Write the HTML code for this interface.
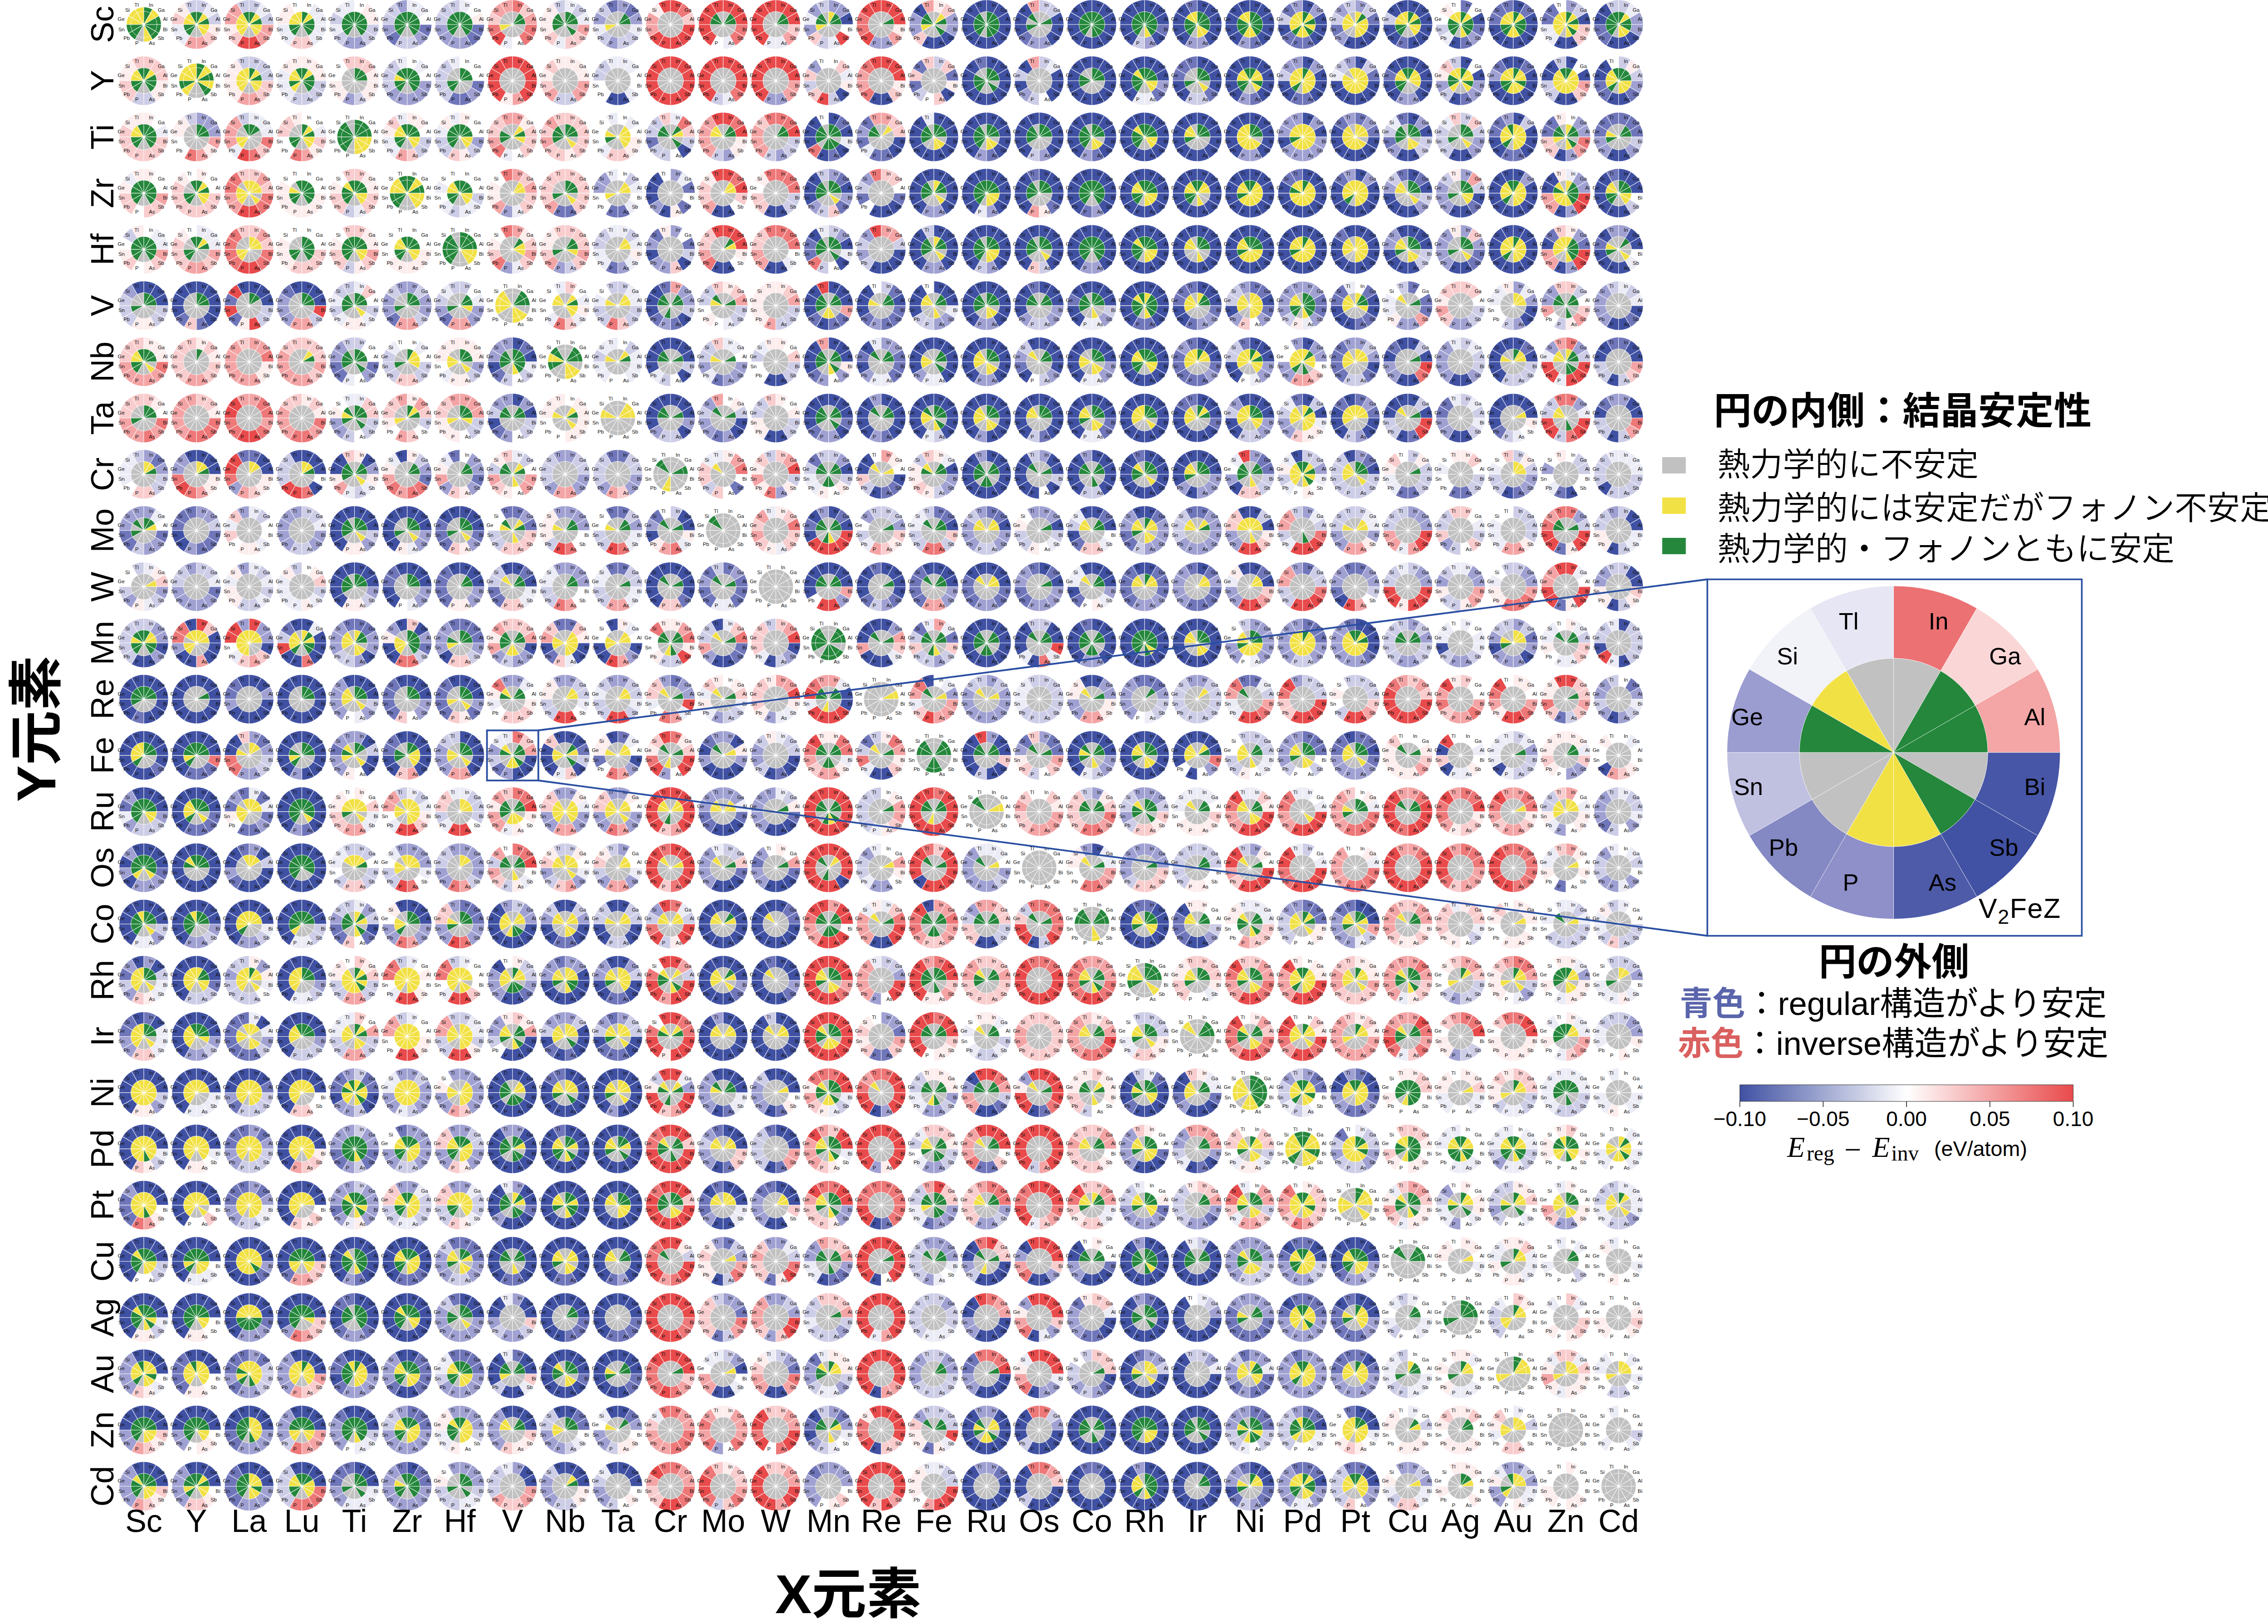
<!DOCTYPE html>
<html lang="ja"><head><meta charset="utf-8"><title>X2YZ Heusler stability map</title>
<style>html,body{margin:0;padding:0;background:#fff}svg{display:block}text{font-family:"Liberation Sans","Noto Sans CJK JP",sans-serif}.m text{font-family:"Liberation Serif",serif}.k1{fill:#ececf6}.a{fill:#fdeded}.k2{fill:#cdcde7}.b{fill:#f9cccd}.k3{fill:#a0a1d2}.c{fill:#f4a4a5}.k4{fill:#7076ba}.d{fill:#ee7778}.k5{fill:#4051a3}.e{fill:#e94a4b}.x{fill:#c1c1c1}.y{fill:#f2e144}.g{fill:#24873b}</style></head>
<body><svg width="5029" height="3581" viewBox="0 0 5029 3581">
<rect width="5029" height="3581" fill="#fff"/>
<defs><path id="daa" d="M0 0L0 -38A38 38 0 0 1 19 -32.9Z"/><path id="dac" d="M0 0L0 -38A38 38 0 0 1 38 0Z"/><path id="dae" d="M0 0L0 -38A38 38 0 0 1 19 32.9Z"/><path id="dal" d="M0 -38 A38 38 0 1 1 0 38 A38 38 0 1 1 0 -38Z"/><path id="dba" d="M0 0L19 -32.9A38 38 0 0 1 32.9 -19Z"/><path id="dbb" d="M0 0L19 -32.9A38 38 0 0 1 38 0Z"/><path id="dca" d="M0 0L32.9 -19A38 38 0 0 1 38 0Z"/><path id="dcc" d="M0 0L32.9 -19A38 38 0 0 1 19 32.9Z"/><path id="dda" d="M0 0L38 0A38 38 0 0 1 32.9 19Z"/><path id="ddb" d="M0 0L38 0A38 38 0 0 1 19 32.9Z"/><path id="ddc" d="M0 0L38 0A38 38 0 0 1 0 38Z"/><path id="dde" d="M0 0L38 0A38 38 0 0 1 -32.9 19Z"/><path id="ddf" d="M0 0L38 0A38 38 0 0 1 -38 0Z"/><path id="ddg" d="M0 0L38 0A38 38 0 1 1 -32.9 -19Z"/><path id="ddk" d="M0 0L38 0A38 38 0 1 1 32.9 -19Z"/><path id="dea" d="M0 0L32.9 19A38 38 0 0 1 19 32.9Z"/><path id="deb" d="M0 0L32.9 19A38 38 0 0 1 0 38Z"/><path id="dec" d="M0 0L32.9 19A38 38 0 0 1 -19 32.9Z"/><path id="dfa" d="M0 0L19 32.9A38 38 0 0 1 0 38Z"/><path id="dfb" d="M0 0L19 32.9A38 38 0 0 1 -19 32.9Z"/><path id="dfc" d="M0 0L19 32.9A38 38 0 0 1 -32.9 19Z"/><path id="dga" d="M0 0L0 38A38 38 0 0 1 -19 32.9Z"/><path id="dgb" d="M0 0L0 38A38 38 0 0 1 -32.9 19Z"/><path id="dgc" d="M0 0L0 38A38 38 0 0 1 -38 0Z"/><path id="dha" d="M0 0L-19 32.9A38 38 0 0 1 -32.9 19Z"/><path id="dhb" d="M0 0L-19 32.9A38 38 0 0 1 -38 0Z"/><path id="dhc" d="M0 0L-19 32.9A38 38 0 0 1 -32.9 -19Z"/><path id="dhd" d="M0 0L-19 32.9A38 38 0 0 1 -19 -32.9Z"/><path id="dia" d="M0 0L-32.9 19A38 38 0 0 1 -38 0Z"/><path id="dib" d="M0 0L-32.9 19A38 38 0 0 1 -32.9 -19Z"/><path id="dic" d="M0 0L-32.9 19A38 38 0 0 1 -19 -32.9Z"/><path id="dja" d="M0 0L-38 0A38 38 0 0 1 -32.9 -19Z"/><path id="djb" d="M0 0L-38 0A38 38 0 0 1 -19 -32.9Z"/><path id="djc" d="M0 0L-38 0A38 38 0 0 1 0 -38Z"/><path id="dka" d="M0 0L-32.9 -19A38 38 0 0 1 -19 -32.9Z"/><path id="dkb" d="M0 0L-32.9 -19A38 38 0 0 1 0 -38Z"/><path id="dkc" d="M0 0L-32.9 -19A38 38 0 0 1 19 -32.9Z"/><path id="dla" d="M0 0L-19 -32.9A38 38 0 0 1 0 -38Z"/><path id="dlb" d="M0 0L-19 -32.9A38 38 0 0 1 19 -32.9Z"/><path id="dlc" d="M0 0L-19 -32.9A38 38 0 0 1 32.9 -19Z"/><path id="dlk" d="M0 0L-19 -32.9A38 38 0 1 1 -32.9 -19Z"/><path id="iaa" d="M0 0L0 -28.5A28.5 28.5 0 0 1 14.2 -24.7Z"/><path id="iab" d="M0 0L0 -28.5A28.5 28.5 0 0 1 24.7 -14.3Z"/><path id="iac" d="M0 0L0 -28.5A28.5 28.5 0 0 1 28.5 0Z"/><path id="iad" d="M0 0L0 -28.5A28.5 28.5 0 0 1 24.7 14.2Z"/><path id="iae" d="M0 0L0 -28.5A28.5 28.5 0 0 1 14.2 24.7Z"/><path id="iaf" d="M0 0L0 -28.5A28.5 28.5 0 0 1 0 28.5Z"/><path id="ial" d="M0 -28.5 A28.5 28.5 0 1 1 0 28.5 A28.5 28.5 0 1 1 0 -28.5Z"/><path id="iba" d="M0 0L14.2 -24.7A28.5 28.5 0 0 1 24.7 -14.3Z"/><path id="ibb" d="M0 0L14.2 -24.7A28.5 28.5 0 0 1 28.5 0Z"/><path id="ibc" d="M0 0L14.2 -24.7A28.5 28.5 0 0 1 24.7 14.2Z"/><path id="ibd" d="M0 0L14.2 -24.7A28.5 28.5 0 0 1 14.2 24.7Z"/><path id="ibe" d="M0 0L14.2 -24.7A28.5 28.5 0 0 1 0 28.5Z"/><path id="ibf" d="M0 0L14.2 -24.7A28.5 28.5 0 0 1 -14.3 24.7Z"/><path id="ibg" d="M0 0L14.2 -24.7A28.5 28.5 0 1 1 -24.7 14.3Z"/><path id="ibh" d="M0 0L14.2 -24.7A28.5 28.5 0 1 1 -28.5 0Z"/><path id="ibj" d="M0 0L14.2 -24.7A28.5 28.5 0 1 1 -14.3 -24.7Z"/><path id="ibk" d="M0 0L14.2 -24.7A28.5 28.5 0 1 1 0 -28.5Z"/><path id="ica" d="M0 0L24.7 -14.3A28.5 28.5 0 0 1 28.5 0Z"/><path id="icb" d="M0 0L24.7 -14.3A28.5 28.5 0 0 1 24.7 14.2Z"/><path id="icc" d="M0 0L24.7 -14.3A28.5 28.5 0 0 1 14.2 24.7Z"/><path id="icd" d="M0 0L24.7 -14.3A28.5 28.5 0 0 1 0 28.5Z"/><path id="ice" d="M0 0L24.7 -14.3A28.5 28.5 0 0 1 -14.3 24.7Z"/><path id="icf" d="M0 0L24.7 -14.3A28.5 28.5 0 0 1 -24.7 14.3Z"/><path id="icg" d="M0 0L24.7 -14.3A28.5 28.5 0 1 1 -28.5 0Z"/><path id="ici" d="M0 0L24.7 -14.3A28.5 28.5 0 1 1 -14.3 -24.7Z"/><path id="icj" d="M0 0L24.7 -14.3A28.5 28.5 0 1 1 0 -28.5Z"/><path id="ick" d="M0 0L24.7 -14.3A28.5 28.5 0 1 1 14.2 -24.7Z"/><path id="ida" d="M0 0L28.5 0A28.5 28.5 0 0 1 24.7 14.2Z"/><path id="idb" d="M0 0L28.5 0A28.5 28.5 0 0 1 14.2 24.7Z"/><path id="idc" d="M0 0L28.5 0A28.5 28.5 0 0 1 0 28.5Z"/><path id="idd" d="M0 0L28.5 0A28.5 28.5 0 0 1 -14.3 24.7Z"/><path id="ide" d="M0 0L28.5 0A28.5 28.5 0 0 1 -24.7 14.3Z"/><path id="idf" d="M0 0L28.5 0A28.5 28.5 0 0 1 -28.5 0Z"/><path id="idg" d="M0 0L28.5 0A28.5 28.5 0 1 1 -24.7 -14.3Z"/><path id="idh" d="M0 0L28.5 0A28.5 28.5 0 1 1 -14.3 -24.7Z"/><path id="idi" d="M0 0L28.5 0A28.5 28.5 0 1 1 0 -28.5Z"/><path id="idj" d="M0 0L28.5 0A28.5 28.5 0 1 1 14.2 -24.7Z"/><path id="idk" d="M0 0L28.5 0A28.5 28.5 0 1 1 24.7 -14.2Z"/><path id="iea" d="M0 0L24.7 14.2A28.5 28.5 0 0 1 14.2 24.7Z"/><path id="ieb" d="M0 0L24.7 14.2A28.5 28.5 0 0 1 0 28.5Z"/><path id="iec" d="M0 0L24.7 14.2A28.5 28.5 0 0 1 -14.3 24.7Z"/><path id="ied" d="M0 0L24.7 14.2A28.5 28.5 0 0 1 -24.7 14.3Z"/><path id="ieg" d="M0 0L24.7 14.2A28.5 28.5 0 1 1 -14.3 -24.7Z"/><path id="ieh" d="M0 0L24.7 14.2A28.5 28.5 0 1 1 0 -28.5Z"/><path id="iei" d="M0 0L24.7 14.2A28.5 28.5 0 1 1 14.2 -24.7Z"/><path id="ifa" d="M0 0L14.2 24.7A28.5 28.5 0 0 1 0 28.5Z"/><path id="ifb" d="M0 0L14.2 24.7A28.5 28.5 0 0 1 -14.3 24.7Z"/><path id="ifc" d="M0 0L14.2 24.7A28.5 28.5 0 0 1 -24.7 14.3Z"/><path id="ifd" d="M0 0L14.2 24.7A28.5 28.5 0 0 1 -28.5 0Z"/><path id="iff" d="M0 0L14.2 24.7A28.5 28.5 0 0 1 -14.3 -24.7Z"/><path id="ifk" d="M0 0L14.2 24.7A28.5 28.5 0 1 1 24.7 14.2Z"/><path id="iga" d="M0 0L0 28.5A28.5 28.5 0 0 1 -14.3 24.7Z"/><path id="igb" d="M0 0L0 28.5A28.5 28.5 0 0 1 -24.7 14.3Z"/><path id="igc" d="M0 0L0 28.5A28.5 28.5 0 0 1 -28.5 0Z"/><path id="igi" d="M0 0L0 28.5A28.5 28.5 0 1 1 28.5 0Z"/><path id="igk" d="M0 0L0 28.5A28.5 28.5 0 1 1 14.2 24.7Z"/><path id="iha" d="M0 0L-14.3 24.7A28.5 28.5 0 0 1 -24.7 14.3Z"/><path id="ihb" d="M0 0L-14.3 24.7A28.5 28.5 0 0 1 -28.5 0Z"/><path id="ihc" d="M0 0L-14.3 24.7A28.5 28.5 0 0 1 -24.7 -14.3Z"/><path id="ihd" d="M0 0L-14.3 24.7A28.5 28.5 0 0 1 -14.3 -24.7Z"/><path id="ihe" d="M0 0L-14.3 24.7A28.5 28.5 0 0 1 0 -28.5Z"/><path id="ihf" d="M0 0L-14.3 24.7A28.5 28.5 0 0 1 14.2 -24.7Z"/><path id="ihh" d="M0 0L-14.3 24.7A28.5 28.5 0 1 1 28.5 0Z"/><path id="ihi" d="M0 0L-14.3 24.7A28.5 28.5 0 1 1 24.7 14.2Z"/><path id="ihj" d="M0 0L-14.3 24.7A28.5 28.5 0 1 1 14.2 24.7Z"/><path id="ihk" d="M0 0L-14.3 24.7A28.5 28.5 0 1 1 0 28.5Z"/><path id="iia" d="M0 0L-24.7 14.3A28.5 28.5 0 0 1 -28.5 0Z"/><path id="iib" d="M0 0L-24.7 14.3A28.5 28.5 0 0 1 -24.7 -14.3Z"/><path id="iic" d="M0 0L-24.7 14.3A28.5 28.5 0 0 1 -14.3 -24.7Z"/><path id="iid" d="M0 0L-24.7 14.3A28.5 28.5 0 0 1 0 -28.5Z"/><path id="iie" d="M0 0L-24.7 14.3A28.5 28.5 0 0 1 14.2 -24.7Z"/><path id="iig" d="M0 0L-24.7 14.3A28.5 28.5 0 1 1 28.5 0Z"/><path id="iih" d="M0 0L-24.7 14.3A28.5 28.5 0 1 1 24.7 14.2Z"/><path id="iij" d="M0 0L-24.7 14.3A28.5 28.5 0 1 1 0 28.5Z"/><path id="ija" d="M0 0L-28.5 0A28.5 28.5 0 0 1 -24.7 -14.3Z"/><path id="ijb" d="M0 0L-28.5 0A28.5 28.5 0 0 1 -14.3 -24.7Z"/><path id="ijc" d="M0 0L-28.5 0A28.5 28.5 0 0 1 0 -28.5Z"/><path id="ijd" d="M0 0L-28.5 0A28.5 28.5 0 0 1 14.2 -24.7Z"/><path id="ijf" d="M0 0L-28.5 0A28.5 28.5 0 0 1 28.5 0Z"/><path id="ijh" d="M0 0L-28.5 0A28.5 28.5 0 1 1 14.2 24.7Z"/><path id="ijk" d="M0 0L-28.5 0A28.5 28.5 0 1 1 -24.7 14.2Z"/><path id="ika" d="M0 0L-24.7 -14.3A28.5 28.5 0 0 1 -14.3 -24.7Z"/><path id="ikb" d="M0 0L-24.7 -14.3A28.5 28.5 0 0 1 0 -28.5Z"/><path id="ikc" d="M0 0L-24.7 -14.3A28.5 28.5 0 0 1 14.2 -24.7Z"/><path id="ikd" d="M0 0L-24.7 -14.3A28.5 28.5 0 0 1 24.7 -14.2Z"/><path id="ike" d="M0 0L-24.7 -14.3A28.5 28.5 0 0 1 28.5 0Z"/><path id="ikg" d="M0 0L-24.7 -14.3A28.5 28.5 0 1 1 14.2 24.7Z"/><path id="ila" d="M0 0L-14.3 -24.7A28.5 28.5 0 0 1 0 -28.5Z"/><path id="ilb" d="M0 0L-14.3 -24.7A28.5 28.5 0 0 1 14.2 -24.7Z"/><path id="ilc" d="M0 0L-14.3 -24.7A28.5 28.5 0 0 1 24.7 -14.2Z"/><path id="ild" d="M0 0L-14.3 -24.7A28.5 28.5 0 0 1 28.5 0Z"/><path id="ilf" d="M0 0L-14.3 -24.7A28.5 28.5 0 0 1 14.2 24.7Z"/><path id="ilg" d="M0 0L-14.3 -24.7A28.5 28.5 0 1 1 0 28.5Z"/><path id="ilk" d="M0 0L-14.3 -24.7A28.5 28.5 0 1 1 -24.7 -14.2Z"/><path id="oaa" d="M0 -53.7A53.7 53.7 0 0 1 26.8 -46.5L14.2 -24.7A28.5 28.5 0 0 0 0 -28.5Z"/><path id="oab" d="M0 -53.7A53.7 53.7 0 0 1 46.5 -26.9L24.7 -14.3A28.5 28.5 0 0 0 0 -28.5Z"/><path id="oac" d="M0 -53.7A53.7 53.7 0 0 1 53.7 0L28.5 0A28.5 28.5 0 0 0 0 -28.5Z"/><path id="oad" d="M0 -53.7A53.7 53.7 0 0 1 46.5 26.8L24.7 14.2A28.5 28.5 0 0 0 0 -28.5Z"/><path id="oae" d="M0 -53.7A53.7 53.7 0 0 1 26.8 46.5L14.2 24.7A28.5 28.5 0 0 0 0 -28.5Z"/><path id="oaj" d="M0 -53.7A53.7 53.7 0 1 1 -46.5 -26.9L-24.7 -14.3A28.5 28.5 0 1 0 0 -28.5Z"/><path id="oak" d="M0 -53.7A53.7 53.7 0 1 1 -26.9 -46.5L-14.3 -24.7A28.5 28.5 0 1 0 0 -28.5Z"/><path id="oal" d="M0 -53.7 A53.7 53.7 0 1 1 0 53.7 A53.7 53.7 0 1 1 0 -53.7ZM0 -28.5 A28.5 28.5 0 1 0 0 28.5 A28.5 28.5 0 1 0 0 -28.5Z"/><path id="oba" d="M26.8 -46.5A53.7 53.7 0 0 1 46.5 -26.9L24.7 -14.3A28.5 28.5 0 0 0 14.2 -24.7Z"/><path id="obb" d="M26.8 -46.5A53.7 53.7 0 0 1 53.7 0L28.5 0A28.5 28.5 0 0 0 14.2 -24.7Z"/><path id="obc" d="M26.8 -46.5A53.7 53.7 0 0 1 46.5 26.8L24.7 14.2A28.5 28.5 0 0 0 14.2 -24.7Z"/><path id="obd" d="M26.8 -46.5A53.7 53.7 0 0 1 26.8 46.5L14.2 24.7A28.5 28.5 0 0 0 14.2 -24.7Z"/><path id="obe" d="M26.8 -46.5A53.7 53.7 0 0 1 0 53.7L0 28.5A28.5 28.5 0 0 0 14.2 -24.7Z"/><path id="obf" d="M26.8 -46.5A53.7 53.7 0 0 1 -26.9 46.5L-14.3 24.7A28.5 28.5 0 0 0 14.2 -24.7Z"/><path id="obg" d="M26.8 -46.5A53.7 53.7 0 1 1 -46.5 26.9L-24.7 14.3A28.5 28.5 0 1 0 14.2 -24.7Z"/><path id="obj" d="M26.8 -46.5A53.7 53.7 0 1 1 -26.9 -46.5L-14.3 -24.7A28.5 28.5 0 1 0 14.2 -24.7Z"/><path id="obk" d="M26.8 -46.5A53.7 53.7 0 1 1 0 -53.7L0 -28.5A28.5 28.5 0 1 0 14.2 -24.7Z"/><path id="oca" d="M46.5 -26.9A53.7 53.7 0 0 1 53.7 0L28.5 0A28.5 28.5 0 0 0 24.7 -14.3Z"/><path id="ocb" d="M46.5 -26.9A53.7 53.7 0 0 1 46.5 26.8L24.7 14.2A28.5 28.5 0 0 0 24.7 -14.3Z"/><path id="occ" d="M46.5 -26.9A53.7 53.7 0 0 1 26.8 46.5L14.2 24.7A28.5 28.5 0 0 0 24.7 -14.3Z"/><path id="ocd" d="M46.5 -26.9A53.7 53.7 0 0 1 0 53.7L0 28.5A28.5 28.5 0 0 0 24.7 -14.3Z"/><path id="oce" d="M46.5 -26.9A53.7 53.7 0 0 1 -26.9 46.5L-14.3 24.7A28.5 28.5 0 0 0 24.7 -14.3Z"/><path id="ocg" d="M46.5 -26.9A53.7 53.7 0 1 1 -53.7 0L-28.5 0A28.5 28.5 0 1 0 24.7 -14.3Z"/><path id="och" d="M46.5 -26.9A53.7 53.7 0 1 1 -46.5 -26.9L-24.7 -14.3A28.5 28.5 0 1 0 24.7 -14.3Z"/><path id="oci" d="M46.5 -26.9A53.7 53.7 0 1 1 -26.9 -46.5L-14.3 -24.7A28.5 28.5 0 1 0 24.7 -14.3Z"/><path id="ock" d="M46.5 -26.9A53.7 53.7 0 1 1 26.9 -46.5L14.2 -24.7A28.5 28.5 0 1 0 24.7 -14.3Z"/><path id="oda" d="M53.7 0A53.7 53.7 0 0 1 46.5 26.8L24.7 14.2A28.5 28.5 0 0 0 28.5 0Z"/><path id="odb" d="M53.7 0A53.7 53.7 0 0 1 26.8 46.5L14.2 24.7A28.5 28.5 0 0 0 28.5 0Z"/><path id="odc" d="M53.7 0A53.7 53.7 0 0 1 0 53.7L0 28.5A28.5 28.5 0 0 0 28.5 0Z"/><path id="odd" d="M53.7 0A53.7 53.7 0 0 1 -26.9 46.5L-14.3 24.7A28.5 28.5 0 0 0 28.5 0Z"/><path id="ode" d="M53.7 0A53.7 53.7 0 0 1 -46.5 26.9L-24.7 14.3A28.5 28.5 0 0 0 28.5 0Z"/><path id="odf" d="M53.7 0A53.7 53.7 0 0 1 -53.7 0L-28.5 0A28.5 28.5 0 0 0 28.5 0Z"/><path id="odg" d="M53.7 0A53.7 53.7 0 1 1 -46.5 -26.9L-24.7 -14.3A28.5 28.5 0 1 0 28.5 0Z"/><path id="odh" d="M53.7 0A53.7 53.7 0 1 1 -26.9 -46.5L-14.3 -24.7A28.5 28.5 0 1 0 28.5 0Z"/><path id="odj" d="M53.7 0A53.7 53.7 0 1 1 26.9 -46.5L14.2 -24.7A28.5 28.5 0 1 0 28.5 0Z"/><path id="oea" d="M46.5 26.8A53.7 53.7 0 0 1 26.8 46.5L14.2 24.7A28.5 28.5 0 0 0 24.7 14.2Z"/><path id="oeb" d="M46.5 26.8A53.7 53.7 0 0 1 0 53.7L0 28.5A28.5 28.5 0 0 0 24.7 14.2Z"/><path id="oec" d="M46.5 26.8A53.7 53.7 0 0 1 -26.9 46.5L-14.3 24.7A28.5 28.5 0 0 0 24.7 14.2Z"/><path id="oed" d="M46.5 26.8A53.7 53.7 0 0 1 -46.5 26.9L-24.7 14.3A28.5 28.5 0 0 0 24.7 14.2Z"/><path id="oee" d="M46.5 26.8A53.7 53.7 0 0 1 -53.7 0L-28.5 0A28.5 28.5 0 0 0 24.7 14.2Z"/><path id="oef" d="M46.5 26.8A53.7 53.7 0 0 1 -46.5 -26.9L-24.7 -14.3A28.5 28.5 0 0 0 24.7 14.2Z"/><path id="oek" d="M46.5 26.8A53.7 53.7 0 1 1 53.7 0L28.5 0A28.5 28.5 0 1 0 24.7 14.2Z"/><path id="ofa" d="M26.8 46.5A53.7 53.7 0 0 1 0 53.7L0 28.5A28.5 28.5 0 0 0 14.2 24.7Z"/><path id="ofb" d="M26.8 46.5A53.7 53.7 0 0 1 -26.9 46.5L-14.3 24.7A28.5 28.5 0 0 0 14.2 24.7Z"/><path id="ofc" d="M26.8 46.5A53.7 53.7 0 0 1 -46.5 26.9L-24.7 14.3A28.5 28.5 0 0 0 14.2 24.7Z"/><path id="ofd" d="M26.8 46.5A53.7 53.7 0 0 1 -53.7 0L-28.5 0A28.5 28.5 0 0 0 14.2 24.7Z"/><path id="ofe" d="M26.8 46.5A53.7 53.7 0 0 1 -46.5 -26.9L-24.7 -14.3A28.5 28.5 0 0 0 14.2 24.7Z"/><path id="off" d="M26.8 46.5A53.7 53.7 0 0 1 -26.9 -46.5L-14.3 -24.7A28.5 28.5 0 0 0 14.2 24.7Z"/><path id="ofg" d="M26.8 46.5A53.7 53.7 0 1 1 0 -53.7L0 -28.5A28.5 28.5 0 1 0 14.2 24.7Z"/><path id="ofj" d="M26.8 46.5A53.7 53.7 0 1 1 53.7 0L28.5 0A28.5 28.5 0 1 0 14.2 24.7Z"/><path id="ofk" d="M26.8 46.5A53.7 53.7 0 1 1 46.5 26.8L24.7 14.2A28.5 28.5 0 1 0 14.2 24.7Z"/><path id="oga" d="M0 53.7A53.7 53.7 0 0 1 -26.9 46.5L-14.3 24.7A28.5 28.5 0 0 0 0 28.5Z"/><path id="ogb" d="M0 53.7A53.7 53.7 0 0 1 -46.5 26.9L-24.7 14.3A28.5 28.5 0 0 0 0 28.5Z"/><path id="ogc" d="M0 53.7A53.7 53.7 0 0 1 -53.7 0L-28.5 0A28.5 28.5 0 0 0 0 28.5Z"/><path id="ogd" d="M0 53.7A53.7 53.7 0 0 1 -46.5 -26.9L-24.7 -14.3A28.5 28.5 0 0 0 0 28.5Z"/><path id="oge" d="M0 53.7A53.7 53.7 0 0 1 -26.9 -46.5L-14.3 -24.7A28.5 28.5 0 0 0 0 28.5Z"/><path id="ogi" d="M0 53.7A53.7 53.7 0 1 1 53.7 0L28.5 0A28.5 28.5 0 1 0 0 28.5Z"/><path id="oha" d="M-26.9 46.5A53.7 53.7 0 0 1 -46.5 26.9L-24.7 14.3A28.5 28.5 0 0 0 -14.3 24.7Z"/><path id="ohb" d="M-26.9 46.5A53.7 53.7 0 0 1 -53.7 0L-28.5 0A28.5 28.5 0 0 0 -14.3 24.7Z"/><path id="ohc" d="M-26.9 46.5A53.7 53.7 0 0 1 -46.5 -26.9L-24.7 -14.3A28.5 28.5 0 0 0 -14.3 24.7Z"/><path id="ohd" d="M-26.9 46.5A53.7 53.7 0 0 1 -26.9 -46.5L-14.3 -24.7A28.5 28.5 0 0 0 -14.3 24.7Z"/><path id="ohe" d="M-26.9 46.5A53.7 53.7 0 0 1 0 -53.7L0 -28.5A28.5 28.5 0 0 0 -14.3 24.7Z"/><path id="ohf" d="M-26.9 46.5A53.7 53.7 0 0 1 26.9 -46.5L14.2 -24.7A28.5 28.5 0 0 0 -14.3 24.7Z"/><path id="ohh" d="M-26.9 46.5A53.7 53.7 0 1 1 53.7 0L28.5 0A28.5 28.5 0 1 0 -14.3 24.7Z"/><path id="ohi" d="M-26.9 46.5A53.7 53.7 0 1 1 46.5 26.8L24.7 14.2A28.5 28.5 0 1 0 -14.3 24.7Z"/><path id="ohj" d="M-26.9 46.5A53.7 53.7 0 1 1 26.8 46.5L14.2 24.7A28.5 28.5 0 1 0 -14.3 24.7Z"/><path id="ohk" d="M-26.9 46.5A53.7 53.7 0 1 1 0 53.7L0 28.5A28.5 28.5 0 1 0 -14.3 24.7Z"/><path id="oia" d="M-46.5 26.9A53.7 53.7 0 0 1 -53.7 0L-28.5 0A28.5 28.5 0 0 0 -24.7 14.3Z"/><path id="oib" d="M-46.5 26.9A53.7 53.7 0 0 1 -46.5 -26.9L-24.7 -14.3A28.5 28.5 0 0 0 -24.7 14.3Z"/><path id="oic" d="M-46.5 26.9A53.7 53.7 0 0 1 -26.9 -46.5L-14.3 -24.7A28.5 28.5 0 0 0 -24.7 14.3Z"/><path id="oid" d="M-46.5 26.9A53.7 53.7 0 0 1 0 -53.7L0 -28.5A28.5 28.5 0 0 0 -24.7 14.3Z"/><path id="oif" d="M-46.5 26.9A53.7 53.7 0 0 1 46.5 -26.8L24.7 -14.2A28.5 28.5 0 0 0 -24.7 14.3Z"/><path id="oig" d="M-46.5 26.9A53.7 53.7 0 1 1 53.7 0L28.5 0A28.5 28.5 0 1 0 -24.7 14.3Z"/><path id="oii" d="M-46.5 26.9A53.7 53.7 0 1 1 26.8 46.5L14.2 24.7A28.5 28.5 0 1 0 -24.7 14.3Z"/><path id="oja" d="M-53.7 0A53.7 53.7 0 0 1 -46.5 -26.9L-24.7 -14.3A28.5 28.5 0 0 0 -28.5 0Z"/><path id="ojb" d="M-53.7 0A53.7 53.7 0 0 1 -26.9 -46.5L-14.3 -24.7A28.5 28.5 0 0 0 -28.5 0Z"/><path id="ojc" d="M-53.7 0A53.7 53.7 0 0 1 0 -53.7L0 -28.5A28.5 28.5 0 0 0 -28.5 0Z"/><path id="ojd" d="M-53.7 0A53.7 53.7 0 0 1 26.9 -46.5L14.2 -24.7A28.5 28.5 0 0 0 -28.5 0Z"/><path id="oje" d="M-53.7 0A53.7 53.7 0 0 1 46.5 -26.8L24.7 -14.2A28.5 28.5 0 0 0 -28.5 0Z"/><path id="ojf" d="M-53.7 0A53.7 53.7 0 0 1 53.7 0L28.5 0A28.5 28.5 0 0 0 -28.5 0Z"/><path id="ojh" d="M-53.7 0A53.7 53.7 0 1 1 26.8 46.5L14.2 24.7A28.5 28.5 0 1 0 -28.5 0Z"/><path id="oka" d="M-46.5 -26.9A53.7 53.7 0 0 1 -26.9 -46.5L-14.3 -24.7A28.5 28.5 0 0 0 -24.7 -14.3Z"/><path id="okb" d="M-46.5 -26.9A53.7 53.7 0 0 1 0 -53.7L0 -28.5A28.5 28.5 0 0 0 -24.7 -14.3Z"/><path id="okc" d="M-46.5 -26.9A53.7 53.7 0 0 1 26.9 -46.5L14.2 -24.7A28.5 28.5 0 0 0 -24.7 -14.3Z"/><path id="okd" d="M-46.5 -26.9A53.7 53.7 0 0 1 46.5 -26.8L24.7 -14.2A28.5 28.5 0 0 0 -24.7 -14.3Z"/><path id="oke" d="M-46.5 -26.9A53.7 53.7 0 0 1 53.7 0L28.5 0A28.5 28.5 0 0 0 -24.7 -14.3Z"/><path id="okg" d="M-46.5 -26.9A53.7 53.7 0 1 1 26.8 46.5L14.2 24.7A28.5 28.5 0 1 0 -24.7 -14.3Z"/><path id="okh" d="M-46.5 -26.9A53.7 53.7 0 1 1 0 53.7L0 28.5A28.5 28.5 0 1 0 -24.7 -14.3Z"/><path id="okj" d="M-46.5 -26.9A53.7 53.7 0 1 1 -46.5 26.8L-24.7 14.2A28.5 28.5 0 1 0 -24.7 -14.3Z"/><path id="ola" d="M-26.9 -46.5A53.7 53.7 0 0 1 0 -53.7L0 -28.5A28.5 28.5 0 0 0 -14.3 -24.7Z"/><path id="olb" d="M-26.9 -46.5A53.7 53.7 0 0 1 26.9 -46.5L14.2 -24.7A28.5 28.5 0 0 0 -14.3 -24.7Z"/><path id="olc" d="M-26.9 -46.5A53.7 53.7 0 0 1 46.5 -26.8L24.7 -14.2A28.5 28.5 0 0 0 -14.3 -24.7Z"/><path id="old" d="M-26.9 -46.5A53.7 53.7 0 0 1 53.7 0L28.5 0A28.5 28.5 0 0 0 -14.3 -24.7Z"/><path id="ole" d="M-26.9 -46.5A53.7 53.7 0 0 1 46.5 26.8L24.7 14.2A28.5 28.5 0 0 0 -14.3 -24.7Z"/><path id="olf" d="M-26.9 -46.5A53.7 53.7 0 0 1 26.8 46.5L14.2 24.7A28.5 28.5 0 0 0 -14.3 -24.7Z"/><path id="olg" d="M-26.9 -46.5A53.7 53.7 0 1 1 0 53.7L0 28.5A28.5 28.5 0 1 0 -14.3 -24.7Z"/><path id="oli" d="M-26.9 -46.5A53.7 53.7 0 1 1 -46.5 26.8L-24.7 14.2A28.5 28.5 0 1 0 -14.3 -24.7Z"/><path id="olk" d="M-26.9 -46.5A53.7 53.7 0 1 1 -46.5 -26.8L-24.7 -14.2A28.5 28.5 0 1 0 -14.3 -24.7Z"/><g id="S" fill="none" stroke="#fff" stroke-opacity="1"><path d="M0 -53.7L0 53.7M26.8 -46.5L-26.8 46.5M46.5 -26.9L-46.5 26.9M53.7 0L-53.7 0M46.5 26.8L-46.5 -26.8M26.8 46.5L-26.8 -46.5" stroke-width="1.1"/><circle r="28.5" stroke-width="0.8"/></g><g id="T" fill="none" stroke="#fff" stroke-opacity="1"><path d="M0 -38L0 38M19 -32.9L-19 32.9M32.9 -19L-32.9 19M38 0L-38 0M32.9 19L-32.9 -19M19 32.9L-19 -32.9" stroke-width="1.1"/><circle r="29" stroke-width="0.8"/></g><g id="L" font-size="11.4" fill="#111"><text x="11.3" y="-39">In</text><text x="30.9" y="-27.7">Ga</text><text x="42.2" y="-8.1">Al</text><text x="42.2" y="14.5">Bi</text><text x="30.9" y="34.1">Sb</text><text x="11.3" y="45.4">As</text><text x="-11.3" y="45.4" text-anchor="end">P</text><text x="-30.9" y="34.1" text-anchor="end">Pb</text><text x="-42.2" y="14.5" text-anchor="end">Sn</text><text x="-42.2" y="-8.1" text-anchor="end">Ge</text><text x="-30.9" y="-27.7" text-anchor="end">Si</text><text x="-11.3" y="-39" text-anchor="end">Tl</text></g></defs><g transform="translate(0,54)">
<g transform="translate(317)"><use href="#daa" class="g"/><use href="#dba" class="y"/><use href="#dcc" class="g"/><use href="#dfa" class="y"/><use href="#dga" class="x"/><use href="#dhb" class="g"/><use href="#djc" class="y"/><use href="#T"/><use href="#L"/></g>
<g transform="translate(433.1)"><use href="#oba" class="k1"/><use href="#oca" class="k2"/><use href="#oda" class="a"/><use href="#oea" class="b"/><use href="#ofb" class="c"/><use href="#ohb" class="k1"/><use href="#oja" class="b"/><use href="#oka" class="a"/><use href="#olb" class="k2"/><use href="#iba" class="y"/><use href="#ica" class="g"/><use href="#idb" class="y"/><use href="#ifb" class="x"/><use href="#ihb" class="g"/><use href="#ijb" class="y"/><use href="#ilb" class="g"/><use href="#S"/><use href="#L"/></g>
<g transform="translate(549.2)"><use href="#oba" class="k1"/><use href="#oca" class="k2"/><use href="#odb" class="c"/><use href="#ofb" class="e"/><use href="#oha" class="b"/><use href="#oia" class="a"/><use href="#ojb" class="c"/><use href="#olb" class="k2"/><use href="#iba" class="y"/><use href="#ica" class="g"/><use href="#idb" class="y"/><use href="#ifb" class="x"/><use href="#ihd" class="y"/><use href="#ilb" class="g"/><use href="#S"/><use href="#L"/></g>
<g transform="translate(665.4)"><use href="#obd" class="k1"/><use href="#ofb" class="b"/><use href="#ohb" class="k1"/><use href="#ojb" class="a"/><use href="#iaa" class="g"/><use href="#iba" class="y"/><use href="#icc" class="g"/><use href="#ifb" class="x"/><use href="#ihb" class="g"/><use href="#ijc" class="y"/><use href="#S"/><use href="#L"/></g>
<g transform="translate(781.5)"><use href="#obb" class="a"/><use href="#odb" class="k2"/><use href="#ofb" class="k3"/><use href="#oha" class="k2"/><use href="#oia" class="k1"/><use href="#oja" class="k2"/><use href="#okb" class="k1"/><use href="#ifb" class="x"/><use href="#ihj" class="g"/><use href="#S"/><use href="#L"/></g>
<g transform="translate(897.6)"><use href="#oab" class="k1"/><use href="#oda" class="k4"/><use href="#oea" class="k3"/><use href="#ofb" class="k2"/><use href="#oha" class="k4"/><use href="#oia" class="k3"/><use href="#ojb" class="k2"/><use href="#ola" class="k3"/><use href="#ifb" class="x"/><use href="#ihj" class="g"/><use href="#S"/><use href="#L"/></g>
<g transform="translate(1013.7)"><use href="#oaa" class="k1"/><use href="#oca" class="a"/><use href="#odb" class="k4"/><use href="#ofd" class="k3"/><use href="#ojc" class="k2"/><use href="#ifb" class="x"/><use href="#ihj" class="g"/><use href="#S"/><use href="#L"/></g>
<g transform="translate(1129.8)"><use href="#oaa" class="d"/><use href="#oba" class="b"/><use href="#oca" class="c"/><use href="#odb" class="d"/><use href="#oga" class="k1"/><use href="#oha" class="e"/><use href="#oia" class="d"/><use href="#oja" class="b"/><use href="#okb" class="c"/><use href="#ibb" class="g"/><use href="#ide" class="x"/><use href="#iia" class="y"/><use href="#ijd" class="x"/><use href="#S"/><use href="#L"/></g>
<g transform="translate(1246)"><use href="#oaa" class="k1"/><use href="#oba" class="k2"/><use href="#oca" class="k1"/><use href="#oda" class="c"/><use href="#oeb" class="b"/><use href="#oga" class="k1"/><use href="#oha" class="b"/><use href="#oic" class="a"/><use href="#ola" class="k2"/><use href="#iac" class="g"/><use href="#ida" class="x"/><use href="#iea" class="g"/><use href="#ifc" class="x"/><use href="#iic" class="g"/><use href="#ila" class="x"/><use href="#S"/><use href="#L"/></g>
<g transform="translate(1362.1)"><use href="#oaa" class="k3"/><use href="#oba" class="k4"/><use href="#oca" class="k3"/><use href="#oda" class="k1"/><use href="#oeb" class="k2"/><use href="#oga" class="k3"/><use href="#oha" class="k2"/><use href="#oia" class="k1"/><use href="#oja" class="k3"/><use href="#oka" class="k2"/><use href="#ola" class="k4"/><use href="#ibb" class="g"/><use href="#ide" class="x"/><use href="#iia" class="y"/><use href="#ijd" class="x"/><use href="#S"/><use href="#L"/></g>
<g transform="translate(1478.2)"><use href="#oba" class="d"/><use href="#oca" class="b"/><use href="#ode" class="e"/><use href="#oib" class="c"/><use href="#oka" class="a"/><use href="#olb" class="e"/><use href="#ial" class="x"/><use href="#S"/><use href="#L"/></g>
<g transform="translate(1594.3)"><use href="#odb" class="d"/><use href="#ofa" class="k1"/><use href="#ohh" class="e"/><use href="#ibb" class="g"/><use href="#idf" class="x"/><use href="#ijb" class="g"/><use href="#ilb" class="x"/><use href="#S"/><use href="#L"/></g>
<g transform="translate(1710.4)"><use href="#oda" class="b"/><use href="#oea" class="c"/><use href="#ofb" class="k1"/><use href="#ohh" class="e"/><use href="#ibb" class="g"/><use href="#idj" class="x"/><use href="#S"/><use href="#L"/></g>
<g transform="translate(1826.6)"><use href="#oab" class="k3"/><use href="#oca" class="k5"/><use href="#oea" class="e"/><use href="#ofa" class="k1"/><use href="#oga" class="k2"/><use href="#oha" class="b"/><use href="#oia" class="k3"/><use href="#oja" class="k1"/><use href="#oka" class="k3"/><use href="#ola" class="k2"/><use href="#iaa" class="y"/><use href="#ibb" class="g"/><use href="#ide" class="x"/><use href="#iia" class="y"/><use href="#ijb" class="g"/><use href="#ila" class="x"/><use href="#S"/><use href="#L"/></g>
<g transform="translate(1942.7)"><use href="#oda" class="a"/><use href="#oea" class="c"/><use href="#ofb" class="k3"/><use href="#oha" class="e"/><use href="#oib" class="d"/><use href="#oke" class="e"/><use href="#ica" class="g"/><use href="#idk" class="x"/><use href="#S"/><use href="#L"/></g>
<g transform="translate(2058.8)"><use href="#oaa" class="a"/><use href="#oba" class="b"/><use href="#ocb" class="k3"/><use href="#oec" class="k5"/><use href="#oha" class="b"/><use href="#oib" class="k3"/><use href="#oka" class="k5"/><use href="#ola" class="c"/><use href="#iba" class="y"/><use href="#ica" class="g"/><use href="#ida" class="x"/><use href="#iea" class="g"/><use href="#ifc" class="x"/><use href="#iia" class="y"/><use href="#ijb" class="g"/><use href="#ilb" class="x"/><use href="#S"/><use href="#L"/></g>
<g transform="translate(2174.9)"><use href="#oal" class="k5"/><use href="#iaf" class="g"/><use href="#iga" class="x"/><use href="#ihd" class="g"/><use href="#ila" class="x"/><use href="#S"/><use href="#L"/></g>
<g transform="translate(2291)"><use href="#oab" class="k2"/><use href="#occ" class="k5"/><use href="#ofb" class="k3"/><use href="#oha" class="k4"/><use href="#oic" class="k5"/><use href="#ola" class="c"/><use href="#ica" class="g"/><use href="#ide" class="x"/><use href="#iia" class="g"/><use href="#ija" class="x"/><use href="#ika" class="g"/><use href="#ilc" class="x"/><use href="#S"/><use href="#L"/></g>
<g transform="translate(2407.2)"><use href="#oal" class="k5"/><use href="#iga" class="x"/><use href="#ihk" class="g"/><use href="#S"/><use href="#L"/></g>
<g transform="translate(2523.3)"><use href="#oda" class="k4"/><use href="#oea" class="k5"/><use href="#ofa" class="k3"/><use href="#oga" class="k2"/><use href="#ohh" class="k5"/><use href="#ifa" class="y"/><use href="#iga" class="x"/><use href="#ihj" class="g"/><use href="#S"/><use href="#L"/></g>
<g transform="translate(2639.4)"><use href="#oae" class="k5"/><use href="#ofb" class="k3"/><use href="#ohd" class="k5"/><use href="#ola" class="k4"/><use href="#iad" class="g"/><use href="#ieb" class="y"/><use href="#iga" class="x"/><use href="#ihc" class="g"/><use href="#ikb" class="y"/><use href="#S"/><use href="#L"/></g>
<g transform="translate(2755.5)"><use href="#ofa" class="k4"/><use href="#oga" class="k3"/><use href="#ohj" class="k5"/><use href="#iae" class="g"/><use href="#ifb" class="y"/><use href="#ihc" class="g"/><use href="#ikb" class="y"/><use href="#S"/><use href="#L"/></g>
<g transform="translate(2871.6)"><use href="#oaa" class="k5"/><use href="#oba" class="k3"/><use href="#occ" class="k5"/><use href="#ofc" class="k4"/><use href="#oia" class="k5"/><use href="#oja" class="k2"/><use href="#oka" class="k4"/><use href="#ola" class="k3"/><use href="#iaa" class="g"/><use href="#iba" class="y"/><use href="#ica" class="g"/><use href="#ida" class="y"/><use href="#iea" class="g"/><use href="#ifb" class="y"/><use href="#iha" class="g"/><use href="#iid" class="y"/><use href="#S"/><use href="#L"/></g>
<g transform="translate(2987.8)"><use href="#oaa" class="k3"/><use href="#oba" class="k2"/><use href="#oca" class="k4"/><use href="#odd" class="k5"/><use href="#oha" class="k3"/><use href="#oia" class="k4"/><use href="#oja" class="k2"/><use href="#oka" class="k3"/><use href="#ola" class="k2"/><use href="#iaa" class="y"/><use href="#iba" class="g"/><use href="#icd" class="y"/><use href="#igb" class="x"/><use href="#iic" class="y"/><use href="#ila" class="x"/><use href="#S"/><use href="#L"/></g>
<g transform="translate(3103.9)"><use href="#oga" class="k4"/><use href="#ohb" class="k5"/><use href="#oja" class="k2"/><use href="#okh" class="k5"/><use href="#iaa" class="g"/><use href="#iba" class="y"/><use href="#ica" class="g"/><use href="#idb" class="y"/><use href="#ifb" class="x"/><use href="#ihb" class="g"/><use href="#ijc" class="y"/><use href="#S"/><use href="#L"/></g>
<g transform="translate(3220)"><use href="#oaa" class="k4"/><use href="#oca" class="k5"/><use href="#oda" class="k4"/><use href="#oea" class="k3"/><use href="#ofa" class="k4"/><use href="#oga" class="k5"/><use href="#oha" class="k1"/><use href="#oia" class="k2"/><use href="#oka" class="a"/><use href="#iaa" class="g"/><use href="#iba" class="y"/><use href="#icc" class="g"/><use href="#ifa" class="y"/><use href="#iga" class="x"/><use href="#ihc" class="g"/><use href="#ikb" class="y"/><use href="#S"/><use href="#L"/></g>
<g transform="translate(3336.1)"><use href="#oaa" class="k5"/><use href="#oba" class="k4"/><use href="#ocg" class="k5"/><use href="#ojc" class="k4"/><use href="#iaa" class="g"/><use href="#iba" class="y"/><use href="#icc" class="g"/><use href="#ifb" class="y"/><use href="#ihb" class="g"/><use href="#ijc" class="y"/><use href="#S"/><use href="#L"/></g>
<g transform="translate(3452.2)"><use href="#oaa" class="k3"/><use href="#oba" class="k2"/><use href="#oca" class="k5"/><use href="#odb" class="b"/><use href="#ofb" class="k5"/><use href="#ohb" class="k1"/><use href="#ojb" class="k4"/><use href="#iaa" class="g"/><use href="#iba" class="y"/><use href="#ica" class="g"/><use href="#ida" class="y"/><use href="#iea" class="g"/><use href="#ifa" class="y"/><use href="#iga" class="x"/><use href="#ihe" class="y"/><use href="#S"/><use href="#L"/></g>
<g transform="translate(3568.4)"><use href="#oba" class="k1"/><use href="#ocb" class="k3"/><use href="#oec" class="k5"/><use href="#ohb" class="k4"/><use href="#ojb" class="k5"/><use href="#olb" class="k2"/><use href="#iba" class="y"/><use href="#icb" class="g"/><use href="#ieb" class="y"/><use href="#iga" class="x"/><use href="#ihf" class="g"/><use href="#S"/><use href="#L"/></g>
</g>
<g transform="translate(0,178)">
<g transform="translate(317)"><use href="#odb" class="a"/><use href="#ofb" class="k2"/><use href="#ohb" class="b"/><use href="#ojb" class="a"/><use href="#old" class="b"/><use href="#iba" class="y"/><use href="#icc" class="g"/><use href="#ifb" class="x"/><use href="#ihb" class="g"/><use href="#ijb" class="y"/><use href="#ilb" class="g"/><use href="#S"/><use href="#L"/></g>
<g transform="translate(433.1)"><use href="#daa" class="g"/><use href="#dba" class="y"/><use href="#dca" class="g"/><use href="#dda" class="y"/><use href="#dea" class="g"/><use href="#dfb" class="x"/><use href="#dha" class="y"/><use href="#dia" class="g"/><use href="#djc" class="y"/><use href="#T"/><use href="#L"/></g>
<g transform="translate(549.2)"><use href="#odb" class="b"/><use href="#ofb" class="c"/><use href="#ohd" class="a"/><use href="#old" class="k2"/><use href="#iaa" class="g"/><use href="#iba" class="y"/><use href="#ica" class="g"/><use href="#idb" class="y"/><use href="#ifb" class="x"/><use href="#ihe" class="y"/><use href="#S"/><use href="#L"/></g>
<g transform="translate(665.4)"><use href="#odd" class="k2"/><use href="#ohc" class="k1"/><use href="#oke" class="a"/><use href="#iba" class="y"/><use href="#icc" class="g"/><use href="#ifb" class="x"/><use href="#iha" class="y"/><use href="#iia" class="g"/><use href="#ijb" class="y"/><use href="#ilb" class="g"/><use href="#S"/><use href="#L"/></g>
<g transform="translate(781.5)"><use href="#occ" class="a"/><use href="#ofa" class="k2"/><use href="#oga" class="k3"/><use href="#ohb" class="a"/><use href="#olc" class="b"/><use href="#iac" class="g"/><use href="#idi" class="x"/><use href="#S"/><use href="#L"/></g>
<g transform="translate(897.6)"><use href="#oba" class="k1"/><use href="#ode" class="k3"/><use href="#oic" class="k2"/><use href="#ola" class="k1"/><use href="#ifb" class="x"/><use href="#ihb" class="g"/><use href="#ija" class="y"/><use href="#ikg" class="g"/><use href="#S"/><use href="#L"/></g>
<g transform="translate(1013.7)"><use href="#oda" class="k4"/><use href="#oea" class="k3"/><use href="#ofb" class="k4"/><use href="#ohd" class="k2"/><use href="#ola" class="k1"/><use href="#iac" class="g"/><use href="#idd" class="x"/><use href="#ihb" class="g"/><use href="#ijc" class="x"/><use href="#S"/><use href="#L"/></g>
<g transform="translate(1129.8)"><use href="#ofa" class="c"/><use href="#oga" class="a"/><use href="#ohj" class="e"/><use href="#ial" class="x"/><use href="#S"/><use href="#L"/></g>
<g transform="translate(1246)"><use href="#odb" class="c"/><use href="#ofb" class="k2"/><use href="#oha" class="c"/><use href="#oia" class="b"/><use href="#oja" class="a"/><use href="#oka" class="b"/><use href="#old" class="a"/><use href="#ial" class="x"/><use href="#S"/><use href="#L"/></g>
<g transform="translate(1362.1)"><use href="#oea" class="k1"/><use href="#ofb" class="k5"/><use href="#ojb" class="k2"/><use href="#olc" class="k1"/><use href="#ial" class="x"/><use href="#S"/><use href="#L"/></g>
<g transform="translate(1478.2)"><use href="#oal" class="e"/><use href="#ial" class="x"/><use href="#S"/><use href="#L"/></g>
<g transform="translate(1594.3)"><use href="#oea" class="d"/><use href="#ofa" class="k1"/><use href="#oga" class="k2"/><use href="#ohi" class="e"/><use href="#ial" class="x"/><use href="#S"/><use href="#L"/></g>
<g transform="translate(1710.4)"><use href="#odb" class="c"/><use href="#ofb" class="k3"/><use href="#ohh" class="e"/><use href="#ial" class="x"/><use href="#S"/><use href="#L"/></g>
<g transform="translate(1826.6)"><use href="#oba" class="b"/><use href="#oca" class="k1"/><use href="#oda" class="a"/><use href="#oea" class="k5"/><use href="#ofa" class="k2"/><use href="#oga" class="e"/><use href="#oha" class="b"/><use href="#oia" class="k2"/><use href="#oja" class="b"/><use href="#oka" class="k3"/><use href="#ial" class="x"/><use href="#S"/><use href="#L"/></g>
<g transform="translate(1942.7)"><use href="#oda" class="a"/><use href="#oea" class="b"/><use href="#ofb" class="k5"/><use href="#oha" class="d"/><use href="#oib" class="c"/><use href="#oka" class="d"/><use href="#old" class="e"/><use href="#ial" class="x"/><use href="#S"/><use href="#L"/></g>
<g transform="translate(2058.8)"><use href="#oaa" class="k2"/><use href="#oba" class="b"/><use href="#oca" class="k4"/><use href="#oda" class="a"/><use href="#oea" class="k5"/><use href="#ofa" class="b"/><use href="#oha" class="k2"/><use href="#oia" class="k4"/><use href="#oja" class="b"/><use href="#oka" class="k4"/><use href="#ola" class="b"/><use href="#ial" class="x"/><use href="#S"/><use href="#L"/></g>
<g transform="translate(2174.9)"><use href="#oak" class="k5"/><use href="#ola" class="k4"/><use href="#iac" class="g"/><use href="#ida" class="x"/><use href="#iea" class="g"/><use href="#ifb" class="x"/><use href="#ihc" class="g"/><use href="#ikb" class="x"/><use href="#S"/><use href="#L"/></g>
<g transform="translate(2291)"><use href="#oaa" class="k2"/><use href="#oba" class="k1"/><use href="#occ" class="k5"/><use href="#oga" class="k2"/><use href="#oha" class="k3"/><use href="#oia" class="k5"/><use href="#oja" class="k2"/><use href="#oka" class="k5"/><use href="#ola" class="c"/><use href="#ial" class="x"/><use href="#S"/><use href="#L"/></g>
<g transform="translate(2407.2)"><use href="#oal" class="k5"/><use href="#iac" class="g"/><use href="#ide" class="x"/><use href="#iib" class="g"/><use href="#ikb" class="x"/><use href="#S"/><use href="#L"/></g>
<g transform="translate(2523.3)"><use href="#oda" class="k3"/><use href="#oea" class="k4"/><use href="#ofb" class="k1"/><use href="#ohh" class="k5"/><use href="#idb" class="y"/><use href="#ifb" class="x"/><use href="#ihc" class="g"/><use href="#ika" class="y"/><use href="#ild" class="g"/><use href="#S"/><use href="#L"/></g>
<g transform="translate(2639.4)"><use href="#oad" class="k5"/><use href="#oea" class="k4"/><use href="#ofb" class="k2"/><use href="#ohb" class="k5"/><use href="#ojc" class="k4"/><use href="#iac" class="g"/><use href="#ida" class="x"/><use href="#iea" class="y"/><use href="#ifc" class="x"/><use href="#iia" class="g"/><use href="#ijc" class="x"/><use href="#S"/><use href="#L"/></g>
<g transform="translate(2755.5)"><use href="#ofa" class="k4"/><use href="#oga" class="k3"/><use href="#ohj" class="k5"/><use href="#ibb" class="y"/><use href="#ida" class="g"/><use href="#iea" class="y"/><use href="#ifb" class="x"/><use href="#ihb" class="g"/><use href="#ijb" class="y"/><use href="#ilb" class="g"/><use href="#S"/><use href="#L"/></g>
<g transform="translate(2871.6)"><use href="#oaa" class="k5"/><use href="#oba" class="k3"/><use href="#occ" class="k5"/><use href="#ofb" class="k4"/><use href="#ohb" class="k5"/><use href="#oja" class="k2"/><use href="#okb" class="k3"/><use href="#iaa" class="g"/><use href="#ibe" class="y"/><use href="#iga" class="x"/><use href="#iha" class="g"/><use href="#iid" class="y"/><use href="#S"/><use href="#L"/></g>
<g transform="translate(2987.8)"><use href="#oaa" class="k5"/><use href="#oba" class="k2"/><use href="#oca" class="k4"/><use href="#odf" class="k5"/><use href="#oja" class="k1"/><use href="#oka" class="k2"/><use href="#ola" class="k3"/><use href="#ika" class="x"/><use href="#ilk" class="y"/><use href="#S"/><use href="#L"/></g>
<g transform="translate(3103.9)"><use href="#ofb" class="k3"/><use href="#ohb" class="k5"/><use href="#oja" class="k4"/><use href="#okg" class="k5"/><use href="#ibc" class="y"/><use href="#iec" class="x"/><use href="#ihb" class="g"/><use href="#ijb" class="y"/><use href="#ilb" class="g"/><use href="#S"/><use href="#L"/></g>
<g transform="translate(3220)"><use href="#oaa" class="k5"/><use href="#oca" class="k5"/><use href="#odb" class="k3"/><use href="#ofa" class="k4"/><use href="#oga" class="k5"/><use href="#oha" class="k2"/><use href="#oia" class="k3"/><use href="#oja" class="a"/><use href="#oka" class="b"/><use href="#ola" class="k2"/><use href="#iaa" class="g"/><use href="#ibb" class="y"/><use href="#ida" class="g"/><use href="#iea" class="y"/><use href="#ifb" class="x"/><use href="#iha" class="y"/><use href="#iib" class="g"/><use href="#ikb" class="y"/><use href="#S"/><use href="#L"/></g>
<g transform="translate(3336.1)"><use href="#oba" class="k4"/><use href="#ocg" class="k5"/><use href="#oja" class="k3"/><use href="#oka" class="k4"/><use href="#olb" class="k5"/><use href="#iaa" class="g"/><use href="#ibb" class="y"/><use href="#ida" class="g"/><use href="#iec" class="y"/><use href="#ihb" class="g"/><use href="#ijc" class="y"/><use href="#S"/><use href="#L"/></g>
<g transform="translate(3452.2)"><use href="#oaa" class="k5"/><use href="#oca" class="k5"/><use href="#oda" class="c"/><use href="#oea" class="b"/><use href="#ofb" class="k5"/><use href="#ohb" class="k2"/><use href="#ojb" class="k5"/><use href="#ola" class="k2"/><use href="#ibj" class="y"/><use href="#ilb" class="g"/><use href="#S"/><use href="#L"/></g>
<g transform="translate(3568.4)"><use href="#oaa" class="k2"/><use href="#oba" class="a"/><use href="#oca" class="k2"/><use href="#oda" class="k3"/><use href="#oea" class="k4"/><use href="#ofb" class="k5"/><use href="#ohb" class="k4"/><use href="#ojb" class="k5"/><use href="#idc" class="y"/><use href="#iga" class="x"/><use href="#iha" class="g"/><use href="#iic" class="y"/><use href="#ild" class="g"/><use href="#S"/><use href="#L"/></g>
</g>
<g transform="translate(0,301.9)">
<g transform="translate(317)"><use href="#oca" class="k1"/><use href="#odg" class="b"/><use href="#okc" class="a"/><use href="#ifb" class="x"/><use href="#ihb" class="g"/><use href="#ijb" class="y"/><use href="#ilf" class="g"/><use href="#S"/><use href="#L"/></g>
<g transform="translate(433.1)"><use href="#oac" class="k3"/><use href="#oda" class="c"/><use href="#oea" class="a"/><use href="#ofa" class="c"/><use href="#oga" class="d"/><use href="#ojb" class="a"/><use href="#ola" class="k2"/><use href="#iac" class="g"/><use href="#idi" class="x"/><use href="#S"/><use href="#L"/></g>
<g transform="translate(549.2)"><use href="#oac" class="k1"/><use href="#oda" class="d"/><use href="#oea" class="b"/><use href="#ofa" class="d"/><use href="#oga" class="e"/><use href="#oha" class="k1"/><use href="#oic" class="c"/><use href="#ola" class="k2"/><use href="#ice" class="x"/><use href="#ihb" class="y"/><use href="#ijb" class="x"/><use href="#ilc" class="g"/><use href="#S"/><use href="#L"/></g>
<g transform="translate(665.4)"><use href="#oca" class="k1"/><use href="#oda" class="b"/><use href="#oea" class="a"/><use href="#ofa" class="c"/><use href="#oga" class="d"/><use href="#ojb" class="b"/><use href="#ola" class="a"/><use href="#iaa" class="g"/><use href="#iba" class="y"/><use href="#ica" class="g"/><use href="#idb" class="y"/><use href="#ifb" class="x"/><use href="#ihb" class="g"/><use href="#ijc" class="x"/><use href="#S"/><use href="#L"/></g>
<g transform="translate(781.5)"><use href="#dac" class="g"/><use href="#ddc" class="y"/><use href="#dga" class="x"/><use href="#dhd" class="g"/><use href="#dla" class="x"/><use href="#T"/><use href="#L"/></g>
<g transform="translate(897.6)"><use href="#oab" class="a"/><use href="#odb" class="k2"/><use href="#ofa" class="b"/><use href="#oga" class="c"/><use href="#ohb" class="k1"/><use href="#oja" class="a"/><use href="#oka" class="b"/><use href="#ola" class="k1"/><use href="#idb" class="y"/><use href="#ifb" class="x"/><use href="#ihb" class="g"/><use href="#ijb" class="y"/><use href="#ild" class="g"/><use href="#S"/><use href="#L"/></g>
<g transform="translate(1013.7)"><use href="#oaa" class="a"/><use href="#oda" class="k3"/><use href="#oea" class="k2"/><use href="#ofa" class="a"/><use href="#oga" class="b"/><use href="#ohb" class="k2"/><use href="#oja" class="k1"/><use href="#oka" class="a"/><use href="#ola" class="k1"/><use href="#idb" class="y"/><use href="#ifb" class="x"/><use href="#ihh" class="g"/><use href="#S"/><use href="#L"/></g>
<g transform="translate(1129.8)"><use href="#oba" class="a"/><use href="#occ" class="b"/><use href="#oga" class="k1"/><use href="#oha" class="d"/><use href="#oia" class="c"/><use href="#ojb" class="b"/><use href="#olb" class="c"/><use href="#iba" class="y"/><use href="#ica" class="g"/><use href="#ida" class="y"/><use href="#ied" class="x"/><use href="#iib" class="g"/><use href="#ikc" class="x"/><use href="#S"/><use href="#L"/></g>
<g transform="translate(1246)"><use href="#ofa" class="a"/><use href="#ogb" class="b"/><use href="#oia" class="c"/><use href="#oja" class="b"/><use href="#oka" class="c"/><use href="#olf" class="b"/><use href="#iac" class="g"/><use href="#ida" class="x"/><use href="#iea" class="y"/><use href="#ifc" class="x"/><use href="#iic" class="g"/><use href="#ila" class="x"/><use href="#S"/><use href="#L"/></g>
<g transform="translate(1362.1)"><use href="#oba" class="k1"/><use href="#odb" class="a"/><use href="#ofb" class="b"/><use href="#oha" class="k1"/><use href="#ola" class="k1"/><use href="#ibd" class="y"/><use href="#ifc" class="x"/><use href="#iia" class="g"/><use href="#ija" class="y"/><use href="#ikc" class="x"/><use href="#S"/><use href="#L"/></g>
<g transform="translate(1478.2)"><use href="#oaa" class="k1"/><use href="#oba" class="d"/><use href="#oca" class="b"/><use href="#oda" class="k2"/><use href="#oea" class="k5"/><use href="#ogb" class="k2"/><use href="#oia" class="k4"/><use href="#ojb" class="k2"/><use href="#ola" class="b"/><use href="#iba" class="g"/><use href="#ica" class="y"/><use href="#ida" class="x"/><use href="#iea" class="g"/><use href="#ifd" class="x"/><use href="#ijb" class="g"/><use href="#ilb" class="x"/><use href="#S"/><use href="#L"/></g>
<g transform="translate(1594.3)"><use href="#oba" class="d"/><use href="#oca" class="e"/><use href="#odb" class="a"/><use href="#ofa" class="k3"/><use href="#oga" class="k2"/><use href="#ohd" class="c"/><use href="#olb" class="e"/><use href="#ibb" class="g"/><use href="#idf" class="x"/><use href="#ijb" class="y"/><use href="#ilb" class="x"/><use href="#S"/><use href="#L"/></g>
<g transform="translate(1710.4)"><use href="#oca" class="e"/><use href="#odb" class="k2"/><use href="#ofa" class="k3"/><use href="#oga" class="k2"/><use href="#ohc" class="c"/><use href="#oka" class="b"/><use href="#olc" class="d"/><use href="#ibb" class="g"/><use href="#idj" class="x"/><use href="#S"/><use href="#L"/></g>
<g transform="translate(1826.6)"><use href="#oaa" class="k5"/><use href="#oba" class="k4"/><use href="#oca" class="k5"/><use href="#oda" class="k1"/><use href="#oea" class="k5"/><use href="#ofa" class="k4"/><use href="#oga" class="k5"/><use href="#oha" class="d"/><use href="#oic" class="k5"/><use href="#iac" class="g"/><use href="#ida" class="x"/><use href="#iec" class="g"/><use href="#iha" class="x"/><use href="#iic" class="g"/><use href="#ila" class="x"/><use href="#S"/><use href="#L"/></g>
<g transform="translate(1942.7)"><use href="#obb" class="b"/><use href="#odb" class="k5"/><use href="#ofb" class="k4"/><use href="#oha" class="k1"/><use href="#oia" class="k4"/><use href="#oja" class="k3"/><use href="#oka" class="k4"/><use href="#olb" class="c"/><use href="#iba" class="y"/><use href="#icg" class="x"/><use href="#ijb" class="g"/><use href="#ilb" class="x"/><use href="#S"/><use href="#L"/></g>
<g transform="translate(2058.8)"><use href="#oak" class="k5"/><use href="#ola" class="k1"/><use href="#iac" class="g"/><use href="#ida" class="x"/><use href="#ieb" class="y"/><use href="#igb" class="x"/><use href="#iic" class="g"/><use href="#ila" class="x"/><use href="#S"/><use href="#L"/></g>
<g transform="translate(2174.9)"><use href="#ofa" class="k4"/><use href="#oga" class="k3"/><use href="#ohj" class="k5"/><use href="#iac" class="g"/><use href="#ida" class="x"/><use href="#ieb" class="y"/><use href="#iga" class="x"/><use href="#ihd" class="g"/><use href="#ila" class="x"/><use href="#S"/><use href="#L"/></g>
<g transform="translate(2291)"><use href="#ofa" class="k3"/><use href="#oga" class="k2"/><use href="#ohj" class="k5"/><use href="#iac" class="g"/><use href="#ide" class="x"/><use href="#iic" class="g"/><use href="#ila" class="x"/><use href="#S"/><use href="#L"/></g>
<g transform="translate(2407.2)"><use href="#ofa" class="k4"/><use href="#oga" class="k3"/><use href="#ohj" class="k5"/><use href="#iac" class="g"/><use href="#ida" class="x"/><use href="#ieb" class="y"/><use href="#iga" class="x"/><use href="#ihd" class="g"/><use href="#ila" class="x"/><use href="#S"/><use href="#L"/></g>
<g transform="translate(2523.3)"><use href="#oal" class="k5"/><use href="#idb" class="y"/><use href="#ifb" class="x"/><use href="#ihc" class="g"/><use href="#ika" class="y"/><use href="#ild" class="g"/><use href="#S"/><use href="#L"/></g>
<g transform="translate(2639.4)"><use href="#oal" class="k5"/><use href="#iac" class="g"/><use href="#ide" class="x"/><use href="#iia" class="g"/><use href="#ijb" class="y"/><use href="#ila" class="x"/><use href="#S"/><use href="#L"/></g>
<g transform="translate(2755.5)"><use href="#ofb" class="k3"/><use href="#ohj" class="k5"/><use href="#iac" class="g"/><use href="#ida" class="x"/><use href="#ieh" class="y"/><use href="#S"/><use href="#L"/></g>
<g transform="translate(2871.6)"><use href="#oaa" class="k5"/><use href="#oba" class="k3"/><use href="#oca" class="k5"/><use href="#ode" class="k3"/><use href="#oia" class="k5"/><use href="#ojc" class="k3"/><use href="#iia" class="g"/><use href="#ijk" class="y"/><use href="#S"/><use href="#L"/></g>
<g transform="translate(2987.8)"><use href="#oaa" class="k4"/><use href="#oba" class="k3"/><use href="#oca" class="k4"/><use href="#odg" class="k5"/><use href="#oka" class="k4"/><use href="#ola" class="k3"/><use href="#iac" class="y"/><use href="#ida" class="x"/><use href="#ieg" class="y"/><use href="#ila" class="x"/><use href="#S"/><use href="#L"/></g>
<g transform="translate(3103.9)"><use href="#oaa" class="k5"/><use href="#oba" class="k3"/><use href="#oca" class="k5"/><use href="#odb" class="k2"/><use href="#ofb" class="k5"/><use href="#oha" class="k3"/><use href="#oia" class="k4"/><use href="#oja" class="k2"/><use href="#oka" class="k1"/><use href="#ola" class="k4"/><use href="#iac" class="g"/><use href="#ida" class="x"/><use href="#ieb" class="y"/><use href="#igb" class="x"/><use href="#iic" class="g"/><use href="#ila" class="x"/><use href="#S"/><use href="#L"/></g>
<g transform="translate(3220)"><use href="#oaa" class="k2"/><use href="#oba" class="b"/><use href="#oca" class="k2"/><use href="#odb" class="k3"/><use href="#ofb" class="k5"/><use href="#ohc" class="k2"/><use href="#oka" class="k1"/><use href="#ola" class="b"/><use href="#iac" class="g"/><use href="#ida" class="x"/><use href="#iea" class="y"/><use href="#ifc" class="x"/><use href="#iia" class="g"/><use href="#ijc" class="x"/><use href="#S"/><use href="#L"/></g>
<g transform="translate(3336.1)"><use href="#oaa" class="k5"/><use href="#oba" class="k2"/><use href="#occ" class="k5"/><use href="#ofb" class="k4"/><use href="#ohb" class="k5"/><use href="#ojb" class="k4"/><use href="#ola" class="k3"/><use href="#iaf" class="y"/><use href="#iga" class="x"/><use href="#iha" class="g"/><use href="#iic" class="y"/><use href="#ila" class="g"/><use href="#S"/><use href="#L"/></g>
<g transform="translate(3452.2)"><use href="#obb" class="k3"/><use href="#oda" class="d"/><use href="#oea" class="c"/><use href="#ofa" class="k3"/><use href="#oga" class="k5"/><use href="#ohb" class="b"/><use href="#ojb" class="k4"/><use href="#ola" class="a"/><use href="#iaa" class="y"/><use href="#ibb" class="g"/><use href="#ida" class="x"/><use href="#iea" class="g"/><use href="#ifa" class="y"/><use href="#igb" class="x"/><use href="#iia" class="y"/><use href="#ijb" class="g"/><use href="#ila" class="x"/><use href="#S"/><use href="#L"/></g>
<g transform="translate(3568.4)"><use href="#oda" class="k2"/><use href="#oea" class="k3"/><use href="#ofb" class="k5"/><use href="#ohb" class="k3"/><use href="#ojf" class="k4"/><use href="#ibb" class="g"/><use href="#ide" class="x"/><use href="#iia" class="g"/><use href="#ija" class="y"/><use href="#ikc" class="x"/><use href="#S"/><use href="#L"/></g>
</g>
<g transform="translate(0,425.9)">
<g transform="translate(317)"><use href="#oda" class="c"/><use href="#oeb" class="b"/><use href="#ohb" class="b"/><use href="#oja" class="a"/><use href="#oka" class="k1"/><use href="#olb" class="a"/><use href="#ifb" class="x"/><use href="#ihj" class="g"/><use href="#S"/><use href="#L"/></g>
<g transform="translate(433.1)"><use href="#oaa" class="a"/><use href="#odg" class="b"/><use href="#oka" class="a"/><use href="#iba" class="y"/><use href="#ica" class="g"/><use href="#idb" class="y"/><use href="#ifb" class="x"/><use href="#ihb" class="g"/><use href="#ijb" class="x"/><use href="#ilb" class="g"/><use href="#S"/><use href="#L"/></g>
<g transform="translate(549.2)"><use href="#oba" class="c"/><use href="#oca" class="b"/><use href="#odb" class="d"/><use href="#ofb" class="e"/><use href="#ohb" class="c"/><use href="#ojb" class="d"/><use href="#olb" class="b"/><use href="#ida" class="x"/><use href="#iea" class="y"/><use href="#ifb" class="x"/><use href="#ihc" class="y"/><use href="#ika" class="x"/><use href="#ild" class="y"/><use href="#S"/><use href="#L"/></g>
<g transform="translate(665.4)"><use href="#odg" class="a"/><use href="#ifb" class="x"/><use href="#ihb" class="g"/><use href="#ija" class="y"/><use href="#ika" class="x"/><use href="#ilf" class="g"/><use href="#S"/><use href="#L"/></g>
<g transform="translate(781.5)"><use href="#obb" class="a"/><use href="#odb" class="b"/><use href="#ofa" class="k1"/><use href="#oga" class="k2"/><use href="#ohb" class="b"/><use href="#oja" class="a"/><use href="#olb" class="b"/><use href="#idb" class="y"/><use href="#ifb" class="x"/><use href="#ihc" class="g"/><use href="#ika" class="y"/><use href="#ild" class="g"/><use href="#S"/><use href="#L"/></g>
<g transform="translate(897.6)"><use href="#dba" class="y"/><use href="#dca" class="g"/><use href="#ddb" class="y"/><use href="#dfb" class="x"/><use href="#dhb" class="g"/><use href="#djb" class="y"/><use href="#dlb" class="g"/><use href="#T"/><use href="#L"/></g>
<g transform="translate(1013.7)"><use href="#oda" class="k2"/><use href="#oeb" class="k1"/><use href="#oga" class="k2"/><use href="#oha" class="k1"/><use href="#oja" class="k1"/><use href="#idb" class="y"/><use href="#ifb" class="x"/><use href="#ihb" class="g"/><use href="#ijb" class="y"/><use href="#ild" class="g"/><use href="#S"/><use href="#L"/></g>
<g transform="translate(1129.8)"><use href="#oaa" class="c"/><use href="#oba" class="b"/><use href="#oca" class="c"/><use href="#odb" class="b"/><use href="#ofa" class="k1"/><use href="#oga" class="k3"/><use href="#oha" class="c"/><use href="#oib" class="a"/><use href="#ola" class="d"/><use href="#ibb" class="y"/><use href="#idj" class="x"/><use href="#S"/><use href="#L"/></g>
<g transform="translate(1246)"><use href="#ofb" class="k4"/><use href="#oha" class="c"/><use href="#oii" class="b"/><use href="#iac" class="g"/><use href="#ida" class="x"/><use href="#iea" class="y"/><use href="#ifc" class="x"/><use href="#iia" class="g"/><use href="#ijc" class="x"/><use href="#S"/><use href="#L"/></g>
<g transform="translate(1362.1)"><use href="#oba" class="k2"/><use href="#oca" class="k1"/><use href="#oea" class="k1"/><use href="#ofb" class="k4"/><use href="#ojb" class="k3"/><use href="#ola" class="k1"/><use href="#ibb" class="y"/><use href="#ide" class="x"/><use href="#iia" class="y"/><use href="#ijd" class="x"/><use href="#S"/><use href="#L"/></g>
<g transform="translate(1478.2)"><use href="#oaa" class="k3"/><use href="#oba" class="k1"/><use href="#oca" class="k4"/><use href="#oea" class="k4"/><use href="#ofa" class="a"/><use href="#oga" class="k5"/><use href="#oha" class="k3"/><use href="#oic" class="k5"/><use href="#ial" class="x"/><use href="#S"/><use href="#L"/></g>
<g transform="translate(1594.3)"><use href="#oba" class="d"/><use href="#oca" class="e"/><use href="#oda" class="b"/><use href="#ofb" class="k5"/><use href="#oha" class="c"/><use href="#oib" class="b"/><use href="#oka" class="a"/><use href="#olb" class="e"/><use href="#ibb" class="y"/><use href="#idj" class="x"/><use href="#S"/><use href="#L"/></g>
<g transform="translate(1710.4)"><use href="#odb" class="k2"/><use href="#ofb" class="k5"/><use href="#ohb" class="b"/><use href="#oka" class="a"/><use href="#old" class="d"/><use href="#ial" class="x"/><use href="#S"/><use href="#L"/></g>
<g transform="translate(1826.6)"><use href="#oaa" class="k3"/><use href="#oba" class="k4"/><use href="#oca" class="k5"/><use href="#oda" class="k3"/><use href="#oea" class="k4"/><use href="#ofa" class="b"/><use href="#oga" class="k2"/><use href="#oha" class="k3"/><use href="#oic" class="k5"/><use href="#ola" class="k2"/><use href="#iac" class="g"/><use href="#ida" class="x"/><use href="#iea" class="y"/><use href="#ifc" class="x"/><use href="#iic" class="g"/><use href="#ila" class="x"/><use href="#S"/><use href="#L"/></g>
<g transform="translate(1942.7)"><use href="#oab" class="b"/><use href="#oda" class="k4"/><use href="#oec" class="k5"/><use href="#oia" class="k4"/><use href="#oja" class="k2"/><use href="#oka" class="k3"/><use href="#ola" class="d"/><use href="#ial" class="x"/><use href="#S"/><use href="#L"/></g>
<g transform="translate(2058.8)"><use href="#ofb" class="k3"/><use href="#ohj" class="k5"/><use href="#iaa" class="y"/><use href="#ibb" class="g"/><use href="#ida" class="x"/><use href="#iea" class="y"/><use href="#ifc" class="x"/><use href="#iic" class="g"/><use href="#ila" class="x"/><use href="#S"/><use href="#L"/></g>
<g transform="translate(2174.9)"><use href="#ofa" class="k3"/><use href="#oga" class="k1"/><use href="#ohj" class="k5"/><use href="#idc" class="y"/><use href="#iga" class="x"/><use href="#ihh" class="g"/><use href="#S"/><use href="#L"/></g>
<g transform="translate(2291)"><use href="#oad" class="k5"/><use href="#oea" class="k4"/><use href="#ofa" class="a"/><use href="#oga" class="c"/><use href="#ohd" class="k5"/><use href="#ola" class="k4"/><use href="#iac" class="g"/><use href="#ide" class="x"/><use href="#iic" class="g"/><use href="#ila" class="x"/><use href="#S"/><use href="#L"/></g>
<g transform="translate(2407.2)"><use href="#ofa" class="k3"/><use href="#oga" class="k4"/><use href="#ohj" class="k5"/><use href="#ifb" class="x"/><use href="#ihj" class="g"/><use href="#S"/><use href="#L"/></g>
<g transform="translate(2523.3)"><use href="#oal" class="k5"/><use href="#idc" class="y"/><use href="#iga" class="x"/><use href="#ihb" class="g"/><use href="#ijb" class="y"/><use href="#ild" class="g"/><use href="#S"/><use href="#L"/></g>
<g transform="translate(2639.4)"><use href="#oal" class="k5"/><use href="#ibb" class="y"/><use href="#idb" class="x"/><use href="#ifa" class="y"/><use href="#iga" class="x"/><use href="#ihb" class="g"/><use href="#ijb" class="y"/><use href="#ilb" class="g"/><use href="#S"/><use href="#L"/></g>
<g transform="translate(2755.5)"><use href="#oal" class="k5"/><use href="#ibg" class="y"/><use href="#iia" class="g"/><use href="#ijb" class="y"/><use href="#ilb" class="g"/><use href="#S"/><use href="#L"/></g>
<g transform="translate(2871.6)"><use href="#oaj" class="k5"/><use href="#okb" class="k4"/><use href="#iaa" class="g"/><use href="#ibh" class="y"/><use href="#ija" class="g"/><use href="#ikb" class="y"/><use href="#S"/><use href="#L"/></g>
<g transform="translate(2987.8)"><use href="#oaa" class="k5"/><use href="#oba" class="k3"/><use href="#och" class="k5"/><use href="#oka" class="k4"/><use href="#ola" class="k3"/><use href="#iga" class="x"/><use href="#iha" class="g"/><use href="#iij" class="y"/><use href="#S"/><use href="#L"/></g>
<g transform="translate(3103.9)"><use href="#oaa" class="k5"/><use href="#oba" class="k4"/><use href="#oca" class="k5"/><use href="#oda" class="k2"/><use href="#oea" class="k3"/><use href="#ofd" class="k5"/><use href="#oja" class="k3"/><use href="#oka" class="k2"/><use href="#ola" class="k4"/><use href="#iac" class="g"/><use href="#ida" class="x"/><use href="#iea" class="y"/><use href="#ifd" class="x"/><use href="#ijb" class="y"/><use href="#ila" class="x"/><use href="#S"/><use href="#L"/></g>
<g transform="translate(3220)"><use href="#oaa" class="k3"/><use href="#oba" class="c"/><use href="#oca" class="k2"/><use href="#oda" class="k5"/><use href="#oea" class="k4"/><use href="#ofb" class="k5"/><use href="#ohc" class="k3"/><use href="#oka" class="k2"/><use href="#ola" class="a"/><use href="#iac" class="g"/><use href="#idb" class="y"/><use href="#ifc" class="x"/><use href="#iia" class="g"/><use href="#ijc" class="x"/><use href="#S"/><use href="#L"/></g>
<g transform="translate(3336.1)"><use href="#oba" class="k3"/><use href="#ock" class="k5"/><use href="#ibe" class="y"/><use href="#iga" class="x"/><use href="#iha" class="g"/><use href="#iic" class="y"/><use href="#ilb" class="g"/><use href="#S"/><use href="#L"/></g>
<g transform="translate(3452.2)"><use href="#oaa" class="k1"/><use href="#obb" class="k3"/><use href="#odb" class="e"/><use href="#ofa" class="k3"/><use href="#oga" class="k5"/><use href="#ohb" class="c"/><use href="#ojb" class="k5"/><use href="#ola" class="a"/><use href="#iaa" class="y"/><use href="#ibd" class="g"/><use href="#ifd" class="y"/><use href="#ija" class="g"/><use href="#ika" class="y"/><use href="#ila" class="x"/><use href="#S"/><use href="#L"/></g>
<g transform="translate(3568.4)"><use href="#oac" class="k5"/><use href="#oea" class="k2"/><use href="#off" class="k5"/><use href="#ola" class="k4"/><use href="#iac" class="g"/><use href="#idb" class="y"/><use href="#ifb" class="x"/><use href="#ihb" class="g"/><use href="#ijb" class="y"/><use href="#ila" class="x"/><use href="#S"/><use href="#L"/></g>
</g>
<g transform="translate(0,549.9)">
<g transform="translate(317)"><use href="#obb" class="k1"/><use href="#oda" class="c"/><use href="#oea" class="b"/><use href="#ofa" class="a"/><use href="#oha" class="b"/><use href="#oia" class="a"/><use href="#oka" class="k2"/><use href="#ola" class="a"/><use href="#ifb" class="x"/><use href="#ihj" class="g"/><use href="#S"/><use href="#L"/></g>
<g transform="translate(433.1)"><use href="#oac" class="k1"/><use href="#oda" class="c"/><use href="#oea" class="b"/><use href="#ofb" class="c"/><use href="#ohc" class="b"/><use href="#oka" class="a"/><use href="#iba" class="y"/><use href="#ica" class="g"/><use href="#idd" class="x"/><use href="#ihb" class="g"/><use href="#ijb" class="x"/><use href="#ilb" class="g"/><use href="#S"/><use href="#L"/></g>
<g transform="translate(549.2)"><use href="#oba" class="c"/><use href="#oca" class="b"/><use href="#odb" class="d"/><use href="#ofb" class="e"/><use href="#ohd" class="d"/><use href="#olb" class="b"/><use href="#iac" class="y"/><use href="#idd" class="x"/><use href="#ihb" class="y"/><use href="#ijc" class="x"/><use href="#S"/><use href="#L"/></g>
<g transform="translate(665.4)"><use href="#odd" class="b"/><use href="#ohc" class="a"/><use href="#iae" class="g"/><use href="#ifb" class="x"/><use href="#ihb" class="g"/><use href="#ijc" class="x"/><use href="#S"/><use href="#L"/></g>
<g transform="translate(781.5)"><use href="#obb" class="a"/><use href="#oda" class="c"/><use href="#oea" class="b"/><use href="#ofa" class="a"/><use href="#oga" class="k2"/><use href="#ohb" class="b"/><use href="#oja" class="a"/><use href="#olb" class="b"/><use href="#idb" class="y"/><use href="#ifb" class="x"/><use href="#ihh" class="g"/><use href="#S"/><use href="#L"/></g>
<g transform="translate(897.6)"><use href="#ode" class="a"/><use href="#idb" class="y"/><use href="#ifb" class="x"/><use href="#ihb" class="g"/><use href="#ijb" class="y"/><use href="#ild" class="g"/><use href="#S"/><use href="#L"/></g>
<g transform="translate(1013.7)"><use href="#dac" class="g"/><use href="#ddb" class="y"/><use href="#dfb" class="x"/><use href="#dhd" class="g"/><use href="#dla" class="x"/><use href="#T"/><use href="#L"/></g>
<g transform="translate(1129.8)"><use href="#oaa" class="c"/><use href="#oba" class="a"/><use href="#oca" class="b"/><use href="#oda" class="c"/><use href="#oea" class="b"/><use href="#ofa" class="k1"/><use href="#oga" class="k3"/><use href="#oha" class="d"/><use href="#oia" class="b"/><use href="#oja" class="a"/><use href="#ola" class="d"/><use href="#iba" class="g"/><use href="#icb" class="y"/><use href="#iei" class="x"/><use href="#S"/><use href="#L"/></g>
<g transform="translate(1246)"><use href="#oda" class="c"/><use href="#oea" class="b"/><use href="#ofa" class="k2"/><use href="#oga" class="k3"/><use href="#oha" class="c"/><use href="#oia" class="b"/><use href="#ojb" class="a"/><use href="#old" class="b"/><use href="#ibb" class="g"/><use href="#ida" class="y"/><use href="#ied" class="x"/><use href="#iia" class="g"/><use href="#ijd" class="x"/><use href="#S"/><use href="#L"/></g>
<g transform="translate(1362.1)"><use href="#oba" class="k2"/><use href="#oca" class="k1"/><use href="#oda" class="a"/><use href="#oea" class="k1"/><use href="#ofa" class="k3"/><use href="#oga" class="k4"/><use href="#ohb" class="k1"/><use href="#ojb" class="k2"/><use href="#olb" class="k1"/><use href="#ibb" class="y"/><use href="#idj" class="x"/><use href="#S"/><use href="#L"/></g>
<g transform="translate(1478.2)"><use href="#oaa" class="k3"/><use href="#oca" class="k4"/><use href="#oda" class="k2"/><use href="#oea" class="k5"/><use href="#ofa" class="b"/><use href="#ogb" class="k3"/><use href="#oia" class="k5"/><use href="#oja" class="k3"/><use href="#oka" class="k4"/><use href="#ola" class="a"/><use href="#ial" class="x"/><use href="#S"/><use href="#L"/></g>
<g transform="translate(1594.3)"><use href="#oda" class="a"/><use href="#ofb" class="k5"/><use href="#oha" class="d"/><use href="#oia" class="c"/><use href="#ojb" class="b"/><use href="#old" class="e"/><use href="#iba" class="g"/><use href="#ica" class="y"/><use href="#idj" class="x"/><use href="#S"/><use href="#L"/></g>
<g transform="translate(1710.4)"><use href="#oea" class="k1"/><use href="#ofb" class="k5"/><use href="#ohb" class="c"/><use href="#ojb" class="b"/><use href="#old" class="d"/><use href="#ial" class="x"/><use href="#S"/><use href="#L"/></g>
<g transform="translate(1826.6)"><use href="#oaa" class="k2"/><use href="#oba" class="k3"/><use href="#oca" class="k5"/><use href="#oda" class="k1"/><use href="#oea" class="k5"/><use href="#oga" class="k2"/><use href="#oha" class="d"/><use href="#oib" class="k4"/><use href="#oka" class="k5"/><use href="#ola" class="k1"/><use href="#iac" class="g"/><use href="#ida" class="x"/><use href="#iea" class="g"/><use href="#ifc" class="x"/><use href="#iic" class="g"/><use href="#ila" class="x"/><use href="#S"/><use href="#L"/></g>
<g transform="translate(1942.7)"><use href="#oab" class="c"/><use href="#oca" class="k2"/><use href="#odd" class="k5"/><use href="#oha" class="k2"/><use href="#oia" class="k3"/><use href="#oja" class="k2"/><use href="#oka" class="k3"/><use href="#ola" class="e"/><use href="#ial" class="x"/><use href="#S"/><use href="#L"/></g>
<g transform="translate(2058.8)"><use href="#oae" class="k5"/><use href="#ofb" class="k3"/><use href="#ohd" class="k5"/><use href="#ola" class="k2"/><use href="#iaa" class="y"/><use href="#ibb" class="g"/><use href="#ida" class="x"/><use href="#iea" class="y"/><use href="#ifc" class="x"/><use href="#iic" class="g"/><use href="#ila" class="x"/><use href="#S"/><use href="#L"/></g>
<g transform="translate(2174.9)"><use href="#ofa" class="k3"/><use href="#oga" class="k2"/><use href="#ohj" class="k5"/><use href="#iac" class="g"/><use href="#idc" class="y"/><use href="#iga" class="x"/><use href="#ihd" class="g"/><use href="#ila" class="x"/><use href="#S"/><use href="#L"/></g>
<g transform="translate(2291)"><use href="#ofa" class="k2"/><use href="#oga" class="b"/><use href="#ohj" class="k5"/><use href="#iac" class="g"/><use href="#ida" class="x"/><use href="#iea" class="y"/><use href="#ifc" class="x"/><use href="#iic" class="g"/><use href="#ila" class="x"/><use href="#S"/><use href="#L"/></g>
<g transform="translate(2407.2)"><use href="#ofb" class="k3"/><use href="#ohj" class="k5"/><use href="#ifb" class="x"/><use href="#ihj" class="g"/><use href="#S"/><use href="#L"/></g>
<g transform="translate(2523.3)"><use href="#oal" class="k5"/><use href="#idc" class="y"/><use href="#iga" class="x"/><use href="#ihc" class="g"/><use href="#ika" class="y"/><use href="#ild" class="g"/><use href="#S"/><use href="#L"/></g>
<g transform="translate(2639.4)"><use href="#oal" class="k5"/><use href="#iac" class="g"/><use href="#idb" class="x"/><use href="#ifa" class="y"/><use href="#igc" class="x"/><use href="#ijb" class="y"/><use href="#ila" class="x"/><use href="#S"/><use href="#L"/></g>
<g transform="translate(2755.5)"><use href="#oal" class="k5"/><use href="#ide" class="y"/><use href="#iia" class="g"/><use href="#ijb" class="y"/><use href="#ild" class="g"/><use href="#S"/><use href="#L"/></g>
<g transform="translate(2871.6)"><use href="#oal" class="k5"/><use href="#iaa" class="g"/><use href="#ibg" class="y"/><use href="#iia" class="g"/><use href="#ijc" class="y"/><use href="#S"/><use href="#L"/></g>
<g transform="translate(2987.8)"><use href="#oka" class="k4"/><use href="#olk" class="k5"/><use href="#iaf" class="y"/><use href="#igb" class="x"/><use href="#iic" class="y"/><use href="#ila" class="x"/><use href="#S"/><use href="#L"/></g>
<g transform="translate(3103.9)"><use href="#odb" class="k2"/><use href="#ofd" class="k5"/><use href="#ojb" class="k3"/><use href="#old" class="k5"/><use href="#iac" class="g"/><use href="#ida" class="x"/><use href="#ieb" class="y"/><use href="#igb" class="x"/><use href="#iia" class="g"/><use href="#ijb" class="y"/><use href="#ila" class="x"/><use href="#S"/><use href="#L"/></g>
<g transform="translate(3220)"><use href="#oaa" class="k3"/><use href="#oba" class="b"/><use href="#oca" class="k3"/><use href="#odb" class="k4"/><use href="#ofb" class="k5"/><use href="#ohd" class="k3"/><use href="#ola" class="a"/><use href="#iac" class="g"/><use href="#ida" class="x"/><use href="#iea" class="y"/><use href="#ifc" class="x"/><use href="#iia" class="g"/><use href="#ijc" class="x"/><use href="#S"/><use href="#L"/></g>
<g transform="translate(3336.1)"><use href="#oal" class="k5"/><use href="#iaa" class="g"/><use href="#ibe" class="y"/><use href="#iga" class="x"/><use href="#iha" class="g"/><use href="#iid" class="y"/><use href="#S"/><use href="#L"/></g>
<g transform="translate(3452.2)"><use href="#oaa" class="a"/><use href="#oba" class="k3"/><use href="#oca" class="k4"/><use href="#odb" class="e"/><use href="#ofa" class="k3"/><use href="#oga" class="k5"/><use href="#ohb" class="c"/><use href="#oja" class="k5"/><use href="#oka" class="k4"/><use href="#ola" class="b"/><use href="#ibd" class="g"/><use href="#ifa" class="y"/><use href="#igb" class="x"/><use href="#iie" class="y"/><use href="#S"/><use href="#L"/></g>
<g transform="translate(3568.4)"><use href="#obb" class="k5"/><use href="#oea" class="k1"/><use href="#ofd" class="k5"/><use href="#oja" class="k4"/><use href="#oka" class="k5"/><use href="#olb" class="k3"/><use href="#iba" class="g"/><use href="#icb" class="x"/><use href="#iea" class="y"/><use href="#ifc" class="x"/><use href="#iia" class="g"/><use href="#ija" class="y"/><use href="#ikc" class="x"/><use href="#S"/><use href="#L"/></g>
</g>
<g transform="translate(0,673.9)">
<g transform="translate(317)"><use href="#odb" class="k2"/><use href="#ofb" class="a"/><use href="#ohc" class="k2"/><use href="#oka" class="k3"/><use href="#old" class="k5"/><use href="#iac" class="g"/><use href="#ide" class="x"/><use href="#iia" class="g"/><use href="#ijc" class="x"/><use href="#S"/><use href="#L"/></g>
<g transform="translate(433.1)"><use href="#ofa" class="k4"/><use href="#oga" class="b"/><use href="#oha" class="k4"/><use href="#oii" class="k5"/><use href="#iac" class="g"/><use href="#idi" class="x"/><use href="#S"/><use href="#L"/></g>
<g transform="translate(549.2)"><use href="#odb" class="k2"/><use href="#ofa" class="e"/><use href="#oga" class="a"/><use href="#oha" class="k4"/><use href="#oia" class="e"/><use href="#oja" class="k4"/><use href="#oka" class="e"/><use href="#old" class="k5"/><use href="#iab" class="g"/><use href="#icj" class="x"/><use href="#S"/><use href="#L"/></g>
<g transform="translate(665.4)"><use href="#oda" class="e"/><use href="#oea" class="k2"/><use href="#ofb" class="c"/><use href="#ohc" class="k3"/><use href="#oka" class="k4"/><use href="#old" class="k5"/><use href="#iac" class="g"/><use href="#idi" class="x"/><use href="#S"/><use href="#L"/></g>
<g transform="translate(781.5)"><use href="#oaa" class="k1"/><use href="#oba" class="b"/><use href="#oda" class="k2"/><use href="#oea" class="k1"/><use href="#ofb" class="a"/><use href="#oha" class="k1"/><use href="#oia" class="k2"/><use href="#oja" class="k1"/><use href="#okb" class="k2"/><use href="#iac" class="g"/><use href="#ida" class="x"/><use href="#iea" class="y"/><use href="#ifc" class="x"/><use href="#iic" class="g"/><use href="#ila" class="x"/><use href="#S"/><use href="#L"/></g>
<g transform="translate(897.6)"><use href="#oba" class="k2"/><use href="#ocb" class="k3"/><use href="#oea" class="k2"/><use href="#ofb" class="c"/><use href="#oha" class="k4"/><use href="#oib" class="k3"/><use href="#oka" class="k2"/><use href="#olb" class="k3"/><use href="#iac" class="g"/><use href="#ide" class="x"/><use href="#iia" class="g"/><use href="#ijc" class="x"/><use href="#S"/><use href="#L"/></g>
<g transform="translate(1013.7)"><use href="#oca" class="k1"/><use href="#odb" class="k3"/><use href="#ofb" class="c"/><use href="#oha" class="k4"/><use href="#oia" class="k3"/><use href="#oja" class="k2"/><use href="#oka" class="k1"/><use href="#olb" class="k2"/><use href="#ibb" class="g"/><use href="#ida" class="y"/><use href="#ied" class="x"/><use href="#iia" class="g"/><use href="#ijd" class="x"/><use href="#S"/><use href="#L"/></g>
<g transform="translate(1129.8)"><use href="#dbb" class="g"/><use href="#dda" class="x"/><use href="#deb" class="y"/><use href="#dgb" class="x"/><use href="#dic" class="y"/><use href="#dlb" class="x"/><use href="#T"/><use href="#L"/></g>
<g transform="translate(1246)"><use href="#oaa" class="b"/><use href="#oca" class="k1"/><use href="#oda" class="a"/><use href="#oea" class="k1"/><use href="#ofa" class="b"/><use href="#oga" class="d"/><use href="#oha" class="k1"/><use href="#ola" class="k1"/><use href="#iba" class="y"/><use href="#ica" class="g"/><use href="#idb" class="y"/><use href="#ifd" class="x"/><use href="#ijb" class="y"/><use href="#ilb" class="x"/><use href="#S"/><use href="#L"/></g>
<g transform="translate(1362.1)"><use href="#obb" class="k1"/><use href="#odb" class="k2"/><use href="#ofa" class="b"/><use href="#oga" class="d"/><use href="#ohb" class="k2"/><use href="#oja" class="k1"/><use href="#olb" class="k2"/><use href="#ibb" class="y"/><use href="#idf" class="x"/><use href="#ija" class="y"/><use href="#ikc" class="x"/><use href="#S"/><use href="#L"/></g>
<g transform="translate(1478.2)"><use href="#oaa" class="c"/><use href="#obb" class="k3"/><use href="#oda" class="k2"/><use href="#oea" class="k5"/><use href="#ofa" class="k4"/><use href="#oga" class="k3"/><use href="#oha" class="k4"/><use href="#oic" class="k5"/><use href="#ola" class="k4"/><use href="#ibb" class="g"/><use href="#idc" class="x"/><use href="#iga" class="g"/><use href="#ihb" class="x"/><use href="#ijb" class="g"/><use href="#ilb" class="x"/><use href="#S"/><use href="#L"/></g>
<g transform="translate(1594.3)"><use href="#oaa" class="a"/><use href="#oba" class="b"/><use href="#oca" class="c"/><use href="#odb" class="k2"/><use href="#ofa" class="k1"/><use href="#oha" class="a"/><use href="#ojb" class="k2"/><use href="#ola" class="b"/><use href="#ica" class="g"/><use href="#idf" class="x"/><use href="#ija" class="y"/><use href="#ika" class="g"/><use href="#ilc" class="x"/><use href="#S"/><use href="#L"/></g>
<g transform="translate(1710.4)"><use href="#oba" class="b"/><use href="#oca" class="c"/><use href="#odc" class="k2"/><use href="#oga" class="c"/><use href="#ohf" class="a"/><use href="#ial" class="x"/><use href="#S"/><use href="#L"/></g>
<g transform="translate(1826.6)"><use href="#oac" class="k5"/><use href="#oda" class="c"/><use href="#oeb" class="k4"/><use href="#oga" class="k5"/><use href="#oha" class="k4"/><use href="#oic" class="k5"/><use href="#ola" class="e"/><use href="#ibb" class="g"/><use href="#idb" class="x"/><use href="#ifb" class="y"/><use href="#iha" class="x"/><use href="#iic" class="g"/><use href="#ilb" class="x"/><use href="#S"/><use href="#L"/></g>
<g transform="translate(1942.7)"><use href="#oaa" class="k2"/><use href="#oba" class="k4"/><use href="#oca" class="k5"/><use href="#odc" class="k4"/><use href="#oga" class="k3"/><use href="#oha" class="k4"/><use href="#oic" class="k5"/><use href="#ibb" class="g"/><use href="#idf" class="x"/><use href="#ija" class="y"/><use href="#ikc" class="x"/><use href="#S"/><use href="#L"/></g>
<g transform="translate(2058.8)"><use href="#oac" class="k5"/><use href="#oda" class="k1"/><use href="#oeb" class="k3"/><use href="#ogb" class="k2"/><use href="#oic" class="k5"/><use href="#ibb" class="g"/><use href="#idb" class="x"/><use href="#ifa" class="y"/><use href="#igc" class="x"/><use href="#ijb" class="y"/><use href="#ilb" class="x"/><use href="#S"/><use href="#L"/></g>
<g transform="translate(2174.9)"><use href="#ofb" class="k3"/><use href="#ohj" class="k5"/><use href="#iac" class="g"/><use href="#ida" class="x"/><use href="#ieb" class="y"/><use href="#igb" class="x"/><use href="#iic" class="g"/><use href="#ila" class="x"/><use href="#S"/><use href="#L"/></g>
<g transform="translate(2291)"><use href="#oac" class="k5"/><use href="#odb" class="k3"/><use href="#ofb" class="k2"/><use href="#oha" class="k3"/><use href="#oic" class="k5"/><use href="#ola" class="k4"/><use href="#ibb" class="g"/><use href="#idf" class="x"/><use href="#ijb" class="g"/><use href="#ilb" class="x"/><use href="#S"/><use href="#L"/></g>
<g transform="translate(2407.2)"><use href="#oda" class="k2"/><use href="#oea" class="k3"/><use href="#ofb" class="k1"/><use href="#ohb" class="k5"/><use href="#oja" class="k4"/><use href="#oke" class="k5"/><use href="#iac" class="g"/><use href="#idb" class="x"/><use href="#ifa" class="y"/><use href="#igb" class="x"/><use href="#iic" class="g"/><use href="#ila" class="x"/><use href="#S"/><use href="#L"/></g>
<g transform="translate(2523.3)"><use href="#ofb" class="k4"/><use href="#ohj" class="k5"/><use href="#iaa" class="y"/><use href="#ibd" class="g"/><use href="#ifa" class="y"/><use href="#iga" class="x"/><use href="#ihc" class="g"/><use href="#ika" class="y"/><use href="#ila" class="g"/><use href="#S"/><use href="#L"/></g>
<g transform="translate(2639.4)"><use href="#oac" class="k5"/><use href="#oda" class="k4"/><use href="#oeb" class="k3"/><use href="#oga" class="k4"/><use href="#ohb" class="k5"/><use href="#ojc" class="k4"/><use href="#iaa" class="y"/><use href="#ibb" class="g"/><use href="#ide" class="x"/><use href="#iic" class="y"/><use href="#ila" class="x"/><use href="#S"/><use href="#L"/></g>
<g transform="translate(2755.5)"><use href="#oab" class="k4"/><use href="#oca" class="k5"/><use href="#oda" class="k4"/><use href="#oea" class="k3"/><use href="#oga" class="b"/><use href="#oha" class="k3"/><use href="#oia" class="k5"/><use href="#ojb" class="k2"/><use href="#ola" class="k3"/><use href="#iaf" class="y"/><use href="#igb" class="x"/><use href="#iic" class="y"/><use href="#ila" class="x"/><use href="#S"/><use href="#L"/></g>
<g transform="translate(2871.6)"><use href="#ocb" class="k4"/><use href="#oea" class="k3"/><use href="#ofa" class="k1"/><use href="#oga" class="a"/><use href="#oha" class="k2"/><use href="#oif" class="k3"/><use href="#iae" class="g"/><use href="#ifa" class="y"/><use href="#iga" class="x"/><use href="#ihb" class="g"/><use href="#ijb" class="y"/><use href="#ila" class="x"/><use href="#S"/><use href="#L"/></g>
<g transform="translate(2987.8)"><use href="#oba" class="k4"/><use href="#ocb" class="k5"/><use href="#oeb" class="k4"/><use href="#ogc" class="k5"/><use href="#ojb" class="k4"/><use href="#ola" class="k1"/><use href="#iaa" class="y"/><use href="#ibb" class="g"/><use href="#ida" class="y"/><use href="#ied" class="x"/><use href="#iic" class="y"/><use href="#ila" class="x"/><use href="#S"/><use href="#L"/></g>
<g transform="translate(3103.9)"><use href="#oaa" class="k4"/><use href="#ocb" class="k4"/><use href="#oea" class="c"/><use href="#ofb" class="k3"/><use href="#oha" class="a"/><use href="#oib" class="k1"/><use href="#ola" class="k2"/><use href="#ica" class="g"/><use href="#idg" class="x"/><use href="#ika" class="y"/><use href="#ilc" class="x"/><use href="#S"/><use href="#L"/></g>
<g transform="translate(3220)"><use href="#odb" class="k2"/><use href="#ofb" class="k3"/><use href="#oha" class="b"/><use href="#oia" class="c"/><use href="#oja" class="a"/><use href="#okd" class="b"/><use href="#ial" class="x"/><use href="#S"/><use href="#L"/></g>
<g transform="translate(3336.1)"><use href="#oaa" class="k3"/><use href="#oba" class="k1"/><use href="#oca" class="k3"/><use href="#odb" class="k5"/><use href="#ofa" class="k3"/><use href="#oga" class="k2"/><use href="#ojb" class="k1"/><use href="#ola" class="a"/><use href="#iac" class="y"/><use href="#idi" class="x"/><use href="#S"/><use href="#L"/></g>
<g transform="translate(3452.2)"><use href="#oba" class="k2"/><use href="#oda" class="b"/><use href="#oea" class="c"/><use href="#ofa" class="a"/><use href="#oga" class="k2"/><use href="#oia" class="c"/><use href="#ojb" class="k3"/><use href="#olb" class="b"/><use href="#ibb" class="g"/><use href="#idb" class="x"/><use href="#ifa" class="g"/><use href="#igc" class="x"/><use href="#ijb" class="g"/><use href="#ilb" class="x"/><use href="#S"/><use href="#L"/></g>
<g transform="translate(3568.4)"><use href="#oaa" class="k1"/><use href="#oba" class="k2"/><use href="#oca" class="k1"/><use href="#oda" class="k5"/><use href="#oea" class="k4"/><use href="#ofb" class="k5"/><use href="#ohd" class="k3"/><use href="#ola" class="k2"/><use href="#ial" class="x"/><use href="#S"/><use href="#L"/></g>
</g>
<g transform="translate(0,797.8)">
<g transform="translate(317)"><use href="#oac" class="a"/><use href="#oda" class="d"/><use href="#oee" class="c"/><use href="#ojc" class="b"/><use href="#ida" class="x"/><use href="#iea" class="y"/><use href="#ifb" class="x"/><use href="#ihb" class="g"/><use href="#ijb" class="y"/><use href="#ild" class="g"/><use href="#S"/><use href="#L"/></g>
<g transform="translate(433.1)"><use href="#oaa" class="a"/><use href="#oba" class="b"/><use href="#oca" class="a"/><use href="#odb" class="b"/><use href="#ofb" class="c"/><use href="#ohe" class="b"/><use href="#iaa" class="g"/><use href="#ibk" class="x"/><use href="#S"/><use href="#L"/></g>
<g transform="translate(549.2)"><use href="#oab" class="c"/><use href="#oca" class="d"/><use href="#odb" class="a"/><use href="#off" class="c"/><use href="#ola" class="b"/><use href="#ial" class="x"/><use href="#S"/><use href="#L"/></g>
<g transform="translate(665.4)"><use href="#oda" class="c"/><use href="#oea" class="b"/><use href="#ofe" class="c"/><use href="#oke" class="b"/><use href="#iba" class="y"/><use href="#ica" class="g"/><use href="#idj" class="x"/><use href="#S"/><use href="#L"/></g>
<g transform="translate(781.5)"><use href="#oda" class="k4"/><use href="#oea" class="k3"/><use href="#oga" class="k1"/><use href="#ohb" class="k4"/><use href="#ojb" class="k3"/><use href="#olb" class="k2"/><use href="#iac" class="g"/><use href="#ida" class="x"/><use href="#iea" class="g"/><use href="#ifc" class="x"/><use href="#iic" class="g"/><use href="#ila" class="x"/><use href="#S"/><use href="#L"/></g>
<g transform="translate(897.6)"><use href="#oba" class="k1"/><use href="#odb" class="k2"/><use href="#ofb" class="b"/><use href="#ohc" class="k2"/><use href="#oka" class="k1"/><use href="#iaa" class="g"/><use href="#ibc" class="y"/><use href="#ied" class="x"/><use href="#iia" class="g"/><use href="#ijc" class="x"/><use href="#S"/><use href="#L"/></g>
<g transform="translate(1013.7)"><use href="#oda" class="k3"/><use href="#oea" class="k2"/><use href="#ofb" class="a"/><use href="#oha" class="k1"/><use href="#ojf" class="a"/><use href="#iac" class="g"/><use href="#ida" class="x"/><use href="#iea" class="y"/><use href="#ifc" class="x"/><use href="#iib" class="y"/><use href="#ikb" class="x"/><use href="#S"/><use href="#L"/></g>
<g transform="translate(1129.8)"><use href="#oaa" class="k5"/><use href="#oba" class="k4"/><use href="#oca" class="k5"/><use href="#oda" class="k1"/><use href="#oea" class="k2"/><use href="#oga" class="k2"/><use href="#oha" class="k4"/><use href="#oia" class="k5"/><use href="#ojc" class="k3"/><use href="#iae" class="g"/><use href="#ifa" class="y"/><use href="#igb" class="x"/><use href="#iic" class="g"/><use href="#ila" class="x"/><use href="#S"/><use href="#L"/></g>
<g transform="translate(1246)"><use href="#dbb" class="g"/><use href="#dda" class="x"/><use href="#deb" class="y"/><use href="#dgb" class="x"/><use href="#dia" class="g"/><use href="#dja" class="y"/><use href="#dka" class="g"/><use href="#dlb" class="x"/><use href="#T"/><use href="#L"/></g>
<g transform="translate(1362.1)"><use href="#oba" class="k2"/><use href="#occ" class="k1"/><use href="#ohb" class="k1"/><use href="#oja" class="k2"/><use href="#okb" class="k1"/><use href="#iba" class="y"/><use href="#ica" class="g"/><use href="#idf" class="x"/><use href="#ija" class="y"/><use href="#ikc" class="x"/><use href="#S"/><use href="#L"/></g>
<g transform="translate(1478.2)"><use href="#oda" class="k2"/><use href="#oea" class="k5"/><use href="#oga" class="k2"/><use href="#oha" class="k1"/><use href="#oig" class="k5"/><use href="#ica" class="g"/><use href="#idf" class="x"/><use href="#ijb" class="g"/><use href="#ilc" class="x"/><use href="#S"/><use href="#L"/></g>
<g transform="translate(1594.3)"><use href="#oab" class="k1"/><use href="#odc" class="k3"/><use href="#oga" class="k4"/><use href="#oha" class="k1"/><use href="#oia" class="k3"/><use href="#ojb" class="k2"/><use href="#ola" class="b"/><use href="#ica" class="g"/><use href="#idf" class="x"/><use href="#ija" class="y"/><use href="#ikd" class="x"/><use href="#S"/><use href="#L"/></g>
<g transform="translate(1710.4)"><use href="#oca" class="b"/><use href="#odb" class="k2"/><use href="#ofb" class="k5"/><use href="#oja" class="k2"/><use href="#oka" class="k1"/><use href="#olb" class="a"/><use href="#ial" class="x"/><use href="#S"/><use href="#L"/></g>
<g transform="translate(1826.6)"><use href="#oac" class="k5"/><use href="#oda" class="a"/><use href="#oea" class="k3"/><use href="#oga" class="k3"/><use href="#oha" class="k4"/><use href="#oic" class="k5"/><use href="#ola" class="c"/><use href="#ibb" class="g"/><use href="#ida" class="x"/><use href="#iea" class="g"/><use href="#ifa" class="y"/><use href="#igb" class="x"/><use href="#iic" class="g"/><use href="#ilb" class="x"/><use href="#S"/><use href="#L"/></g>
<g transform="translate(1942.7)"><use href="#oab" class="k3"/><use href="#occ" class="k4"/><use href="#ofb" class="k1"/><use href="#oha" class="k3"/><use href="#oia" class="k5"/><use href="#oja" class="k4"/><use href="#oka" class="k5"/><use href="#ola" class="k1"/><use href="#ibb" class="g"/><use href="#idg" class="x"/><use href="#ika" class="g"/><use href="#ilb" class="x"/><use href="#S"/><use href="#L"/></g>
<g transform="translate(2058.8)"><use href="#ofb" class="k1"/><use href="#oha" class="k3"/><use href="#oii" class="k5"/><use href="#ibb" class="g"/><use href="#ida" class="x"/><use href="#iea" class="g"/><use href="#ifc" class="x"/><use href="#iib" class="y"/><use href="#ikc" class="x"/><use href="#S"/><use href="#L"/></g>
<g transform="translate(2174.9)"><use href="#ofb" class="k3"/><use href="#ohj" class="k5"/><use href="#iac" class="g"/><use href="#ida" class="x"/><use href="#ieb" class="y"/><use href="#igb" class="x"/><use href="#iic" class="y"/><use href="#ila" class="x"/><use href="#S"/><use href="#L"/></g>
<g transform="translate(2291)"><use href="#oea" class="k3"/><use href="#ofa" class="k2"/><use href="#oha" class="k5"/><use href="#oia" class="k4"/><use href="#oja" class="k3"/><use href="#oka" class="k2"/><use href="#ole" class="k5"/><use href="#ibb" class="g"/><use href="#idg" class="x"/><use href="#ika" class="y"/><use href="#ilb" class="x"/><use href="#S"/><use href="#L"/></g>
<g transform="translate(2407.2)"><use href="#odb" class="k3"/><use href="#ofb" class="k1"/><use href="#ohh" class="k5"/><use href="#iac" class="g"/><use href="#ida" class="x"/><use href="#ieb" class="y"/><use href="#igb" class="x"/><use href="#iib" class="y"/><use href="#ikb" class="x"/><use href="#S"/><use href="#L"/></g>
<g transform="translate(2523.3)"><use href="#oal" class="k5"/><use href="#idb" class="y"/><use href="#ifb" class="x"/><use href="#ihb" class="g"/><use href="#ijb" class="y"/><use href="#ild" class="g"/><use href="#S"/><use href="#L"/></g>
<g transform="translate(2639.4)"><use href="#oac" class="k5"/><use href="#oda" class="k4"/><use href="#oea" class="k3"/><use href="#ofe" class="k4"/><use href="#oka" class="k3"/><use href="#ola" class="k4"/><use href="#iaa" class="g"/><use href="#ibb" class="y"/><use href="#ide" class="x"/><use href="#iid" class="y"/><use href="#S"/><use href="#L"/></g>
<g transform="translate(2755.5)"><use href="#oac" class="k5"/><use href="#odb" class="k3"/><use href="#ofa" class="k1"/><use href="#ohb" class="k5"/><use href="#ojb" class="k2"/><use href="#ola" class="k4"/><use href="#iaa" class="g"/><use href="#iba" class="y"/><use href="#ica" class="g"/><use href="#idb" class="y"/><use href="#ifc" class="x"/><use href="#iid" class="y"/><use href="#S"/><use href="#L"/></g>
<g transform="translate(2871.6)"><use href="#oaa" class="k5"/><use href="#obb" class="k3"/><use href="#oea" class="b"/><use href="#ofb" class="c"/><use href="#ohb" class="k3"/><use href="#ola" class="k3"/><use href="#iba" class="g"/><use href="#icb" class="y"/><use href="#iea" class="x"/><use href="#ifa" class="g"/><use href="#iga" class="x"/><use href="#iha" class="g"/><use href="#iie" class="y"/><use href="#S"/><use href="#L"/></g>
<g transform="translate(2987.8)"><use href="#oba" class="k2"/><use href="#oca" class="k3"/><use href="#oda" class="k5"/><use href="#oea" class="k4"/><use href="#ofb" class="k2"/><use href="#ohd" class="k4"/><use href="#olb" class="k3"/><use href="#iac" class="y"/><use href="#ide" class="x"/><use href="#iic" class="y"/><use href="#ila" class="x"/><use href="#S"/><use href="#L"/></g>
<g transform="translate(3103.9)"><use href="#oba" class="k2"/><use href="#oca" class="k5"/><use href="#oda" class="e"/><use href="#oea" class="d"/><use href="#ofb" class="k5"/><use href="#ohb" class="k3"/><use href="#oja" class="k5"/><use href="#oka" class="k4"/><use href="#olb" class="k5"/><use href="#ica" class="g"/><use href="#idk" class="x"/><use href="#S"/><use href="#L"/></g>
<g transform="translate(3220)"><use href="#oaa" class="k2"/><use href="#oba" class="k1"/><use href="#ocb" class="k2"/><use href="#oea" class="k3"/><use href="#ofb" class="k5"/><use href="#ohd" class="k3"/><use href="#ola" class="k1"/><use href="#ial" class="x"/><use href="#S"/><use href="#L"/></g>
<g transform="translate(3336.1)"><use href="#oba" class="k4"/><use href="#oca" class="k5"/><use href="#odd" class="k2"/><use href="#ohf" class="k5"/><use href="#iaa" class="g"/><use href="#ibb" class="y"/><use href="#idf" class="x"/><use href="#ija" class="y"/><use href="#ikb" class="x"/><use href="#S"/><use href="#L"/></g>
<g transform="translate(3452.2)"><use href="#oaa" class="d"/><use href="#oba" class="k3"/><use href="#oca" class="k2"/><use href="#odc" class="e"/><use href="#oga" class="k1"/><use href="#ohb" class="e"/><use href="#oja" class="k1"/><use href="#oka" class="k3"/><use href="#ola" class="c"/><use href="#iaa" class="y"/><use href="#ibb" class="g"/><use href="#ida" class="x"/><use href="#ieb" class="g"/><use href="#igc" class="x"/><use href="#ijb" class="y"/><use href="#ila" class="x"/><use href="#S"/><use href="#L"/></g>
<g transform="translate(3568.4)"><use href="#obb" class="k5"/><use href="#oda" class="c"/><use href="#oea" class="b"/><use href="#ofa" class="k2"/><use href="#oga" class="k5"/><use href="#ohb" class="k2"/><use href="#ojb" class="k5"/><use href="#olb" class="k4"/><use href="#ial" class="x"/><use href="#S"/><use href="#L"/></g>
</g>
<g transform="translate(0,921.8)">
<g transform="translate(317)"><use href="#oba" class="a"/><use href="#oda" class="d"/><use href="#oea" class="c"/><use href="#ofa" class="d"/><use href="#ogc" class="c"/><use href="#ojd" class="b"/><use href="#iac" class="g"/><use href="#ide" class="x"/><use href="#iia" class="g"/><use href="#ijc" class="x"/><use href="#S"/><use href="#L"/></g>
<g transform="translate(433.1)"><use href="#oab" class="b"/><use href="#oca" class="a"/><use href="#odd" class="d"/><use href="#ohe" class="c"/><use href="#ial" class="x"/><use href="#S"/><use href="#L"/></g>
<g transform="translate(549.2)"><use href="#obb" class="d"/><use href="#oda" class="c"/><use href="#oea" class="d"/><use href="#ofb" class="e"/><use href="#ohb" class="d"/><use href="#ojb" class="e"/><use href="#olb" class="c"/><use href="#ial" class="x"/><use href="#S"/><use href="#L"/></g>
<g transform="translate(665.4)"><use href="#oaa" class="a"/><use href="#oba" class="b"/><use href="#oca" class="a"/><use href="#oda" class="d"/><use href="#oea" class="c"/><use href="#ofb" class="d"/><use href="#ohc" class="c"/><use href="#okb" class="b"/><use href="#ial" class="x"/><use href="#S"/><use href="#L"/></g>
<g transform="translate(781.5)"><use href="#obb" class="b"/><use href="#odb" class="k2"/><use href="#oga" class="k2"/><use href="#ohb" class="k3"/><use href="#oja" class="a"/><use href="#olb" class="k1"/><use href="#iac" class="g"/><use href="#ida" class="x"/><use href="#iea" class="g"/><use href="#ifc" class="x"/><use href="#iia" class="g"/><use href="#ija" class="y"/><use href="#ika" class="g"/><use href="#ila" class="x"/><use href="#S"/><use href="#L"/></g>
<g transform="translate(897.6)"><use href="#oaa" class="a"/><use href="#oba" class="c"/><use href="#oca" class="b"/><use href="#oda" class="k2"/><use href="#ofa" class="b"/><use href="#oga" class="c"/><use href="#oia" class="a"/><use href="#ojb" class="b"/><use href="#ola" class="c"/><use href="#iaa" class="g"/><use href="#iba" class="y"/><use href="#ica" class="g"/><use href="#ide" class="x"/><use href="#iia" class="y"/><use href="#ijc" class="x"/><use href="#S"/><use href="#L"/></g>
<g transform="translate(1013.7)"><use href="#odb" class="k2"/><use href="#ogc" class="a"/><use href="#ojb" class="b"/><use href="#old" class="c"/><use href="#iac" class="g"/><use href="#ida" class="y"/><use href="#ied" class="x"/><use href="#iia" class="y"/><use href="#ijc" class="x"/><use href="#S"/><use href="#L"/></g>
<g transform="translate(1129.8)"><use href="#oaa" class="k5"/><use href="#oba" class="k3"/><use href="#oca" class="k5"/><use href="#odb" class="k2"/><use href="#oga" class="k3"/><use href="#oha" class="k4"/><use href="#oia" class="k5"/><use href="#oja" class="k2"/><use href="#okb" class="k3"/><use href="#ibb" class="g"/><use href="#idf" class="x"/><use href="#ijb" class="g"/><use href="#ilb" class="x"/><use href="#S"/><use href="#L"/></g>
<g transform="translate(1246)"><use href="#obe" class="a"/><use href="#ojc" class="a"/><use href="#iba" class="y"/><use href="#ica" class="g"/><use href="#ida" class="x"/><use href="#iea" class="y"/><use href="#ifd" class="x"/><use href="#ija" class="y"/><use href="#ikc" class="x"/><use href="#S"/><use href="#L"/></g>
<g transform="translate(1362.1)"><use href="#dbb" class="y"/><use href="#ddf" class="x"/><use href="#dja" class="y"/><use href="#dkc" class="x"/><use href="#T"/><use href="#L"/></g>
<g transform="translate(1478.2)"><use href="#oda" class="k3"/><use href="#oea" class="k5"/><use href="#ofb" class="k2"/><use href="#oha" class="k3"/><use href="#oig" class="k5"/><use href="#ica" class="g"/><use href="#idf" class="x"/><use href="#ijb" class="g"/><use href="#ilc" class="x"/><use href="#S"/><use href="#L"/></g>
<g transform="translate(1594.3)"><use href="#oba" class="a"/><use href="#oca" class="k2"/><use href="#odb" class="k5"/><use href="#ofa" class="k3"/><use href="#oga" class="k4"/><use href="#ohb" class="k3"/><use href="#oja" class="k2"/><use href="#oka" class="k3"/><use href="#ola" class="c"/><use href="#ica" class="g"/><use href="#idg" class="x"/><use href="#ika" class="g"/><use href="#ilc" class="x"/><use href="#S"/><use href="#L"/></g>
<g transform="translate(1710.4)"><use href="#oaa" class="a"/><use href="#oca" class="a"/><use href="#odb" class="k2"/><use href="#ofb" class="k5"/><use href="#ohb" class="a"/><use href="#ojb" class="k2"/><use href="#ola" class="b"/><use href="#ial" class="x"/><use href="#S"/><use href="#L"/></g>
<g transform="translate(1826.6)"><use href="#oda" class="k4"/><use href="#oea" class="k5"/><use href="#ofb" class="k3"/><use href="#oha" class="k4"/><use href="#oig" class="k5"/><use href="#ibb" class="g"/><use href="#ida" class="x"/><use href="#iea" class="g"/><use href="#ifc" class="x"/><use href="#iic" class="g"/><use href="#ilb" class="x"/><use href="#S"/><use href="#L"/></g>
<g transform="translate(1942.7)"><use href="#oae" class="k5"/><use href="#ofa" class="k4"/><use href="#oga" class="k3"/><use href="#ohd" class="k5"/><use href="#ola" class="k3"/><use href="#ibb" class="g"/><use href="#idg" class="x"/><use href="#ika" class="g"/><use href="#ilb" class="x"/><use href="#S"/><use href="#L"/></g>
<g transform="translate(2058.8)"><use href="#ofa" class="k2"/><use href="#oga" class="k1"/><use href="#ohj" class="k5"/><use href="#iac" class="g"/><use href="#ida" class="x"/><use href="#iea" class="g"/><use href="#ifa" class="y"/><use href="#igb" class="x"/><use href="#iib" class="y"/><use href="#ika" class="g"/><use href="#ila" class="x"/><use href="#S"/><use href="#L"/></g>
<g transform="translate(2174.9)"><use href="#oga" class="k3"/><use href="#ohk" class="k5"/><use href="#iac" class="g"/><use href="#ida" class="x"/><use href="#ieb" class="y"/><use href="#igb" class="x"/><use href="#iic" class="y"/><use href="#ila" class="x"/><use href="#S"/><use href="#L"/></g>
<g transform="translate(2291)"><use href="#ofa" class="k4"/><use href="#oga" class="k2"/><use href="#ohj" class="k5"/><use href="#iac" class="g"/><use href="#idf" class="x"/><use href="#ijb" class="y"/><use href="#ila" class="x"/><use href="#S"/><use href="#L"/></g>
<g transform="translate(2407.2)"><use href="#odb" class="k4"/><use href="#ofb" class="k1"/><use href="#ohh" class="k5"/><use href="#iac" class="g"/><use href="#ida" class="x"/><use href="#ieb" class="y"/><use href="#igb" class="x"/><use href="#iia" class="g"/><use href="#ijb" class="y"/><use href="#ila" class="x"/><use href="#S"/><use href="#L"/></g>
<g transform="translate(2523.3)"><use href="#oal" class="k5"/><use href="#iac" class="g"/><use href="#ida" class="x"/><use href="#iea" class="y"/><use href="#ifc" class="x"/><use href="#iid" class="y"/><use href="#S"/><use href="#L"/></g>
<g transform="translate(2639.4)"><use href="#oac" class="k5"/><use href="#oda" class="k4"/><use href="#oef" class="k5"/><use href="#okb" class="k4"/><use href="#iaa" class="g"/><use href="#iba" class="y"/><use href="#ica" class="g"/><use href="#ide" class="x"/><use href="#iic" class="y"/><use href="#ila" class="x"/><use href="#S"/><use href="#L"/></g>
<g transform="translate(2755.5)"><use href="#odb" class="k3"/><use href="#ofb" class="k2"/><use href="#ohb" class="k5"/><use href="#oja" class="k2"/><use href="#oka" class="k3"/><use href="#old" class="k5"/><use href="#iac" class="g"/><use href="#idb" class="y"/><use href="#ifc" class="x"/><use href="#iid" class="y"/><use href="#S"/><use href="#L"/></g>
<g transform="translate(2871.6)"><use href="#oaa" class="k5"/><use href="#oba" class="k2"/><use href="#oca" class="k5"/><use href="#oda" class="k1"/><use href="#oeb" class="a"/><use href="#oga" class="b"/><use href="#ohb" class="k3"/><use href="#oja" class="k2"/><use href="#oka" class="k1"/><use href="#ola" class="k4"/><use href="#iaa" class="y"/><use href="#iba" class="g"/><use href="#icd" class="y"/><use href="#igb" class="x"/><use href="#iic" class="y"/><use href="#ila" class="x"/><use href="#S"/><use href="#L"/></g>
<g transform="translate(2987.8)"><use href="#oaa" class="k4"/><use href="#oba" class="k3"/><use href="#oca" class="k4"/><use href="#odb" class="k5"/><use href="#ofa" class="k3"/><use href="#oga" class="k2"/><use href="#ohc" class="k5"/><use href="#oka" class="k4"/><use href="#ola" class="k5"/><use href="#ide" class="x"/><use href="#iig" class="y"/><use href="#S"/><use href="#L"/></g>
<g transform="translate(3103.9)"><use href="#oba" class="k2"/><use href="#oca" class="k5"/><use href="#odb" class="e"/><use href="#ofa" class="k4"/><use href="#oga" class="k5"/><use href="#ohb" class="k2"/><use href="#ojd" class="k5"/><use href="#ica" class="g"/><use href="#idg" class="x"/><use href="#ika" class="y"/><use href="#ilc" class="x"/><use href="#S"/><use href="#L"/></g>
<g transform="translate(3220)"><use href="#oaa" class="k2"/><use href="#oba" class="k1"/><use href="#oca" class="k2"/><use href="#oda" class="k1"/><use href="#oea" class="k2"/><use href="#ofb" class="k5"/><use href="#ohb" class="k3"/><use href="#ojb" class="k4"/><use href="#ola" class="k1"/><use href="#ial" class="x"/><use href="#S"/><use href="#L"/></g>
<g transform="translate(3336.1)"><use href="#oda" class="a"/><use href="#ofa" class="k1"/><use href="#oga" class="k2"/><use href="#oha" class="k4"/><use href="#oig" class="k5"/><use href="#ica" class="y"/><use href="#idk" class="x"/><use href="#S"/><use href="#L"/></g>
<g transform="translate(3452.2)"><use href="#oba" class="k3"/><use href="#oca" class="k1"/><use href="#odb" class="e"/><use href="#ofa" class="d"/><use href="#oga" class="k2"/><use href="#ohb" class="e"/><use href="#ojb" class="k2"/><use href="#olb" class="d"/><use href="#ifa" class="g"/><use href="#igc" class="x"/><use href="#ijb" class="y"/><use href="#ilf" class="x"/><use href="#S"/><use href="#L"/></g>
<g transform="translate(3568.4)"><use href="#obb" class="k5"/><use href="#oda" class="d"/><use href="#oea" class="c"/><use href="#ofa" class="k2"/><use href="#oga" class="k5"/><use href="#ohb" class="k2"/><use href="#oja" class="k5"/><use href="#oka" class="k4"/><use href="#olb" class="k3"/><use href="#ial" class="x"/><use href="#S"/><use href="#L"/></g>
</g>
<g transform="translate(0,1045.8)">
<g transform="translate(317)"><use href="#oaa" class="k3"/><use href="#oba" class="k4"/><use href="#oca" class="k3"/><use href="#odb" class="k2"/><use href="#ofb" class="b"/><use href="#oic" class="k1"/><use href="#ola" class="k2"/><use href="#iab" class="y"/><use href="#ica" class="g"/><use href="#idi" class="x"/><use href="#S"/><use href="#L"/></g>
<g transform="translate(433.1)"><use href="#odb" class="a"/><use href="#ofa" class="c"/><use href="#oga" class="d"/><use href="#oha" class="e"/><use href="#oia" class="d"/><use href="#ojb" class="k3"/><use href="#old" class="k5"/><use href="#iab" class="y"/><use href="#ica" class="g"/><use href="#idi" class="x"/><use href="#S"/><use href="#L"/></g>
<g transform="translate(549.2)"><use href="#obb" class="k5"/><use href="#odb" class="a"/><use href="#ofa" class="b"/><use href="#oga" class="c"/><use href="#oha" class="k3"/><use href="#oia" class="d"/><use href="#ojb" class="e"/><use href="#olb" class="k4"/><use href="#iab" class="y"/><use href="#icj" class="x"/><use href="#S"/><use href="#L"/></g>
<g transform="translate(665.4)"><use href="#oea" class="k5"/><use href="#ofa" class="d"/><use href="#ogb" class="e"/><use href="#oic" class="k2"/><use href="#old" class="k5"/><use href="#iab" class="y"/><use href="#ica" class="g"/><use href="#idi" class="x"/><use href="#S"/><use href="#L"/></g>
<g transform="translate(781.5)"><use href="#oaa" class="a"/><use href="#oba" class="k5"/><use href="#oca" class="k3"/><use href="#oda" class="a"/><use href="#oea" class="k1"/><use href="#ofa" class="k2"/><use href="#oga" class="k1"/><use href="#oha" class="c"/><use href="#oia" class="a"/><use href="#ojb" class="k5"/><use href="#ola" class="b"/><use href="#ibb" class="g"/><use href="#ida" class="x"/><use href="#iea" class="y"/><use href="#ifc" class="x"/><use href="#iic" class="g"/><use href="#ilb" class="x"/><use href="#S"/><use href="#L"/></g>
<g transform="translate(897.6)"><use href="#oaa" class="a"/><use href="#oba" class="k2"/><use href="#oca" class="k3"/><use href="#oda" class="k4"/><use href="#oeb" class="d"/><use href="#oga" class="c"/><use href="#oha" class="d"/><use href="#oia" class="c"/><use href="#oja" class="a"/><use href="#oka" class="k1"/><use href="#ola" class="k5"/><use href="#ibb" class="g"/><use href="#idj" class="x"/><use href="#S"/><use href="#L"/></g>
<g transform="translate(1013.7)"><use href="#obb" class="k3"/><use href="#oda" class="k4"/><use href="#oea" class="k3"/><use href="#ofa" class="a"/><use href="#oga" class="b"/><use href="#oha" class="k3"/><use href="#oia" class="c"/><use href="#oja" class="a"/><use href="#oka" class="k1"/><use href="#ola" class="k4"/><use href="#ibb" class="g"/><use href="#idj" class="x"/><use href="#S"/><use href="#L"/></g>
<g transform="translate(1129.8)"><use href="#oaa" class="k1"/><use href="#oba" class="k2"/><use href="#odb" class="c"/><use href="#oga" class="a"/><use href="#oha" class="b"/><use href="#oia" class="c"/><use href="#oja" class="k2"/><use href="#oka" class="a"/><use href="#ola" class="b"/><use href="#iba" class="y"/><use href="#ica" class="g"/><use href="#idb" class="x"/><use href="#ifa" class="y"/><use href="#igc" class="x"/><use href="#ijb" class="g"/><use href="#ilb" class="x"/><use href="#S"/><use href="#L"/></g>
<g transform="translate(1246)"><use href="#obb" class="k2"/><use href="#odb" class="k3"/><use href="#ofb" class="c"/><use href="#oha" class="k3"/><use href="#oic" class="k2"/><use href="#olb" class="k3"/><use href="#ial" class="x"/><use href="#S"/><use href="#L"/></g>
<g transform="translate(1362.1)"><use href="#obb" class="k2"/><use href="#odb" class="k3"/><use href="#ofa" class="b"/><use href="#oga" class="c"/><use href="#oha" class="k3"/><use href="#oic" class="k2"/><use href="#olb" class="k4"/><use href="#ial" class="x"/><use href="#S"/><use href="#L"/></g>
<g transform="translate(1478.2)"><use href="#dca" class="g"/><use href="#ddc" class="x"/><use href="#dga" class="y"/><use href="#dhc" class="x"/><use href="#dka" class="g"/><use href="#dlc" class="x"/><use href="#T"/><use href="#L"/></g>
<g transform="translate(1594.3)"><use href="#oaa" class="a"/><use href="#oba" class="c"/><use href="#oca" class="d"/><use href="#oea" class="k4"/><use href="#oga" class="b"/><use href="#oha" class="k2"/><use href="#oib" class="b"/><use href="#okb" class="k1"/><use href="#ika" class="y"/><use href="#ilk" class="x"/><use href="#S"/><use href="#L"/></g>
<g transform="translate(1710.4)"><use href="#oaa" class="b"/><use href="#oba" class="c"/><use href="#oca" class="e"/><use href="#oda" class="k2"/><use href="#oea" class="a"/><use href="#ofa" class="k3"/><use href="#oga" class="d"/><use href="#oha" class="a"/><use href="#oia" class="c"/><use href="#oja" class="a"/><use href="#oka" class="b"/><use href="#ola" class="k2"/><use href="#ial" class="x"/><use href="#S"/><use href="#L"/></g>
<g transform="translate(1826.6)"><use href="#oba" class="k3"/><use href="#oca" class="k5"/><use href="#oda" class="k2"/><use href="#oea" class="a"/><use href="#oga" class="a"/><use href="#ohb" class="k1"/><use href="#oja" class="k2"/><use href="#oka" class="k4"/><use href="#olb" class="k2"/><use href="#ibb" class="g"/><use href="#idb" class="x"/><use href="#ifb" class="g"/><use href="#ihb" class="x"/><use href="#ijb" class="g"/><use href="#ilb" class="x"/><use href="#S"/><use href="#L"/></g>
<g transform="translate(1942.7)"><use href="#oaa" class="c"/><use href="#oba" class="a"/><use href="#oda" class="k5"/><use href="#oeb" class="k4"/><use href="#oga" class="k5"/><use href="#oha" class="k2"/><use href="#oia" class="b"/><use href="#ojb" class="k5"/><use href="#ica" class="y"/><use href="#idg" class="x"/><use href="#ika" class="y"/><use href="#ilc" class="x"/><use href="#S"/><use href="#L"/></g>
<g transform="translate(2058.8)"><use href="#oaa" class="a"/><use href="#oba" class="k1"/><use href="#oca" class="k5"/><use href="#odb" class="k3"/><use href="#ofa" class="k2"/><use href="#oga" class="a"/><use href="#oha" class="b"/><use href="#oib" class="a"/><use href="#oka" class="k2"/><use href="#ola" class="b"/><use href="#ibb" class="g"/><use href="#idf" class="x"/><use href="#ija" class="g"/><use href="#ika" class="y"/><use href="#ilb" class="x"/><use href="#S"/><use href="#L"/></g>
<g transform="translate(2174.9)"><use href="#oak" class="k5"/><use href="#ola" class="k3"/><use href="#ibb" class="g"/><use href="#idb" class="x"/><use href="#ifb" class="g"/><use href="#iha" class="x"/><use href="#iic" class="g"/><use href="#ilb" class="x"/><use href="#S"/><use href="#L"/></g>
<g transform="translate(2291)"><use href="#oaa" class="k3"/><use href="#obb" class="k5"/><use href="#oda" class="k2"/><use href="#oea" class="k5"/><use href="#oge" class="k5"/><use href="#ola" class="k2"/><use href="#ica" class="g"/><use href="#idg" class="x"/><use href="#ika" class="g"/><use href="#ilc" class="x"/><use href="#S"/><use href="#L"/></g>
<g transform="translate(2407.2)"><use href="#oae" class="k5"/><use href="#ofb" class="k2"/><use href="#ohd" class="k5"/><use href="#ola" class="k3"/><use href="#ibb" class="g"/><use href="#idb" class="x"/><use href="#ifa" class="g"/><use href="#igc" class="x"/><use href="#ijb" class="g"/><use href="#ilb" class="x"/><use href="#S"/><use href="#L"/></g>
<g transform="translate(2523.3)"><use href="#oak" class="k5"/><use href="#ola" class="k4"/><use href="#iac" class="g"/><use href="#ida" class="x"/><use href="#iea" class="y"/><use href="#ifc" class="x"/><use href="#iib" class="g"/><use href="#ika" class="y"/><use href="#ila" class="x"/><use href="#S"/><use href="#L"/></g>
<g transform="translate(2639.4)"><use href="#odc" class="k3"/><use href="#oga" class="k5"/><use href="#oha" class="k3"/><use href="#oig" class="k5"/><use href="#iac" class="g"/><use href="#ide" class="x"/><use href="#iia" class="g"/><use href="#ijb" class="y"/><use href="#ila" class="x"/><use href="#S"/><use href="#L"/></g>
<g transform="translate(2755.5)"><use href="#oaa" class="k3"/><use href="#obb" class="k4"/><use href="#odb" class="k2"/><use href="#ofb" class="b"/><use href="#oha" class="k5"/><use href="#oia" class="k3"/><use href="#oka" class="k1"/><use href="#ola" class="e"/><use href="#ibb" class="g"/><use href="#idb" class="x"/><use href="#ifa" class="y"/><use href="#igb" class="x"/><use href="#iic" class="g"/><use href="#ilb" class="x"/><use href="#S"/><use href="#L"/></g>
<g transform="translate(2871.6)"><use href="#oab" class="k2"/><use href="#oca" class="k3"/><use href="#oda" class="k1"/><use href="#ofa" class="a"/><use href="#oha" class="k1"/><use href="#oia" class="k2"/><use href="#oja" class="a"/><use href="#oka" class="k1"/><use href="#ola" class="k5"/><use href="#iba" class="y"/><use href="#ica" class="g"/><use href="#ida" class="y"/><use href="#iea" class="g"/><use href="#ifa" class="y"/><use href="#iga" class="x"/><use href="#ihd" class="y"/><use href="#ilb" class="g"/><use href="#S"/><use href="#L"/></g>
<g transform="translate(2987.8)"><use href="#oaa" class="k3"/><use href="#oba" class="k4"/><use href="#oca" class="k5"/><use href="#odh" class="k2"/><use href="#ola" class="k5"/><use href="#iac" class="g"/><use href="#ida" class="x"/><use href="#iea" class="y"/><use href="#ifc" class="x"/><use href="#iic" class="y"/><use href="#ila" class="x"/><use href="#S"/><use href="#L"/></g>
<g transform="translate(3103.9)"><use href="#oaa" class="k2"/><use href="#oba" class="a"/><use href="#occ" class="k2"/><use href="#ofb" class="k4"/><use href="#ohb" class="k1"/><use href="#oja" class="a"/><use href="#oka" class="b"/><use href="#ica" class="g"/><use href="#idk" class="x"/><use href="#S"/><use href="#L"/></g>
<g transform="translate(3220)"><use href="#oba" class="b"/><use href="#odb" class="k2"/><use href="#ofb" class="k4"/><use href="#oja" class="k1"/><use href="#olb" class="a"/><use href="#ial" class="x"/><use href="#S"/><use href="#L"/></g>
<g transform="translate(3336.1)"><use href="#oaa" class="k2"/><use href="#oba" class="a"/><use href="#oca" class="k2"/><use href="#odb" class="k3"/><use href="#ofa" class="k4"/><use href="#oga" class="k5"/><use href="#ohb" class="k2"/><use href="#oja" class="k1"/><use href="#ola" class="b"/><use href="#iac" class="y"/><use href="#idi" class="x"/><use href="#S"/><use href="#L"/></g>
<g transform="translate(3452.2)"><use href="#obb" class="k2"/><use href="#ofa" class="k5"/><use href="#oga" class="k4"/><use href="#oha" class="k1"/><use href="#oja" class="k3"/><use href="#ola" class="a"/><use href="#ial" class="x"/><use href="#S"/><use href="#L"/></g>
<g transform="translate(3568.4)"><use href="#odd" class="k2"/><use href="#oha" class="k5"/><use href="#oic" class="k2"/><use href="#old" class="k1"/><use href="#ial" class="x"/><use href="#S"/><use href="#L"/></g>
</g>
<g transform="translate(0,1169.7)">
<g transform="translate(317)"><use href="#oba" class="k1"/><use href="#oda" class="k4"/><use href="#oeb" class="k3"/><use href="#oga" class="k2"/><use href="#ohb" class="k4"/><use href="#ojd" class="k3"/><use href="#iab" class="g"/><use href="#ica" class="y"/><use href="#ide" class="x"/><use href="#iia" class="g"/><use href="#ija" class="x"/><use href="#ika" class="g"/><use href="#ila" class="x"/><use href="#S"/><use href="#L"/></g>
<g transform="translate(433.1)"><use href="#oab" class="k3"/><use href="#oca" class="k2"/><use href="#odc" class="k4"/><use href="#oga" class="k3"/><use href="#ohb" class="k5"/><use href="#ojc" class="k4"/><use href="#ial" class="x"/><use href="#S"/><use href="#L"/></g>
<g transform="translate(549.2)"><use href="#oaa" class="k1"/><use href="#oba" class="k2"/><use href="#oea" class="k1"/><use href="#ofb" class="a"/><use href="#oia" class="b"/><use href="#oja" class="k1"/><use href="#oka" class="b"/><use href="#ola" class="k3"/><use href="#ial" class="x"/><use href="#S"/><use href="#L"/></g>
<g transform="translate(665.4)"><use href="#oab" class="k2"/><use href="#oca" class="k1"/><use href="#odb" class="k3"/><use href="#ofb" class="k2"/><use href="#ohe" class="k3"/><use href="#ial" class="x"/><use href="#S"/><use href="#L"/></g>
<g transform="translate(781.5)"><use href="#oda" class="k2"/><use href="#oea" class="k3"/><use href="#ofb" class="a"/><use href="#ohh" class="k5"/><use href="#iac" class="g"/><use href="#ida" class="x"/><use href="#iea" class="y"/><use href="#ifc" class="x"/><use href="#iic" class="g"/><use href="#ila" class="x"/><use href="#S"/><use href="#L"/></g>
<g transform="translate(897.6)"><use href="#odb" class="k3"/><use href="#ofa" class="k1"/><use href="#oga" class="a"/><use href="#ohh" class="k5"/><use href="#iac" class="g"/><use href="#ida" class="x"/><use href="#iea" class="y"/><use href="#ifc" class="x"/><use href="#iia" class="g"/><use href="#ijc" class="x"/><use href="#S"/><use href="#L"/></g>
<g transform="translate(1013.7)"><use href="#oda" class="k4"/><use href="#oea" class="k3"/><use href="#ofa" class="a"/><use href="#oga" class="b"/><use href="#ohc" class="k4"/><use href="#oke" class="k5"/><use href="#iac" class="g"/><use href="#ida" class="x"/><use href="#iea" class="y"/><use href="#ifc" class="x"/><use href="#iia" class="g"/><use href="#ijc" class="x"/><use href="#S"/><use href="#L"/></g>
<g transform="translate(1129.8)"><use href="#oba" class="k3"/><use href="#oca" class="k4"/><use href="#odd" class="b"/><use href="#ohb" class="k2"/><use href="#olb" class="k4"/><use href="#iba" class="y"/><use href="#ica" class="g"/><use href="#idb" class="x"/><use href="#ifa" class="y"/><use href="#igc" class="x"/><use href="#ija" class="y"/><use href="#ika" class="g"/><use href="#ilb" class="x"/><use href="#S"/><use href="#L"/></g>
<g transform="translate(1246)"><use href="#ofa" class="d"/><use href="#oga" class="e"/><use href="#oha" class="k2"/><use href="#oic" class="a"/><use href="#old" class="k3"/><use href="#ibb" class="g"/><use href="#idf" class="x"/><use href="#ija" class="y"/><use href="#ikc" class="x"/><use href="#S"/><use href="#L"/></g>
<g transform="translate(1362.1)"><use href="#oba" class="k2"/><use href="#oca" class="k3"/><use href="#odb" class="k1"/><use href="#ofa" class="d"/><use href="#oga" class="e"/><use href="#ohb" class="k2"/><use href="#olb" class="k4"/><use href="#ibb" class="g"/><use href="#idf" class="x"/><use href="#ija" class="y"/><use href="#ikc" class="x"/><use href="#S"/><use href="#L"/></g>
<g transform="translate(1478.2)"><use href="#oaa" class="k2"/><use href="#obb" class="k5"/><use href="#oda" class="a"/><use href="#oea" class="k1"/><use href="#ofa" class="d"/><use href="#oga" class="c"/><use href="#oha" class="a"/><use href="#oia" class="k5"/><use href="#oja" class="k3"/><use href="#oka" class="k4"/><use href="#ica" class="g"/><use href="#idg" class="x"/><use href="#ika" class="g"/><use href="#ilc" class="x"/><use href="#S"/><use href="#L"/></g>
<g transform="translate(1594.3)"><use href="#dka" class="g"/><use href="#dlk" class="x"/><use href="#T"/><use href="#L"/></g>
<g transform="translate(1710.4)"><use href="#oaa" class="a"/><use href="#oba" class="b"/><use href="#oca" class="d"/><use href="#odb" class="b"/><use href="#ofa" class="k1"/><use href="#oga" class="a"/><use href="#oha" class="b"/><use href="#oia" class="c"/><use href="#oja" class="b"/><use href="#oka" class="c"/><use href="#ola" class="k1"/><use href="#ial" class="x"/><use href="#S"/><use href="#L"/></g>
<g transform="translate(1826.6)"><use href="#oaa" class="k5"/><use href="#oba" class="k4"/><use href="#oca" class="k5"/><use href="#ode" class="e"/><use href="#oia" class="k5"/><use href="#oja" class="k4"/><use href="#oka" class="k5"/><use href="#ola" class="k3"/><use href="#ibb" class="g"/><use href="#idb" class="x"/><use href="#ifa" class="y"/><use href="#iga" class="g"/><use href="#ihb" class="x"/><use href="#ijb" class="g"/><use href="#ilb" class="x"/><use href="#S"/><use href="#L"/></g>
<g transform="translate(1942.7)"><use href="#oca" class="k3"/><use href="#oda" class="b"/><use href="#oea" class="a"/><use href="#ofa" class="b"/><use href="#oga" class="c"/><use href="#oha" class="k1"/><use href="#oia" class="k2"/><use href="#oka" class="k3"/><use href="#olc" class="k2"/><use href="#ica" class="g"/><use href="#idk" class="x"/><use href="#S"/><use href="#L"/></g>
<g transform="translate(2058.8)"><use href="#oab" class="k4"/><use href="#oca" class="k5"/><use href="#oda" class="b"/><use href="#oea" class="k2"/><use href="#ofb" class="d"/><use href="#ohb" class="k2"/><use href="#ojb" class="k1"/><use href="#ola" class="k2"/><use href="#ibb" class="g"/><use href="#idg" class="x"/><use href="#ika" class="g"/><use href="#ilb" class="x"/><use href="#S"/><use href="#L"/></g>
<g transform="translate(2174.9)"><use href="#oab" class="k4"/><use href="#oca" class="k5"/><use href="#odb" class="k3"/><use href="#ofb" class="k2"/><use href="#ohc" class="k3"/><use href="#oka" class="k2"/><use href="#ola" class="k3"/><use href="#ibb" class="y"/><use href="#idf" class="x"/><use href="#ijb" class="y"/><use href="#ilb" class="x"/><use href="#S"/><use href="#L"/></g>
<g transform="translate(2291)"><use href="#oca" class="k5"/><use href="#oda" class="k2"/><use href="#oea" class="k1"/><use href="#oga" class="a"/><use href="#ohb" class="k2"/><use href="#oja" class="a"/><use href="#olc" class="k3"/><use href="#ica" class="g"/><use href="#idk" class="x"/><use href="#S"/><use href="#L"/></g>
<g transform="translate(2407.2)"><use href="#oba" class="k4"/><use href="#oca" class="k5"/><use href="#oea" class="k1"/><use href="#ofb" class="b"/><use href="#oha" class="k4"/><use href="#oia" class="k5"/><use href="#oja" class="k2"/><use href="#oka" class="k1"/><use href="#olb" class="k5"/><use href="#ibb" class="g"/><use href="#idf" class="x"/><use href="#ijb" class="y"/><use href="#ilb" class="x"/><use href="#S"/><use href="#L"/></g>
<g transform="translate(2523.3)"><use href="#oba" class="k4"/><use href="#ocd" class="k3"/><use href="#oga" class="k2"/><use href="#ohb" class="k4"/><use href="#ojb" class="k3"/><use href="#olb" class="k5"/><use href="#iaa" class="g"/><use href="#ibb" class="y"/><use href="#ida" class="x"/><use href="#ieb" class="y"/><use href="#igb" class="x"/><use href="#iia" class="g"/><use href="#ijb" class="y"/><use href="#ila" class="x"/><use href="#S"/><use href="#L"/></g>
<g transform="translate(2639.4)"><use href="#obg" class="k3"/><use href="#oic" class="k2"/><use href="#olb" class="k4"/><use href="#iba" class="y"/><use href="#ica" class="g"/><use href="#idf" class="x"/><use href="#ijb" class="y"/><use href="#ilb" class="x"/><use href="#S"/><use href="#L"/></g>
<g transform="translate(2755.5)"><use href="#oba" class="k2"/><use href="#oca" class="k5"/><use href="#oda" class="a"/><use href="#oea" class="b"/><use href="#ofb" class="e"/><use href="#ohb" class="k3"/><use href="#ojb" class="b"/><use href="#olb" class="k5"/><use href="#idb" class="x"/><use href="#ifa" class="y"/><use href="#igc" class="x"/><use href="#ijf" class="y"/><use href="#S"/><use href="#L"/></g>
<g transform="translate(2871.6)"><use href="#oaa" class="k3"/><use href="#oba" class="k1"/><use href="#oca" class="k2"/><use href="#oda" class="d"/><use href="#oec" class="e"/><use href="#oha" class="k1"/><use href="#oia" class="k2"/><use href="#ojb" class="c"/><use href="#ola" class="k2"/><use href="#ifa" class="g"/><use href="#igk" class="x"/><use href="#S"/><use href="#L"/></g>
<g transform="translate(2987.8)"><use href="#obb" class="k1"/><use href="#oda" class="k3"/><use href="#oea" class="a"/><use href="#ofb" class="c"/><use href="#ohb" class="k3"/><use href="#ojd" class="k2"/><use href="#ibb" class="y"/><use href="#idf" class="x"/><use href="#ija" class="y"/><use href="#ikc" class="x"/><use href="#S"/><use href="#L"/></g>
<g transform="translate(3103.9)"><use href="#oac" class="k3"/><use href="#odb" class="e"/><use href="#ofa" class="c"/><use href="#oga" class="k1"/><use href="#ohb" class="c"/><use href="#ojc" class="k2"/><use href="#ial" class="x"/><use href="#S"/><use href="#L"/></g>
<g transform="translate(3220)"><use href="#oca" class="k1"/><use href="#oda" class="k2"/><use href="#oea" class="b"/><use href="#oga" class="k2"/><use href="#oha" class="k3"/><use href="#oia" class="b"/><use href="#ojb" class="k2"/><use href="#olb" class="b"/><use href="#ial" class="x"/><use href="#S"/><use href="#L"/></g>
<g transform="translate(3336.1)"><use href="#oad" class="k2"/><use href="#oea" class="a"/><use href="#ofb" class="c"/><use href="#ohc" class="k1"/><use href="#ial" class="x"/><use href="#S"/><use href="#L"/></g>
<g transform="translate(3452.2)"><use href="#oba" class="k3"/><use href="#oca" class="k2"/><use href="#odb" class="e"/><use href="#ofa" class="a"/><use href="#oga" class="k4"/><use href="#ohb" class="e"/><use href="#oja" class="d"/><use href="#oka" class="c"/><use href="#olb" class="d"/><use href="#ica" class="g"/><use href="#idf" class="x"/><use href="#ijb" class="g"/><use href="#ilc" class="x"/><use href="#S"/><use href="#L"/></g>
<g transform="translate(3568.4)"><use href="#oaa" class="k2"/><use href="#obb" class="k5"/><use href="#odb" class="k1"/><use href="#ofa" class="k2"/><use href="#oga" class="k5"/><use href="#ohb" class="a"/><use href="#ojb" class="k2"/><use href="#ola" class="k3"/><use href="#ial" class="x"/><use href="#S"/><use href="#L"/></g>
</g>
<g transform="translate(0,1293.7)">
<g transform="translate(317)"><use href="#oaa" class="k1"/><use href="#oba" class="a"/><use href="#oca" class="b"/><use href="#oda" class="k3"/><use href="#oea" class="k2"/><use href="#ofa" class="k1"/><use href="#oga" class="a"/><use href="#oha" class="k3"/><use href="#oia" class="k2"/><use href="#ola" class="k2"/><use href="#ica" class="y"/><use href="#idk" class="x"/><use href="#S"/><use href="#L"/></g>
<g transform="translate(433.1)"><use href="#oab" class="k2"/><use href="#oca" class="k1"/><use href="#oda" class="k4"/><use href="#oee" class="k3"/><use href="#ojb" class="k2"/><use href="#ola" class="k3"/><use href="#ial" class="x"/><use href="#S"/><use href="#L"/></g>
<g transform="translate(549.2)"><use href="#oaa" class="k1"/><use href="#oba" class="k2"/><use href="#oca" class="k1"/><use href="#oda" class="k2"/><use href="#oea" class="k1"/><use href="#ofb" class="k2"/><use href="#ohb" class="a"/><use href="#oja" class="k1"/><use href="#oka" class="a"/><use href="#ola" class="k3"/><use href="#ial" class="x"/><use href="#S"/><use href="#L"/></g>
<g transform="translate(665.4)"><use href="#oba" class="a"/><use href="#oca" class="b"/><use href="#oda" class="k2"/><use href="#oea" class="k1"/><use href="#ofa" class="a"/><use href="#ogd" class="k1"/><use href="#oka" class="a"/><use href="#ola" class="k2"/><use href="#ial" class="x"/><use href="#S"/><use href="#L"/></g>
<g transform="translate(781.5)"><use href="#oda" class="k3"/><use href="#oea" class="k2"/><use href="#ofb" class="a"/><use href="#ohh" class="k5"/><use href="#iac" class="g"/><use href="#ide" class="x"/><use href="#iic" class="g"/><use href="#ila" class="x"/><use href="#S"/><use href="#L"/></g>
<g transform="translate(897.6)"><use href="#odb" class="k3"/><use href="#ofa" class="k1"/><use href="#ohb" class="k5"/><use href="#ojb" class="k4"/><use href="#old" class="k5"/><use href="#iac" class="g"/><use href="#idi" class="x"/><use href="#S"/><use href="#L"/></g>
<g transform="translate(1013.7)"><use href="#odb" class="k3"/><use href="#ofb" class="a"/><use href="#ohd" class="k4"/><use href="#old" class="k5"/><use href="#ibb" class="g"/><use href="#idj" class="x"/><use href="#S"/><use href="#L"/></g>
<g transform="translate(1129.8)"><use href="#oba" class="k4"/><use href="#oca" class="k5"/><use href="#odb" class="k1"/><use href="#ofb" class="b"/><use href="#ohb" class="k4"/><use href="#ojb" class="k2"/><use href="#olb" class="k5"/><use href="#ibb" class="g"/><use href="#idg" class="x"/><use href="#ika" class="y"/><use href="#ilb" class="x"/><use href="#S"/><use href="#L"/></g>
<g transform="translate(1246)"><use href="#ofa" class="c"/><use href="#oga" class="d"/><use href="#ohb" class="k2"/><use href="#ojb" class="k1"/><use href="#old" class="k3"/><use href="#ibb" class="g"/><use href="#idj" class="x"/><use href="#S"/><use href="#L"/></g>
<g transform="translate(1362.1)"><use href="#obb" class="k2"/><use href="#odb" class="k1"/><use href="#ofb" class="c"/><use href="#ohb" class="k2"/><use href="#ojb" class="k1"/><use href="#olb" class="k4"/><use href="#ica" class="g"/><use href="#idk" class="x"/><use href="#S"/><use href="#L"/></g>
<g transform="translate(1478.2)"><use href="#oea" class="k4"/><use href="#ofb" class="b"/><use href="#ohi" class="k5"/><use href="#ica" class="g"/><use href="#idg" class="x"/><use href="#ika" class="g"/><use href="#ilc" class="x"/><use href="#S"/><use href="#L"/></g>
<g transform="translate(1594.3)"><use href="#oaa" class="k4"/><use href="#oba" class="k3"/><use href="#occ" class="k4"/><use href="#ofb" class="k1"/><use href="#ohb" class="k4"/><use href="#oja" class="k3"/><use href="#oka" class="k4"/><use href="#ola" class="k2"/><use href="#ica" class="g"/><use href="#idg" class="x"/><use href="#ika" class="g"/><use href="#ilc" class="x"/><use href="#S"/><use href="#L"/></g>
<g transform="translate(1710.4)"><use href="#dal" class="x"/><use href="#T"/><use href="#L"/></g>
<g transform="translate(1826.6)"><use href="#oda" class="c"/><use href="#oea" class="k3"/><use href="#ofb" class="e"/><use href="#oig" class="k5"/><use href="#ibb" class="g"/><use href="#idf" class="x"/><use href="#ijb" class="g"/><use href="#ilb" class="x"/><use href="#S"/><use href="#L"/></g>
<g transform="translate(1942.7)"><use href="#oad" class="k5"/><use href="#oea" class="k4"/><use href="#ofa" class="k3"/><use href="#oga" class="k2"/><use href="#oha" class="k4"/><use href="#oic" class="k5"/><use href="#ola" class="k4"/><use href="#ica" class="g"/><use href="#idk" class="x"/><use href="#S"/><use href="#L"/></g>
<g transform="translate(2058.8)"><use href="#odb" class="k3"/><use href="#ofb" class="c"/><use href="#ohd" class="k4"/><use href="#old" class="k5"/><use href="#ibb" class="g"/><use href="#idg" class="x"/><use href="#ika" class="g"/><use href="#ilb" class="x"/><use href="#S"/><use href="#L"/></g>
<g transform="translate(2174.9)"><use href="#odb" class="k4"/><use href="#ofb" class="k3"/><use href="#ohc" class="k4"/><use href="#oke" class="k5"/><use href="#ibb" class="y"/><use href="#idg" class="x"/><use href="#ika" class="y"/><use href="#ilb" class="x"/><use href="#S"/><use href="#L"/></g>
<g transform="translate(2291)"><use href="#oaa" class="k5"/><use href="#oba" class="k4"/><use href="#oca" class="k5"/><use href="#odd" class="k3"/><use href="#ohb" class="k4"/><use href="#ojb" class="k3"/><use href="#ola" class="k4"/><use href="#ica" class="g"/><use href="#idk" class="x"/><use href="#S"/><use href="#L"/></g>
<g transform="translate(2407.2)"><use href="#oda" class="k3"/><use href="#oea" class="k1"/><use href="#ofa" class="a"/><use href="#oha" class="k4"/><use href="#oia" class="k5"/><use href="#ojb" class="k1"/><use href="#old" class="k5"/><use href="#ibb" class="g"/><use href="#idg" class="x"/><use href="#ika" class="y"/><use href="#ilb" class="x"/><use href="#S"/><use href="#L"/></g>
<g transform="translate(2523.3)"><use href="#obc" class="k4"/><use href="#oec" class="k3"/><use href="#ohd" class="k4"/><use href="#olb" class="k5"/><use href="#iaa" class="g"/><use href="#ibb" class="y"/><use href="#idf" class="x"/><use href="#ijb" class="y"/><use href="#ila" class="x"/><use href="#S"/><use href="#L"/></g>
<g transform="translate(2639.4)"><use href="#oaa" class="k5"/><use href="#oba" class="k4"/><use href="#oca" class="k3"/><use href="#odd" class="k4"/><use href="#ohd" class="k3"/><use href="#ola" class="k4"/><use href="#ibb" class="y"/><use href="#idj" class="x"/><use href="#S"/><use href="#L"/></g>
<g transform="translate(2755.5)"><use href="#oba" class="k4"/><use href="#oca" class="k5"/><use href="#oda" class="b"/><use href="#oea" class="c"/><use href="#ofb" class="e"/><use href="#ohb" class="k3"/><use href="#oja" class="k1"/><use href="#oka" class="a"/><use href="#olb" class="k5"/><use href="#ibb" class="y"/><use href="#idj" class="x"/><use href="#S"/><use href="#L"/></g>
<g transform="translate(2871.6)"><use href="#oaa" class="k4"/><use href="#obb" class="k2"/><use href="#oda" class="d"/><use href="#oec" class="e"/><use href="#ohb" class="k2"/><use href="#ojb" class="c"/><use href="#ola" class="k3"/><use href="#ial" class="x"/><use href="#S"/><use href="#L"/></g>
<g transform="translate(2987.8)"><use href="#obb" class="k3"/><use href="#oda" class="k2"/><use href="#ofa" class="c"/><use href="#oga" class="e"/><use href="#oha" class="k5"/><use href="#oia" class="k4"/><use href="#ojb" class="k3"/><use href="#olb" class="k4"/><use href="#ial" class="x"/><use href="#S"/><use href="#L"/></g>
<g transform="translate(3103.9)"><use href="#oaa" class="k2"/><use href="#obb" class="k3"/><use href="#odc" class="e"/><use href="#oga" class="a"/><use href="#ohb" class="e"/><use href="#ojb" class="k2"/><use href="#ola" class="k1"/><use href="#ial" class="x"/><use href="#S"/><use href="#L"/></g>
<g transform="translate(3220)"><use href="#obb" class="k3"/><use href="#odb" class="c"/><use href="#ofa" class="a"/><use href="#ogb" class="k2"/><use href="#oia" class="a"/><use href="#oja" class="k3"/><use href="#oka" class="k2"/><use href="#olb" class="k1"/><use href="#ial" class="x"/><use href="#S"/><use href="#L"/></g>
<g transform="translate(3336.1)"><use href="#obb" class="k3"/><use href="#oda" class="c"/><use href="#oec" class="d"/><use href="#ohb" class="a"/><use href="#oja" class="k1"/><use href="#olb" class="k2"/><use href="#ial" class="x"/><use href="#S"/><use href="#L"/></g>
<g transform="translate(3452.2)"><use href="#oba" class="k1"/><use href="#odb" class="e"/><use href="#ofa" class="a"/><use href="#oga" class="k4"/><use href="#ohb" class="e"/><use href="#ojb" class="c"/><use href="#olb" class="e"/><use href="#ial" class="x"/><use href="#S"/><use href="#L"/></g>
<g transform="translate(3568.4)"><use href="#obb" class="k5"/><use href="#oda" class="b"/><use href="#oea" class="a"/><use href="#ofa" class="k2"/><use href="#oga" class="k5"/><use href="#ohb" class="a"/><use href="#ojb" class="k3"/><use href="#olb" class="k2"/><use href="#ial" class="x"/><use href="#S"/><use href="#L"/></g>
</g>
<g transform="translate(0,1417.7)">
<g transform="translate(317)"><use href="#obb" class="k3"/><use href="#oda" class="k5"/><use href="#oea" class="k3"/><use href="#ofb" class="k5"/><use href="#ohf" class="k2"/><use href="#ibb" class="y"/><use href="#idb" class="g"/><use href="#ifb" class="x"/><use href="#ihb" class="g"/><use href="#ija" class="y"/><use href="#ikc" class="g"/><use href="#S"/><use href="#L"/></g>
<g transform="translate(433.1)"><use href="#oaa" class="e"/><use href="#oba" class="b"/><use href="#occ" class="k5"/><use href="#ofa" class="c"/><use href="#ogb" class="k5"/><use href="#oia" class="k3"/><use href="#ojb" class="d"/><use href="#ola" class="k5"/><use href="#idd" class="x"/><use href="#ihb" class="y"/><use href="#ija" class="x"/><use href="#ike" class="y"/><use href="#S"/><use href="#L"/></g>
<g transform="translate(549.2)"><use href="#oaa" class="e"/><use href="#obb" class="k3"/><use href="#oda" class="k5"/><use href="#oea" class="b"/><use href="#ofa" class="c"/><use href="#oga" class="b"/><use href="#oha" class="k1"/><use href="#ojb" class="e"/><use href="#ola" class="k3"/><use href="#idc" class="x"/><use href="#igi" class="y"/><use href="#S"/><use href="#L"/></g>
<g transform="translate(665.4)"><use href="#oba" class="k1"/><use href="#occ" class="k5"/><use href="#ofa" class="d"/><use href="#ogb" class="k5"/><use href="#oia" class="e"/><use href="#oja" class="k2"/><use href="#oka" class="k4"/><use href="#olb" class="k5"/><use href="#iaa" class="y"/><use href="#iba" class="g"/><use href="#ica" class="y"/><use href="#idb" class="g"/><use href="#ifb" class="x"/><use href="#iha" class="g"/><use href="#iic" class="y"/><use href="#ila" class="x"/><use href="#S"/><use href="#L"/></g>
<g transform="translate(781.5)"><use href="#ocb" class="k3"/><use href="#oea" class="k5"/><use href="#ofa" class="k3"/><use href="#ogb" class="k2"/><use href="#oic" class="k3"/><use href="#olc" class="k4"/><use href="#iaa" class="y"/><use href="#ibb" class="g"/><use href="#ida" class="x"/><use href="#ieb" class="y"/><use href="#igb" class="x"/><use href="#iic" class="y"/><use href="#ila" class="x"/><use href="#S"/><use href="#L"/></g>
<g transform="translate(897.6)"><use href="#oaa" class="b"/><use href="#oba" class="k5"/><use href="#oca" class="k3"/><use href="#oda" class="k4"/><use href="#oea" class="k2"/><use href="#ofb" class="d"/><use href="#ohb" class="k5"/><use href="#oja" class="a"/><use href="#oka" class="k3"/><use href="#ola" class="k5"/><use href="#iae" class="g"/><use href="#ifb" class="x"/><use href="#ihc" class="y"/><use href="#ikb" class="x"/><use href="#S"/><use href="#L"/></g>
<g transform="translate(1013.7)"><use href="#oda" class="k3"/><use href="#oea" class="k2"/><use href="#ofb" class="b"/><use href="#oha" class="k5"/><use href="#oic" class="k3"/><use href="#old" class="k4"/><use href="#iac" class="g"/><use href="#ide" class="x"/><use href="#iia" class="y"/><use href="#ija" class="g"/><use href="#ikb" class="x"/><use href="#S"/><use href="#L"/></g>
<g transform="translate(1129.8)"><use href="#oca" class="c"/><use href="#oda" class="k5"/><use href="#oeb" class="k3"/><use href="#oga" class="k2"/><use href="#oha" class="k3"/><use href="#oia" class="c"/><use href="#oja" class="a"/><use href="#oka" class="c"/><use href="#olc" class="b"/><use href="#ibb" class="g"/><use href="#idb" class="x"/><use href="#ifb" class="y"/><use href="#iha" class="x"/><use href="#iic" class="g"/><use href="#ilb" class="x"/><use href="#S"/><use href="#L"/></g>
<g transform="translate(1246)"><use href="#oba" class="b"/><use href="#oca" class="a"/><use href="#odb" class="k5"/><use href="#ofa" class="k1"/><use href="#oga" class="b"/><use href="#oha" class="k4"/><use href="#oia" class="k5"/><use href="#oja" class="c"/><use href="#oka" class="b"/><use href="#olb" class="k4"/><use href="#ibe" class="y"/><use href="#igb" class="x"/><use href="#iib" class="y"/><use href="#ikc" class="x"/><use href="#S"/><use href="#L"/></g>
<g transform="translate(1362.1)"><use href="#oaa" class="a"/><use href="#oba" class="k1"/><use href="#oda" class="k5"/><use href="#oea" class="k3"/><use href="#ofa" class="c"/><use href="#oga" class="e"/><use href="#ohb" class="k5"/><use href="#ola" class="k5"/><use href="#ibb" class="y"/><use href="#ide" class="x"/><use href="#iib" class="y"/><use href="#ikc" class="x"/><use href="#S"/><use href="#L"/></g>
<g transform="translate(1478.2)"><use href="#oba" class="c"/><use href="#oca" class="d"/><use href="#oda" class="a"/><use href="#oea" class="e"/><use href="#ofb" class="k2"/><use href="#oha" class="a"/><use href="#oka" class="d"/><use href="#olb" class="a"/><use href="#ibb" class="g"/><use href="#idb" class="x"/><use href="#ifa" class="g"/><use href="#iga" class="y"/><use href="#ihb" class="x"/><use href="#ijb" class="g"/><use href="#ilb" class="x"/><use href="#S"/><use href="#L"/></g>
<g transform="translate(1594.3)"><use href="#oaa" class="k1"/><use href="#oba" class="b"/><use href="#oca" class="d"/><use href="#odb" class="k4"/><use href="#ofb" class="k5"/><use href="#oha" class="k3"/><use href="#oia" class="c"/><use href="#ojb" class="k2"/><use href="#ola" class="k5"/><use href="#ica" class="g"/><use href="#idg" class="x"/><use href="#ika" class="y"/><use href="#ilc" class="x"/><use href="#S"/><use href="#L"/></g>
<g transform="translate(1710.4)"><use href="#oaa" class="b"/><use href="#oba" class="c"/><use href="#oca" class="e"/><use href="#oda" class="k5"/><use href="#oea" class="k3"/><use href="#ofa" class="k2"/><use href="#oga" class="k5"/><use href="#oha" class="k1"/><use href="#oic" class="b"/><use href="#ola" class="k2"/><use href="#ial" class="x"/><use href="#S"/><use href="#L"/></g>
<g transform="translate(1826.6)"><use href="#dbb" class="g"/><use href="#dda" class="x"/><use href="#dec" class="g"/><use href="#dha" class="x"/><use href="#dic" class="g"/><use href="#dlb" class="x"/><use href="#T"/><use href="#L"/></g>
<g transform="translate(1942.7)"><use href="#oba" class="k3"/><use href="#oca" class="c"/><use href="#oda" class="b"/><use href="#oea" class="k1"/><use href="#ofc" class="k5"/><use href="#oia" class="c"/><use href="#ojd" class="k5"/><use href="#ica" class="g"/><use href="#idg" class="x"/><use href="#ika" class="g"/><use href="#ilc" class="x"/><use href="#S"/><use href="#L"/></g>
<g transform="translate(2058.8)"><use href="#oaa" class="c"/><use href="#oba" class="k1"/><use href="#oca" class="k4"/><use href="#oda" class="b"/><use href="#oea" class="k2"/><use href="#ofa" class="k3"/><use href="#ogb" class="k2"/><use href="#oia" class="b"/><use href="#oja" class="k2"/><use href="#oka" class="k4"/><use href="#ola" class="k1"/><use href="#ibb" class="g"/><use href="#idb" class="x"/><use href="#ifa" class="y"/><use href="#iga" class="g"/><use href="#ihb" class="x"/><use href="#ijb" class="g"/><use href="#ilb" class="x"/><use href="#S"/><use href="#L"/></g>
<g transform="translate(2174.9)"><use href="#oal" class="k5"/><use href="#ibb" class="g"/><use href="#idb" class="x"/><use href="#ifb" class="g"/><use href="#iha" class="x"/><use href="#iic" class="g"/><use href="#ilb" class="x"/><use href="#S"/><use href="#L"/></g>
<g transform="translate(2291)"><use href="#obb" class="k5"/><use href="#oda" class="e"/><use href="#oea" class="k1"/><use href="#ofa" class="d"/><use href="#oga" class="k5"/><use href="#oha" class="k1"/><use href="#oic" class="k5"/><use href="#olb" class="k2"/><use href="#ibb" class="g"/><use href="#idg" class="x"/><use href="#ika" class="g"/><use href="#ilb" class="x"/><use href="#S"/><use href="#L"/></g>
<g transform="translate(2407.2)"><use href="#oae" class="k5"/><use href="#ofb" class="k3"/><use href="#ohd" class="k5"/><use href="#ola" class="k4"/><use href="#ibb" class="g"/><use href="#idb" class="x"/><use href="#ifb" class="g"/><use href="#iha" class="x"/><use href="#iic" class="g"/><use href="#ilb" class="x"/><use href="#S"/><use href="#L"/></g>
<g transform="translate(2523.3)"><use href="#oal" class="k5"/><use href="#iea" class="y"/><use href="#ifa" class="g"/><use href="#iga" class="x"/><use href="#ihi" class="g"/><use href="#S"/><use href="#L"/></g>
<g transform="translate(2639.4)"><use href="#oal" class="k5"/><use href="#iac" class="g"/><use href="#ida" class="x"/><use href="#ieb" class="y"/><use href="#igc" class="x"/><use href="#ijb" class="y"/><use href="#ila" class="x"/><use href="#S"/><use href="#L"/></g>
<g transform="translate(2755.5)"><use href="#oae" class="k3"/><use href="#ofa" class="k1"/><use href="#ohb" class="k3"/><use href="#ola" class="k2"/><use href="#iac" class="g"/><use href="#ide" class="y"/><use href="#iia" class="g"/><use href="#ijb" class="y"/><use href="#ila" class="x"/><use href="#S"/><use href="#L"/></g>
<g transform="translate(2871.6)"><use href="#oac" class="k4"/><use href="#odb" class="k3"/><use href="#ofb" class="k2"/><use href="#ohe" class="k3"/><use href="#iaa" class="g"/><use href="#ibk" class="y"/><use href="#S"/><use href="#L"/></g>
<g transform="translate(2987.8)"><use href="#oad" class="k5"/><use href="#oea" class="k4"/><use href="#off" class="k3"/><use href="#ola" class="k4"/><use href="#iba" class="y"/><use href="#ica" class="g"/><use href="#idh" class="y"/><use href="#ilb" class="g"/><use href="#S"/><use href="#L"/></g>
<g transform="translate(3103.9)"><use href="#oaa" class="k3"/><use href="#oba" class="k2"/><use href="#oca" class="k3"/><use href="#odb" class="k2"/><use href="#ofb" class="k3"/><use href="#ohe" class="k2"/><use href="#ibb" class="g"/><use href="#idf" class="x"/><use href="#ijb" class="g"/><use href="#ilb" class="x"/><use href="#S"/><use href="#L"/></g>
<g transform="translate(3220)"><use href="#oaa" class="k1"/><use href="#ocb" class="k1"/><use href="#oea" class="k2"/><use href="#ofb" class="k3"/><use href="#oha" class="k2"/><use href="#oia" class="k5"/><use href="#ojb" class="k1"/><use href="#ial" class="x"/><use href="#S"/><use href="#L"/></g>
<g transform="translate(3336.1)"><use href="#oaa" class="k3"/><use href="#oba" class="k2"/><use href="#oca" class="k4"/><use href="#oda" class="k3"/><use href="#oea" class="k5"/><use href="#ofc" class="k3"/><use href="#oia" class="k5"/><use href="#oja" class="k3"/><use href="#okb" class="k2"/><use href="#iac" class="y"/><use href="#ide" class="x"/><use href="#iia" class="g"/><use href="#ija" class="y"/><use href="#ikb" class="x"/><use href="#S"/><use href="#L"/></g>
<g transform="translate(3452.2)"><use href="#oaa" class="a"/><use href="#oba" class="k1"/><use href="#oca" class="k2"/><use href="#odb" class="b"/><use href="#ofb" class="k1"/><use href="#oia" class="a"/><use href="#ojb" class="k1"/><use href="#ibb" class="g"/><use href="#idg" class="x"/><use href="#ika" class="g"/><use href="#ilb" class="x"/><use href="#S"/><use href="#L"/></g>
<g transform="translate(3568.4)"><use href="#oaa" class="k5"/><use href="#obd" class="k2"/><use href="#ofa" class="k5"/><use href="#oga" class="k1"/><use href="#oha" class="e"/><use href="#oia" class="k5"/><use href="#ojb" class="k2"/><use href="#ola" class="k1"/><use href="#ial" class="x"/><use href="#S"/><use href="#L"/></g>
</g>
<g transform="translate(0,1541.6)">
<g transform="translate(317)"><use href="#oga" class="k4"/><use href="#ohk" class="k5"/><use href="#ide" class="x"/><use href="#iig" class="g"/><use href="#S"/><use href="#L"/></g>
<g transform="translate(433.1)"><use href="#oal" class="k5"/><use href="#ica" class="g"/><use href="#idk" class="x"/><use href="#S"/><use href="#L"/></g>
<g transform="translate(549.2)"><use href="#oca" class="k3"/><use href="#ode" class="k5"/><use href="#oia" class="k3"/><use href="#ojb" class="k4"/><use href="#olc" class="k5"/><use href="#ial" class="x"/><use href="#S"/><use href="#L"/></g>
<g transform="translate(665.4)"><use href="#oal" class="k5"/><use href="#iac" class="g"/><use href="#idi" class="x"/><use href="#S"/><use href="#L"/></g>
<g transform="translate(781.5)"><use href="#oda" class="k2"/><use href="#oea" class="k3"/><use href="#ofa" class="k1"/><use href="#ohd" class="k3"/><use href="#old" class="k5"/><use href="#iac" class="g"/><use href="#ida" class="x"/><use href="#iea" class="y"/><use href="#ifc" class="x"/><use href="#iic" class="y"/><use href="#ila" class="x"/><use href="#S"/><use href="#L"/></g>
<g transform="translate(897.6)"><use href="#odb" class="k3"/><use href="#oga" class="b"/><use href="#ohd" class="k4"/><use href="#old" class="k5"/><use href="#iac" class="g"/><use href="#idi" class="x"/><use href="#S"/><use href="#L"/></g>
<g transform="translate(1013.7)"><use href="#oda" class="k3"/><use href="#oea" class="k4"/><use href="#ofa" class="a"/><use href="#oga" class="b"/><use href="#ohd" class="k4"/><use href="#old" class="k5"/><use href="#iac" class="g"/><use href="#ida" class="x"/><use href="#iea" class="y"/><use href="#ifc" class="x"/><use href="#iia" class="y"/><use href="#ijc" class="x"/><use href="#S"/><use href="#L"/></g>
<g transform="translate(1129.8)"><use href="#oba" class="k1"/><use href="#oda" class="a"/><use href="#oec" class="b"/><use href="#oia" class="k1"/><use href="#oja" class="a"/><use href="#oka" class="d"/><use href="#olb" class="k3"/><use href="#ibb" class="g"/><use href="#idf" class="x"/><use href="#ija" class="g"/><use href="#ika" class="y"/><use href="#ilb" class="x"/><use href="#S"/><use href="#L"/></g>
<g transform="translate(1246)"><use href="#obb" class="k2"/><use href="#oda" class="k1"/><use href="#ofb" class="e"/><use href="#ohb" class="k2"/><use href="#ojb" class="a"/><use href="#olb" class="k3"/><use href="#ibb" class="y"/><use href="#idj" class="x"/><use href="#S"/><use href="#L"/></g>
<g transform="translate(1362.1)"><use href="#obb" class="k2"/><use href="#oda" class="k1"/><use href="#oea" class="k2"/><use href="#ofb" class="e"/><use href="#ohb" class="k2"/><use href="#oja" class="k1"/><use href="#oka" class="k2"/><use href="#olb" class="k3"/><use href="#ibb" class="y"/><use href="#idj" class="x"/><use href="#S"/><use href="#L"/></g>
<g transform="translate(1478.2)"><use href="#oaa" class="k4"/><use href="#obb" class="k3"/><use href="#oda" class="e"/><use href="#oea" class="k1"/><use href="#ofa" class="c"/><use href="#oga" class="d"/><use href="#oia" class="k1"/><use href="#ojb" class="b"/><use href="#ola" class="k3"/><use href="#ica" class="g"/><use href="#idg" class="x"/><use href="#ika" class="y"/><use href="#ilc" class="x"/><use href="#S"/><use href="#L"/></g>
<g transform="translate(1594.3)"><use href="#oba" class="a"/><use href="#oca" class="b"/><use href="#oda" class="k1"/><use href="#oeb" class="k2"/><use href="#oga" class="k3"/><use href="#oha" class="k1"/><use href="#oia" class="a"/><use href="#oja" class="k1"/><use href="#oka" class="b"/><use href="#ola" class="a"/><use href="#ica" class="g"/><use href="#idg" class="x"/><use href="#ika" class="y"/><use href="#ilc" class="x"/><use href="#S"/><use href="#L"/></g>
<g transform="translate(1710.4)"><use href="#oab" class="c"/><use href="#oca" class="e"/><use href="#oda" class="a"/><use href="#oeb" class="k1"/><use href="#oga" class="k3"/><use href="#oha" class="a"/><use href="#oic" class="b"/><use href="#ola" class="a"/><use href="#ial" class="x"/><use href="#S"/><use href="#L"/></g>
<g transform="translate(1826.6)"><use href="#oba" class="k1"/><use href="#ocb" class="k5"/><use href="#oed" class="e"/><use href="#oia" class="k1"/><use href="#oja" class="e"/><use href="#oka" class="d"/><use href="#olb" class="c"/><use href="#ibb" class="g"/><use href="#idc" class="x"/><use href="#iga" class="y"/><use href="#ihb" class="x"/><use href="#ijb" class="g"/><use href="#ilb" class="x"/><use href="#S"/><use href="#L"/></g>
<g transform="translate(1942.7)"><use href="#dca" class="y"/><use href="#ddk" class="x"/><use href="#T"/><use href="#L"/></g>
<g transform="translate(2058.8)"><use href="#oba" class="k1"/><use href="#oca" class="k3"/><use href="#odc" class="c"/><use href="#oga" class="e"/><use href="#oha" class="b"/><use href="#oia" class="k1"/><use href="#oja" class="c"/><use href="#oka" class="d"/><use href="#ola" class="k5"/><use href="#ica" class="y"/><use href="#idg" class="x"/><use href="#ika" class="g"/><use href="#ilc" class="x"/><use href="#S"/><use href="#L"/></g>
<g transform="translate(2174.9)"><use href="#oaa" class="k3"/><use href="#oba" class="k2"/><use href="#och" class="k3"/><use href="#okb" class="k2"/><use href="#ica" class="y"/><use href="#idg" class="x"/><use href="#ika" class="y"/><use href="#ilc" class="x"/><use href="#S"/><use href="#L"/></g>
<g transform="translate(2291)"><use href="#oic" class="k1"/><use href="#oli" class="k2"/><use href="#ial" class="x"/><use href="#S"/><use href="#L"/></g>
<g transform="translate(2407.2)"><use href="#obb" class="k3"/><use href="#odb" class="a"/><use href="#ofb" class="c"/><use href="#ohb" class="k3"/><use href="#ojb" class="a"/><use href="#olb" class="k5"/><use href="#ica" class="g"/><use href="#idg" class="x"/><use href="#ika" class="y"/><use href="#ilc" class="x"/><use href="#S"/><use href="#L"/></g>
<g transform="translate(2523.3)"><use href="#oca" class="k3"/><use href="#odb" class="k2"/><use href="#ofa" class="k1"/><use href="#ohd" class="k3"/><use href="#olc" class="k4"/><use href="#iba" class="g"/><use href="#ick" class="x"/><use href="#S"/><use href="#L"/></g>
<g transform="translate(2639.4)"><use href="#obj" class="k2"/><use href="#olb" class="k3"/><use href="#iba" class="y"/><use href="#ick" class="x"/><use href="#S"/><use href="#L"/></g>
<g transform="translate(2755.5)"><use href="#oba" class="k1"/><use href="#oca" class="k2"/><use href="#oda" class="c"/><use href="#oea" class="d"/><use href="#ofb" class="e"/><use href="#ohb" class="k1"/><use href="#oja" class="c"/><use href="#oka" class="d"/><use href="#olb" class="k4"/><use href="#ika" class="g"/><use href="#ilk" class="x"/><use href="#S"/><use href="#L"/></g>
<g transform="translate(2871.6)"><use href="#oac" class="k2"/><use href="#odd" class="e"/><use href="#ohb" class="b"/><use href="#oja" class="d"/><use href="#oka" class="e"/><use href="#ola" class="k3"/><use href="#ial" class="x"/><use href="#S"/><use href="#L"/></g>
<g transform="translate(2987.8)"><use href="#oda" class="b"/><use href="#oea" class="c"/><use href="#ofb" class="e"/><use href="#oha" class="k2"/><use href="#oja" class="a"/><use href="#old" class="k2"/><use href="#ial" class="x"/><use href="#S"/><use href="#L"/></g>
<g transform="translate(3103.9)"><use href="#oaa" class="b"/><use href="#oba" class="c"/><use href="#oca" class="b"/><use href="#odg" class="e"/><use href="#oka" class="d"/><use href="#ola" class="c"/><use href="#ial" class="x"/><use href="#S"/><use href="#L"/></g>
<g transform="translate(3220)"><use href="#oaa" class="b"/><use href="#oda" class="c"/><use href="#oea" class="d"/><use href="#ofb" class="c"/><use href="#oha" class="b"/><use href="#oia" class="d"/><use href="#oja" class="c"/><use href="#oka" class="e"/><use href="#ola" class="a"/><use href="#ial" class="x"/><use href="#S"/><use href="#L"/></g>
<g transform="translate(3336.1)"><use href="#oab" class="a"/><use href="#oda" class="c"/><use href="#oea" class="d"/><use href="#ofb" class="e"/><use href="#oha" class="a"/><use href="#oia" class="c"/><use href="#oja" class="d"/><use href="#oka" class="e"/><use href="#ial" class="x"/><use href="#S"/><use href="#L"/></g>
<g transform="translate(3452.2)"><use href="#obb" class="b"/><use href="#oda" class="c"/><use href="#oea" class="b"/><use href="#ofa" class="k2"/><use href="#oga" class="k4"/><use href="#oha" class="b"/><use href="#oia" class="d"/><use href="#ojb" class="a"/><use href="#olb" class="e"/><use href="#ica" class="g"/><use href="#idk" class="x"/><use href="#S"/><use href="#L"/></g>
<g transform="translate(3568.4)"><use href="#oba" class="k4"/><use href="#oca" class="k3"/><use href="#oda" class="k1"/><use href="#oea" class="k2"/><use href="#ofa" class="k3"/><use href="#oga" class="k5"/><use href="#oha" class="k3"/><use href="#oia" class="k2"/><use href="#ojb" class="k3"/><use href="#ola" class="k2"/><use href="#ial" class="x"/><use href="#S"/><use href="#L"/></g>
</g>
<g transform="translate(0,1665.6)">
<g transform="translate(317)"><use href="#oea" class="k4"/><use href="#ofk" class="k5"/><use href="#iac" class="g"/><use href="#idd" class="x"/><use href="#iha" class="g"/><use href="#iid" class="y"/><use href="#S"/><use href="#L"/></g>
<g transform="translate(433.1)"><use href="#oda" class="d"/><use href="#oec" class="k4"/><use href="#ohh" class="k5"/><use href="#idd" class="x"/><use href="#iha" class="g"/><use href="#iia" class="y"/><use href="#ijf" class="g"/><use href="#S"/><use href="#L"/></g>
<g transform="translate(549.2)"><use href="#oaa" class="k3"/><use href="#oba" class="k4"/><use href="#oca" class="k3"/><use href="#odb" class="k2"/><use href="#ofb" class="k3"/><use href="#ohb" class="d"/><use href="#ojb" class="k5"/><use href="#ola" class="b"/><use href="#iab" class="y"/><use href="#icg" class="x"/><use href="#ija" class="y"/><use href="#ikb" class="x"/><use href="#S"/><use href="#L"/></g>
<g transform="translate(665.4)"><use href="#oga" class="k3"/><use href="#ohk" class="k5"/><use href="#iac" class="g"/><use href="#idd" class="x"/><use href="#iha" class="g"/><use href="#iia" class="y"/><use href="#ija" class="g"/><use href="#ikb" class="x"/><use href="#S"/><use href="#L"/></g>
<g transform="translate(781.5)"><use href="#oba" class="k5"/><use href="#oca" class="k2"/><use href="#odb" class="k5"/><use href="#oga" class="a"/><use href="#ohb" class="k3"/><use href="#oja" class="k4"/><use href="#okc" class="k3"/><use href="#iab" class="g"/><use href="#icb" class="x"/><use href="#iea" class="y"/><use href="#ifc" class="x"/><use href="#iia" class="y"/><use href="#ija" class="g"/><use href="#ika" class="y"/><use href="#ila" class="x"/><use href="#S"/><use href="#L"/></g>
<g transform="translate(897.6)"><use href="#ofa" class="c"/><use href="#oga" class="b"/><use href="#ohb" class="k5"/><use href="#ojb" class="k4"/><use href="#olf" class="k5"/><use href="#iab" class="g"/><use href="#icc" class="y"/><use href="#ifc" class="x"/><use href="#iib" class="g"/><use href="#ikb" class="x"/><use href="#S"/><use href="#L"/></g>
<g transform="translate(1013.7)"><use href="#oae" class="k5"/><use href="#ofb" class="c"/><use href="#ohc" class="k3"/><use href="#okb" class="k2"/><use href="#iac" class="g"/><use href="#ida" class="x"/><use href="#iea" class="y"/><use href="#ifc" class="x"/><use href="#iib" class="y"/><use href="#ikb" class="x"/><use href="#S"/><use href="#L"/></g>
<g transform="translate(1129.8)"><use href="#oaa" class="d"/><use href="#oba" class="b"/><use href="#oca" class="c"/><use href="#odc" class="k5"/><use href="#oga" class="k3"/><use href="#oha" class="k4"/><use href="#oia" class="k2"/><use href="#oja" class="k3"/><use href="#okb" class="k1"/><use href="#ibb" class="g"/><use href="#ida" class="x"/><use href="#iea" class="g"/><use href="#ifb" class="y"/><use href="#ihb" class="x"/><use href="#ija" class="g"/><use href="#ika" class="y"/><use href="#ilb" class="x"/><use href="#S"/><use href="#L"/></g>
<g transform="translate(1246)"><use href="#oca" class="k4"/><use href="#oda" class="k2"/><use href="#oea" class="k5"/><use href="#ofa" class="b"/><use href="#oga" class="k1"/><use href="#ohc" class="k5"/><use href="#oka" class="b"/><use href="#olc" class="k5"/><use href="#iba" class="g"/><use href="#ica" class="y"/><use href="#ida" class="x"/><use href="#iea" class="g"/><use href="#ifc" class="x"/><use href="#iib" class="y"/><use href="#ikc" class="x"/><use href="#S"/><use href="#L"/></g>
<g transform="translate(1362.1)"><use href="#oaa" class="k4"/><use href="#oba" class="k1"/><use href="#oda" class="k5"/><use href="#oea" class="k3"/><use href="#ofa" class="c"/><use href="#oga" class="d"/><use href="#oia" class="k4"/><use href="#ojb" class="a"/><use href="#ola" class="k5"/><use href="#ibb" class="y"/><use href="#idf" class="x"/><use href="#ija" class="y"/><use href="#ikc" class="x"/><use href="#S"/><use href="#L"/></g>
<g transform="translate(1478.2)"><use href="#oaa" class="d"/><use href="#oba" class="a"/><use href="#oca" class="b"/><use href="#odb" class="e"/><use href="#oga" class="k3"/><use href="#oha" class="e"/><use href="#oia" class="d"/><use href="#oja" class="a"/><use href="#oka" class="b"/><use href="#ola" class="e"/><use href="#ica" class="g"/><use href="#idc" class="x"/><use href="#iga" class="y"/><use href="#ihc" class="x"/><use href="#ika" class="g"/><use href="#ilc" class="x"/><use href="#S"/><use href="#L"/></g>
<g transform="translate(1594.3)"><use href="#oba" class="k5"/><use href="#oca" class="a"/><use href="#oda" class="k3"/><use href="#oed" class="k5"/><use href="#oia" class="k3"/><use href="#oja" class="k5"/><use href="#oka" class="k4"/><use href="#olb" class="k3"/><use href="#ica" class="y"/><use href="#idg" class="x"/><use href="#ika" class="g"/><use href="#ilc" class="x"/><use href="#S"/><use href="#L"/></g>
<g transform="translate(1710.4)"><use href="#oaa" class="k1"/><use href="#obb" class="k2"/><use href="#odb" class="k5"/><use href="#ofa" class="k4"/><use href="#oga" class="k5"/><use href="#oha" class="k2"/><use href="#oib" class="k3"/><use href="#oka" class="k2"/><use href="#ola" class="a"/><use href="#ial" class="x"/><use href="#S"/><use href="#L"/></g>
<g transform="translate(1826.6)"><use href="#obb" class="d"/><use href="#oda" class="k1"/><use href="#oea" class="a"/><use href="#ofb" class="c"/><use href="#oha" class="b"/><use href="#oia" class="c"/><use href="#oja" class="d"/><use href="#oka" class="e"/><use href="#olb" class="a"/><use href="#ibb" class="g"/><use href="#idb" class="x"/><use href="#ifb" class="g"/><use href="#ihb" class="x"/><use href="#ijb" class="g"/><use href="#ilb" class="x"/><use href="#S"/><use href="#L"/></g>
<g transform="translate(1942.7)"><use href="#oaa" class="a"/><use href="#oba" class="d"/><use href="#oca" class="c"/><use href="#oda" class="a"/><use href="#oea" class="b"/><use href="#ofb" class="k5"/><use href="#oha" class="k1"/><use href="#oia" class="d"/><use href="#oja" class="k2"/><use href="#oka" class="k4"/><use href="#ola" class="k2"/><use href="#ica" class="g"/><use href="#idg" class="x"/><use href="#ika" class="y"/><use href="#ilc" class="x"/><use href="#S"/><use href="#L"/></g>
<g transform="translate(2058.8)"><use href="#dbb" class="g"/><use href="#ddb" class="x"/><use href="#dfb" class="g"/><use href="#dhb" class="x"/><use href="#djb" class="g"/><use href="#dlb" class="x"/><use href="#T"/><use href="#L"/></g>
<g transform="translate(2174.9)"><use href="#oaa" class="k3"/><use href="#obb" class="k5"/><use href="#oda" class="b"/><use href="#oeb" class="k5"/><use href="#oga" class="k2"/><use href="#ohd" class="k5"/><use href="#ola" class="e"/><use href="#ibb" class="g"/><use href="#idf" class="x"/><use href="#ijb" class="g"/><use href="#ilb" class="x"/><use href="#S"/><use href="#L"/></g>
<g transform="translate(2291)"><use href="#oaa" class="k3"/><use href="#obb" class="k4"/><use href="#oda" class="c"/><use href="#oea" class="b"/><use href="#oga" class="k2"/><use href="#oha" class="b"/><use href="#oia" class="a"/><use href="#oja" class="k3"/><use href="#oka" class="k4"/><use href="#ola" class="b"/><use href="#ica" class="g"/><use href="#idg" class="x"/><use href="#ika" class="g"/><use href="#ilc" class="x"/><use href="#S"/><use href="#L"/></g>
<g transform="translate(2407.2)"><use href="#odb" class="k3"/><use href="#ofa" class="k2"/><use href="#oga" class="k1"/><use href="#ohh" class="k5"/><use href="#ibb" class="g"/><use href="#idb" class="x"/><use href="#ifa" class="y"/><use href="#igb" class="x"/><use href="#iia" class="g"/><use href="#ija" class="y"/><use href="#ika" class="g"/><use href="#ilb" class="x"/><use href="#S"/><use href="#L"/></g>
<g transform="translate(2523.3)"><use href="#oal" class="k5"/><use href="#iac" class="g"/><use href="#ida" class="x"/><use href="#ieb" class="y"/><use href="#igb" class="x"/><use href="#iia" class="g"/><use href="#ijb" class="y"/><use href="#ila" class="x"/><use href="#S"/><use href="#L"/></g>
<g transform="translate(2639.4)"><use href="#oda" class="d"/><use href="#oea" class="k3"/><use href="#oga" class="k5"/><use href="#oig" class="k5"/><use href="#iba" class="y"/><use href="#ica" class="g"/><use href="#ide" class="x"/><use href="#iic" class="y"/><use href="#ilb" class="x"/><use href="#S"/><use href="#L"/></g>
<g transform="translate(2755.5)"><use href="#odb" class="k1"/><use href="#oga" class="a"/><use href="#ohb" class="k2"/><use href="#old" class="k2"/><use href="#ibb" class="g"/><use href="#idb" class="x"/><use href="#ifa" class="y"/><use href="#igb" class="x"/><use href="#iic" class="y"/><use href="#ilb" class="x"/><use href="#S"/><use href="#L"/></g>
<g transform="translate(2871.6)"><use href="#oac" class="k4"/><use href="#oea" class="k2"/><use href="#oha" class="k2"/><use href="#oid" class="k3"/><use href="#iac" class="g"/><use href="#ida" class="x"/><use href="#ieb" class="y"/><use href="#igb" class="x"/><use href="#iia" class="g"/><use href="#ijb" class="y"/><use href="#ila" class="x"/><use href="#S"/><use href="#L"/></g>
<g transform="translate(2987.8)"><use href="#oab" class="k4"/><use href="#oca" class="k5"/><use href="#oda" class="k4"/><use href="#oee" class="k3"/><use href="#ojb" class="k4"/><use href="#ola" class="k5"/><use href="#iac" class="g"/><use href="#ida" class="x"/><use href="#iea" class="y"/><use href="#ifc" class="x"/><use href="#iic" class="y"/><use href="#ila" class="x"/><use href="#S"/><use href="#L"/></g>
<g transform="translate(3103.9)"><use href="#oca" class="a"/><use href="#oda" class="b"/><use href="#oea" class="c"/><use href="#ofe" class="a"/><use href="#oka" class="b"/><use href="#ica" class="g"/><use href="#idg" class="x"/><use href="#ika" class="g"/><use href="#ilc" class="x"/><use href="#S"/><use href="#L"/></g>
<g transform="translate(3220)"><use href="#oca" class="k1"/><use href="#oea" class="a"/><use href="#ofb" class="k1"/><use href="#oha" class="k5"/><use href="#oia" class="b"/><use href="#oja" class="k5"/><use href="#oka" class="e"/><use href="#ial" class="x"/><use href="#S"/><use href="#L"/></g>
<g transform="translate(3336.1)"><use href="#oaa" class="k2"/><use href="#oba" class="k1"/><use href="#oca" class="k3"/><use href="#odc" class="k2"/><use href="#oga" class="k1"/><use href="#oha" class="k5"/><use href="#oid" class="k1"/><use href="#ica" class="g"/><use href="#idk" class="x"/><use href="#S"/><use href="#L"/></g>
<g transform="translate(3452.2)"><use href="#oca" class="k1"/><use href="#oda" class="b"/><use href="#oeb" class="k3"/><use href="#oha" class="a"/><use href="#oia" class="b"/><use href="#oje" class="a"/><use href="#ibb" class="g"/><use href="#idj" class="x"/><use href="#S"/><use href="#L"/></g>
<g transform="translate(3568.4)"><use href="#oba" class="k1"/><use href="#oea" class="a"/><use href="#ofa" class="b"/><use href="#oga" class="c"/><use href="#oha" class="k5"/><use href="#oka" class="a"/><use href="#ial" class="x"/><use href="#S"/><use href="#L"/></g>
</g>
<g transform="translate(0,1789.6)">
<g transform="translate(317)"><use href="#oda" class="k3"/><use href="#oec" class="k2"/><use href="#oha" class="k3"/><use href="#oia" class="k1"/><use href="#oja" class="k4"/><use href="#oka" class="k3"/><use href="#old" class="k5"/><use href="#idb" class="y"/><use href="#ifb" class="x"/><use href="#ihh" class="g"/><use href="#S"/><use href="#L"/></g>
<g transform="translate(433.1)"><use href="#odd" class="k4"/><use href="#ohh" class="k5"/><use href="#ida" class="x"/><use href="#iea" class="y"/><use href="#ifb" class="x"/><use href="#iha" class="g"/><use href="#iic" class="y"/><use href="#ild" class="g"/><use href="#S"/><use href="#L"/></g>
<g transform="translate(549.2)"><use href="#oaa" class="k1"/><use href="#oba" class="k4"/><use href="#oca" class="k1"/><use href="#oda" class="k4"/><use href="#oea" class="k3"/><use href="#ofb" class="k4"/><use href="#oia" class="a"/><use href="#oja" class="k4"/><use href="#oka" class="k3"/><use href="#ola" class="k4"/><use href="#idd" class="x"/><use href="#ihc" class="y"/><use href="#ika" class="x"/><use href="#ild" class="y"/><use href="#S"/><use href="#L"/></g>
<g transform="translate(665.4)"><use href="#ofa" class="k4"/><use href="#oga" class="k3"/><use href="#ohj" class="k5"/><use href="#iea" class="y"/><use href="#ifb" class="x"/><use href="#ihi" class="g"/><use href="#S"/><use href="#L"/></g>
<g transform="translate(781.5)"><use href="#oaa" class="a"/><use href="#oca" class="b"/><use href="#odb" class="k1"/><use href="#ofb" class="c"/><use href="#ohb" class="b"/><use href="#ojb" class="a"/><use href="#ida" class="x"/><use href="#iea" class="y"/><use href="#ifc" class="x"/><use href="#iia" class="g"/><use href="#ijf" class="y"/><use href="#S"/><use href="#L"/></g>
<g transform="translate(897.6)"><use href="#oaa" class="k1"/><use href="#oba" class="k2"/><use href="#oca" class="k1"/><use href="#oda" class="a"/><use href="#oea" class="b"/><use href="#ofb" class="e"/><use href="#oha" class="k1"/><use href="#ojb" class="c"/><use href="#ola" class="k2"/><use href="#igb" class="x"/><use href="#iib" class="y"/><use href="#ika" class="x"/><use href="#ilg" class="y"/><use href="#S"/><use href="#L"/></g>
<g transform="translate(1013.7)"><use href="#obc" class="k2"/><use href="#ofb" class="e"/><use href="#oha" class="k1"/><use href="#oia" class="k2"/><use href="#ojb" class="b"/><use href="#olb" class="k1"/><use href="#iac" class="y"/><use href="#idi" class="x"/><use href="#S"/><use href="#L"/></g>
<g transform="translate(1129.8)"><use href="#oab" class="d"/><use href="#oca" class="e"/><use href="#oda" class="a"/><use href="#ofa" class="a"/><use href="#oga" class="k1"/><use href="#ohb" class="c"/><use href="#oja" class="a"/><use href="#oka" class="c"/><use href="#ola" class="b"/><use href="#ibb" class="g"/><use href="#ida" class="x"/><use href="#iec" class="y"/><use href="#iha" class="x"/><use href="#iic" class="g"/><use href="#ilb" class="x"/><use href="#S"/><use href="#L"/></g>
<g transform="translate(1246)"><use href="#oba" class="a"/><use href="#oca" class="k1"/><use href="#odb" class="k3"/><use href="#ofb" class="c"/><use href="#ohb" class="k3"/><use href="#ojb" class="b"/><use href="#olb" class="k3"/><use href="#ibd" class="y"/><use href="#ifb" class="x"/><use href="#ihd" class="y"/><use href="#ilb" class="x"/><use href="#S"/><use href="#L"/></g>
<g transform="translate(1362.1)"><use href="#oba" class="a"/><use href="#odb" class="k3"/><use href="#ofa" class="c"/><use href="#oga" class="d"/><use href="#ohb" class="k3"/><use href="#ojb" class="b"/><use href="#olb" class="k3"/><use href="#ibb" class="y"/><use href="#ida" class="x"/><use href="#iea" class="y"/><use href="#ifc" class="x"/><use href="#iic" class="y"/><use href="#ilb" class="x"/><use href="#S"/><use href="#L"/></g>
<g transform="translate(1478.2)"><use href="#ofa" class="c"/><use href="#oga" class="b"/><use href="#ohj" class="e"/><use href="#ibb" class="y"/><use href="#idc" class="x"/><use href="#iga" class="g"/><use href="#ihb" class="x"/><use href="#ijb" class="y"/><use href="#ilb" class="x"/><use href="#S"/><use href="#L"/></g>
<g transform="translate(1594.3)"><use href="#oca" class="k1"/><use href="#oda" class="k4"/><use href="#oec" class="k5"/><use href="#ohb" class="k4"/><use href="#oje" class="k3"/><use href="#ibb" class="y"/><use href="#idf" class="x"/><use href="#ijb" class="y"/><use href="#ilb" class="x"/><use href="#S"/><use href="#L"/></g>
<g transform="translate(1710.4)"><use href="#oaa" class="k1"/><use href="#oba" class="k2"/><use href="#oca" class="a"/><use href="#oda" class="k4"/><use href="#oec" class="k5"/><use href="#ohe" class="k3"/><use href="#ica" class="g"/><use href="#idk" class="x"/><use href="#S"/><use href="#L"/></g>
<g transform="translate(1826.6)"><use href="#oal" class="e"/><use href="#ibb" class="g"/><use href="#ida" class="x"/><use href="#iea" class="g"/><use href="#ifa" class="y"/><use href="#iga" class="g"/><use href="#ihb" class="x"/><use href="#ijb" class="g"/><use href="#ilb" class="x"/><use href="#S"/><use href="#L"/></g>
<g transform="translate(1942.7)"><use href="#oba" class="a"/><use href="#ocb" class="c"/><use href="#oea" class="b"/><use href="#ofa" class="a"/><use href="#oga" class="k1"/><use href="#ohe" class="k2"/><use href="#ica" class="g"/><use href="#idk" class="x"/><use href="#S"/><use href="#L"/></g>
<g transform="translate(2058.8)"><use href="#oaa" class="d"/><use href="#obk" class="e"/><use href="#ibb" class="g"/><use href="#idc" class="x"/><use href="#iga" class="y"/><use href="#ihb" class="x"/><use href="#ijb" class="g"/><use href="#ilb" class="x"/><use href="#S"/><use href="#L"/></g>
<g transform="translate(2174.9)"><use href="#dca" class="y"/><use href="#ddg" class="x"/><use href="#dka" class="g"/><use href="#dlc" class="x"/><use href="#T"/><use href="#L"/></g>
<g transform="translate(2291)"><use href="#oba" class="b"/><use href="#oca" class="a"/><use href="#odd" class="c"/><use href="#ohb" class="b"/><use href="#oja" class="c"/><use href="#oka" class="b"/><use href="#ial" class="x"/><use href="#S"/><use href="#L"/></g>
<g transform="translate(2407.2)"><use href="#oaa" class="k3"/><use href="#oba" class="a"/><use href="#oca" class="b"/><use href="#oda" class="d"/><use href="#oea" class="c"/><use href="#ofb" class="d"/><use href="#ohd" class="b"/><use href="#ola" class="k2"/><use href="#ibb" class="g"/><use href="#idf" class="x"/><use href="#ijb" class="g"/><use href="#ilb" class="x"/><use href="#S"/><use href="#L"/></g>
<g transform="translate(2523.3)"><use href="#oca" class="k2"/><use href="#oda" class="b"/><use href="#oea" class="a"/><use href="#ofb" class="b"/><use href="#oha" class="k2"/><use href="#oia" class="k3"/><use href="#ojb" class="k2"/><use href="#olc" class="k3"/><use href="#iac" class="g"/><use href="#ida" class="x"/><use href="#iea" class="g"/><use href="#ifc" class="x"/><use href="#iib" class="g"/><use href="#ika" class="y"/><use href="#ila" class="x"/><use href="#S"/><use href="#L"/></g>
<g transform="translate(2639.4)"><use href="#oda" class="b"/><use href="#oed" class="a"/><use href="#oje" class="k1"/><use href="#ibb" class="g"/><use href="#idg" class="x"/><use href="#ika" class="y"/><use href="#ilb" class="x"/><use href="#S"/><use href="#L"/></g>
<g transform="translate(2755.5)"><use href="#oba" class="b"/><use href="#oca" class="a"/><use href="#odd" class="e"/><use href="#ohb" class="c"/><use href="#oja" class="d"/><use href="#oka" class="e"/><use href="#olb" class="k1"/><use href="#ibb" class="g"/><use href="#ida" class="x"/><use href="#ieb" class="y"/><use href="#igc" class="x"/><use href="#ijb" class="y"/><use href="#ilb" class="x"/><use href="#S"/><use href="#L"/></g>
<g transform="translate(2871.6)"><use href="#oca" class="k1"/><use href="#odd" class="e"/><use href="#ohb" class="c"/><use href="#ojb" class="d"/><use href="#olb" class="k1"/><use href="#iea" class="y"/><use href="#ifk" class="x"/><use href="#S"/><use href="#L"/></g>
<g transform="translate(2987.8)"><use href="#oba" class="a"/><use href="#oca" class="k1"/><use href="#odd" class="d"/><use href="#ohd" class="c"/><use href="#ola" class="b"/><use href="#iac" class="g"/><use href="#ide" class="x"/><use href="#iia" class="g"/><use href="#ija" class="y"/><use href="#ikb" class="x"/><use href="#S"/><use href="#L"/></g>
<g transform="translate(3103.9)"><use href="#oba" class="d"/><use href="#ocd" class="e"/><use href="#oga" class="d"/><use href="#ohd" class="e"/><use href="#olb" class="c"/><use href="#ibb" class="g"/><use href="#idg" class="x"/><use href="#ika" class="g"/><use href="#ilb" class="x"/><use href="#S"/><use href="#L"/></g>
<g transform="translate(3220)"><use href="#oab" class="d"/><use href="#oca" class="e"/><use href="#oda" class="a"/><use href="#oeb" class="b"/><use href="#oga" class="a"/><use href="#oha" class="c"/><use href="#oib" class="d"/><use href="#oka" class="e"/><use href="#ola" class="c"/><use href="#ial" class="x"/><use href="#S"/><use href="#L"/></g>
<g transform="translate(3336.1)"><use href="#obb" class="d"/><use href="#oda" class="a"/><use href="#oea" class="b"/><use href="#ofb" class="c"/><use href="#oha" class="b"/><use href="#oia" class="c"/><use href="#oja" class="d"/><use href="#oka" class="e"/><use href="#olb" class="c"/><use href="#ica" class="y"/><use href="#idk" class="x"/><use href="#S"/><use href="#L"/></g>
<g transform="translate(3452.2)"><use href="#oaa" class="c"/><use href="#oca" class="k1"/><use href="#odb" class="a"/><use href="#oga" class="k3"/><use href="#oha" class="k1"/><use href="#oia" class="a"/><use href="#ojb" class="k2"/><use href="#ola" class="b"/><use href="#iac" class="y"/><use href="#ide" class="x"/><use href="#iic" class="y"/><use href="#ila" class="x"/><use href="#S"/><use href="#L"/></g>
<g transform="translate(3568.4)"><use href="#oaa" class="k1"/><use href="#obb" class="k2"/><use href="#oda" class="k1"/><use href="#oea" class="k3"/><use href="#oga" class="k2"/><use href="#oha" class="k4"/><use href="#oic" class="k3"/><use href="#ola" class="k2"/><use href="#ial" class="x"/><use href="#S"/><use href="#L"/></g>
</g>
<g transform="translate(0,1913.5)">
<g transform="translate(317)"><use href="#oda" class="k4"/><use href="#oec" class="k3"/><use href="#oha" class="k5"/><use href="#oia" class="k3"/><use href="#oja" class="k5"/><use href="#oka" class="k3"/><use href="#old" class="k5"/><use href="#iea" class="y"/><use href="#ifb" class="x"/><use href="#iha" class="y"/><use href="#iih" class="g"/><use href="#S"/><use href="#L"/></g>
<g transform="translate(433.1)"><use href="#oal" class="k5"/><use href="#idf" class="x"/><use href="#ija" class="g"/><use href="#ika" class="y"/><use href="#ild" class="g"/><use href="#S"/><use href="#L"/></g>
<g transform="translate(549.2)"><use href="#oaa" class="k3"/><use href="#oba" class="k5"/><use href="#oca" class="k2"/><use href="#odd" class="k5"/><use href="#oha" class="k4"/><use href="#oia" class="k3"/><use href="#ojb" class="k5"/><use href="#ola" class="k4"/><use href="#ici" class="x"/><use href="#ilc" class="y"/><use href="#S"/><use href="#L"/></g>
<g transform="translate(665.4)"><use href="#oal" class="k5"/><use href="#iec" class="x"/><use href="#ihi" class="g"/><use href="#S"/><use href="#L"/></g>
<g transform="translate(781.5)"><use href="#odb" class="k2"/><use href="#ofb" class="b"/><use href="#oha" class="k2"/><use href="#ojb" class="k1"/><use href="#olc" class="k2"/><use href="#ica" class="g"/><use href="#idg" class="x"/><use href="#ikd" class="y"/><use href="#S"/><use href="#L"/></g>
<g transform="translate(897.6)"><use href="#oda" class="k1"/><use href="#ofa" class="d"/><use href="#oga" class="e"/><use href="#ohb" class="k2"/><use href="#oka" class="k1"/><use href="#old" class="k3"/><use href="#ide" class="x"/><use href="#iib" class="y"/><use href="#ika" class="x"/><use href="#ild" class="y"/><use href="#S"/><use href="#L"/></g>
<g transform="translate(1013.7)"><use href="#oea" class="k2"/><use href="#ofa" class="c"/><use href="#oga" class="d"/><use href="#ohb" class="k3"/><use href="#ojb" class="k2"/><use href="#ole" class="k3"/><use href="#iab" class="y"/><use href="#icj" class="x"/><use href="#S"/><use href="#L"/></g>
<g transform="translate(1129.8)"><use href="#oab" class="d"/><use href="#oca" class="e"/><use href="#oea" class="k1"/><use href="#ofa" class="a"/><use href="#oga" class="k2"/><use href="#oha" class="b"/><use href="#oia" class="c"/><use href="#oja" class="k2"/><use href="#oka" class="c"/><use href="#ibb" class="g"/><use href="#idb" class="x"/><use href="#ifa" class="y"/><use href="#igc" class="x"/><use href="#ijb" class="g"/><use href="#ilb" class="x"/><use href="#S"/><use href="#L"/></g>
<g transform="translate(1246)"><use href="#oba" class="a"/><use href="#oda" class="k1"/><use href="#oea" class="k3"/><use href="#ofa" class="c"/><use href="#oga" class="b"/><use href="#oha" class="k2"/><use href="#oia" class="k3"/><use href="#oja" class="b"/><use href="#oka" class="a"/><use href="#olb" class="k2"/><use href="#iac" class="y"/><use href="#ida" class="x"/><use href="#iea" class="y"/><use href="#ifd" class="x"/><use href="#ijb" class="y"/><use href="#ila" class="x"/><use href="#S"/><use href="#L"/></g>
<g transform="translate(1362.1)"><use href="#oaa" class="k3"/><use href="#oda" class="k1"/><use href="#oea" class="k3"/><use href="#ofb" class="c"/><use href="#oha" class="k3"/><use href="#oia" class="k2"/><use href="#oja" class="b"/><use href="#oka" class="a"/><use href="#ola" class="k2"/><use href="#ibb" class="y"/><use href="#idj" class="x"/><use href="#S"/><use href="#L"/></g>
<g transform="translate(1478.2)"><use href="#oae" class="e"/><use href="#ofa" class="d"/><use href="#oga" class="b"/><use href="#ohd" class="e"/><use href="#ola" class="d"/><use href="#ica" class="y"/><use href="#idg" class="x"/><use href="#ika" class="y"/><use href="#ilc" class="x"/><use href="#S"/><use href="#L"/></g>
<g transform="translate(1594.3)"><use href="#oab" class="k2"/><use href="#oca" class="b"/><use href="#oda" class="k4"/><use href="#oec" class="k5"/><use href="#ohd" class="k3"/><use href="#ola" class="k1"/><use href="#ica" class="g"/><use href="#idg" class="x"/><use href="#ika" class="y"/><use href="#ilc" class="x"/><use href="#S"/><use href="#L"/></g>
<g transform="translate(1710.4)"><use href="#oaa" class="a"/><use href="#oca" class="c"/><use href="#oda" class="k4"/><use href="#oec" class="k5"/><use href="#ohb" class="k3"/><use href="#oja" class="k4"/><use href="#oka" class="k3"/><use href="#ica" class="g"/><use href="#idk" class="x"/><use href="#S"/><use href="#L"/></g>
<g transform="translate(1826.6)"><use href="#oea" class="k5"/><use href="#ofk" class="e"/><use href="#iba" class="y"/><use href="#icd" class="x"/><use href="#iga" class="g"/><use href="#ihc" class="x"/><use href="#ika" class="g"/><use href="#ilb" class="x"/><use href="#S"/><use href="#L"/></g>
<g transform="translate(1942.7)"><use href="#oca" class="c"/><use href="#oda" class="a"/><use href="#ofb" class="k3"/><use href="#oha" class="k1"/><use href="#oib" class="k2"/><use href="#oka" class="k3"/><use href="#ola" class="k1"/><use href="#ica" class="y"/><use href="#idk" class="x"/><use href="#S"/><use href="#L"/></g>
<g transform="translate(2058.8)"><use href="#oaa" class="b"/><use href="#obf" class="e"/><use href="#oha" class="k5"/><use href="#oic" class="e"/><use href="#ola" class="d"/><use href="#ica" class="g"/><use href="#idg" class="x"/><use href="#ika" class="g"/><use href="#ilc" class="x"/><use href="#S"/><use href="#L"/></g>
<g transform="translate(2174.9)"><use href="#oda" class="k3"/><use href="#oea" class="k2"/><use href="#off" class="k3"/><use href="#olc" class="k1"/><use href="#ica" class="y"/><use href="#idg" class="x"/><use href="#ika" class="g"/><use href="#ilc" class="x"/><use href="#S"/><use href="#L"/></g>
<g transform="translate(2291)"><use href="#dal" class="x"/><use href="#T"/><use href="#L"/></g>
<g transform="translate(2407.2)"><use href="#oaa" class="k5"/><use href="#obb" class="k1"/><use href="#odb" class="c"/><use href="#ofb" class="d"/><use href="#ojb" class="a"/><use href="#ola" class="k3"/><use href="#ica" class="g"/><use href="#idg" class="x"/><use href="#ika" class="y"/><use href="#ilc" class="x"/><use href="#S"/><use href="#L"/></g>
<g transform="translate(2523.3)"><use href="#odd" class="b"/><use href="#oha" class="k2"/><use href="#oig" class="k3"/><use href="#ica" class="g"/><use href="#idk" class="x"/><use href="#S"/><use href="#L"/></g>
<g transform="translate(2639.4)"><use href="#ofb" class="a"/><use href="#ohh" class="k2"/><use href="#ibb" class="g"/><use href="#idj" class="x"/><use href="#S"/><use href="#L"/></g>
<g transform="translate(2755.5)"><use href="#oaa" class="k3"/><use href="#oba" class="a"/><use href="#odd" class="e"/><use href="#oha" class="b"/><use href="#oia" class="c"/><use href="#ojb" class="e"/><use href="#ola" class="k2"/><use href="#ica" class="g"/><use href="#idg" class="x"/><use href="#ika" class="y"/><use href="#ilc" class="x"/><use href="#S"/><use href="#L"/></g>
<g transform="translate(2871.6)"><use href="#oaa" class="k2"/><use href="#oca" class="k1"/><use href="#odd" class="e"/><use href="#ohb" class="d"/><use href="#ojb" class="e"/><use href="#ola" class="k1"/><use href="#ial" class="x"/><use href="#S"/><use href="#L"/></g>
<g transform="translate(2987.8)"><use href="#oba" class="a"/><use href="#oca" class="k1"/><use href="#odd" class="d"/><use href="#ohd" class="c"/><use href="#ial" class="x"/><use href="#S"/><use href="#L"/></g>
<g transform="translate(3103.9)"><use href="#oba" class="d"/><use href="#oci" class="e"/><use href="#olb" class="c"/><use href="#ial" class="x"/><use href="#S"/><use href="#L"/></g>
<g transform="translate(3220)"><use href="#oac" class="d"/><use href="#odc" class="c"/><use href="#oga" class="b"/><use href="#oha" class="d"/><use href="#oic" class="e"/><use href="#ola" class="c"/><use href="#ial" class="x"/><use href="#S"/><use href="#L"/></g>
<g transform="translate(3336.1)"><use href="#oge" class="e"/><use href="#olg" class="d"/><use href="#ial" class="x"/><use href="#S"/><use href="#L"/></g>
<g transform="translate(3452.2)"><use href="#oaa" class="c"/><use href="#oba" class="a"/><use href="#oda" class="a"/><use href="#oga" class="k4"/><use href="#oia" class="a"/><use href="#ojb" class="k1"/><use href="#ola" class="b"/><use href="#ica" class="y"/><use href="#idk" class="x"/><use href="#S"/><use href="#L"/></g>
<g transform="translate(3568.4)"><use href="#oba" class="k1"/><use href="#oca" class="k2"/><use href="#oea" class="k3"/><use href="#ofa" class="k1"/><use href="#ogb" class="k3"/><use href="#oib" class="k2"/><use href="#oka" class="k3"/><use href="#ola" class="k1"/><use href="#ial" class="x"/><use href="#S"/><use href="#L"/></g>
</g>
<g transform="translate(0,2037.5)">
<g transform="translate(317)"><use href="#oda" class="k2"/><use href="#oea" class="k3"/><use href="#ofb" class="k1"/><use href="#ohh" class="k5"/><use href="#iac" class="g"/><use href="#ida" class="x"/><use href="#iea" class="y"/><use href="#ifb" class="x"/><use href="#ihd" class="g"/><use href="#ila" class="y"/><use href="#S"/><use href="#L"/></g>
<g transform="translate(433.1)"><use href="#oda" class="k3"/><use href="#oea" class="k2"/><use href="#ofb" class="k3"/><use href="#ohh" class="k5"/><use href="#iac" class="g"/><use href="#idd" class="x"/><use href="#ihd" class="g"/><use href="#ila" class="y"/><use href="#S"/><use href="#L"/></g>
<g transform="translate(549.2)"><use href="#oda" class="k1"/><use href="#oea" class="k2"/><use href="#ofb" class="k3"/><use href="#ohh" class="k5"/><use href="#idd" class="x"/><use href="#iha" class="g"/><use href="#iig" class="y"/><use href="#S"/><use href="#L"/></g>
<g transform="translate(665.4)"><use href="#odb" class="k2"/><use href="#ofb" class="k1"/><use href="#ohh" class="k5"/><use href="#idd" class="x"/><use href="#iha" class="y"/><use href="#iig" class="g"/><use href="#S"/><use href="#L"/></g>
<g transform="translate(781.5)"><use href="#oaa" class="k1"/><use href="#oba" class="k3"/><use href="#oca" class="k2"/><use href="#oda" class="k5"/><use href="#oea" class="k4"/><use href="#oga" class="b"/><use href="#ohb" class="k4"/><use href="#oja" class="k3"/><use href="#okb" class="k2"/><use href="#iaa" class="y"/><use href="#iba" class="g"/><use href="#ica" class="y"/><use href="#ida" class="x"/><use href="#iea" class="g"/><use href="#ifa" class="y"/><use href="#igb" class="x"/><use href="#iic" class="g"/><use href="#ila" class="x"/><use href="#S"/><use href="#L"/></g>
<g transform="translate(897.6)"><use href="#odb" class="k3"/><use href="#ofa" class="c"/><use href="#oga" class="d"/><use href="#ohb" class="k3"/><use href="#oka" class="a"/><use href="#old" class="k5"/><use href="#iac" class="g"/><use href="#idd" class="x"/><use href="#iha" class="g"/><use href="#iib" class="y"/><use href="#ikb" class="x"/><use href="#S"/><use href="#L"/></g>
<g transform="translate(1013.7)"><use href="#oac" class="k4"/><use href="#odb" class="k3"/><use href="#ofa" class="d"/><use href="#oga" class="e"/><use href="#ohb" class="k3"/><use href="#ojb" class="b"/><use href="#ola" class="k3"/><use href="#iac" class="g"/><use href="#ide" class="x"/><use href="#iia" class="g"/><use href="#ija" class="y"/><use href="#ikb" class="x"/><use href="#S"/><use href="#L"/></g>
<g transform="translate(1129.8)"><use href="#oaa" class="k2"/><use href="#obb" class="k3"/><use href="#odh" class="k5"/><use href="#ola" class="k3"/><use href="#ibb" class="y"/><use href="#ida" class="x"/><use href="#ieb" class="g"/><use href="#iga" class="y"/><use href="#iha" class="x"/><use href="#iic" class="y"/><use href="#ilb" class="x"/><use href="#S"/><use href="#L"/></g>
<g transform="translate(1246)"><use href="#oba" class="k2"/><use href="#oca" class="k3"/><use href="#odb" class="k5"/><use href="#ofb" class="k4"/><use href="#ohb" class="k5"/><use href="#oja" class="k3"/><use href="#oka" class="k2"/><use href="#olb" class="k5"/><use href="#ibb" class="y"/><use href="#ida" class="x"/><use href="#ieb" class="y"/><use href="#igc" class="x"/><use href="#ijb" class="y"/><use href="#ilb" class="x"/><use href="#S"/><use href="#L"/></g>
<g transform="translate(1362.1)"><use href="#obb" class="k2"/><use href="#odb" class="k5"/><use href="#ofb" class="k2"/><use href="#ohb" class="k5"/><use href="#ojb" class="k2"/><use href="#olb" class="k5"/><use href="#ibb" class="y"/><use href="#idf" class="x"/><use href="#ija" class="y"/><use href="#ikc" class="x"/><use href="#S"/><use href="#L"/></g>
<g transform="translate(1478.2)"><use href="#oaa" class="d"/><use href="#oba" class="k1"/><use href="#oca" class="k2"/><use href="#odb" class="e"/><use href="#ofa" class="a"/><use href="#oga" class="k2"/><use href="#oha" class="e"/><use href="#oia" class="d"/><use href="#oja" class="k2"/><use href="#oka" class="k3"/><use href="#ola" class="e"/><use href="#ibb" class="y"/><use href="#idf" class="x"/><use href="#ijb" class="y"/><use href="#ilb" class="x"/><use href="#S"/><use href="#L"/></g>
<g transform="translate(1594.3)"><use href="#oal" class="k5"/><use href="#iba" class="g"/><use href="#ica" class="y"/><use href="#idf" class="x"/><use href="#ijb" class="y"/><use href="#ilb" class="x"/><use href="#S"/><use href="#L"/></g>
<g transform="translate(1710.4)"><use href="#obb" class="k4"/><use href="#odj" class="k5"/><use href="#ika" class="y"/><use href="#ilk" class="x"/><use href="#S"/><use href="#L"/></g>
<g transform="translate(1826.6)"><use href="#oaa" class="c"/><use href="#obb" class="e"/><use href="#oec" class="e"/><use href="#ohb" class="c"/><use href="#oja" class="d"/><use href="#okb" class="e"/><use href="#ibb" class="g"/><use href="#ida" class="x"/><use href="#iec" class="g"/><use href="#ihb" class="x"/><use href="#ijb" class="g"/><use href="#ilb" class="x"/><use href="#S"/><use href="#L"/></g>
<g transform="translate(1942.7)"><use href="#oaa" class="k1"/><use href="#oba" class="b"/><use href="#oca" class="d"/><use href="#odb" class="e"/><use href="#ofb" class="k5"/><use href="#ohc" class="c"/><use href="#oka" class="k1"/><use href="#ola" class="a"/><use href="#ica" class="g"/><use href="#idg" class="x"/><use href="#ika" class="y"/><use href="#ilc" class="x"/><use href="#S"/><use href="#L"/></g>
<g transform="translate(2058.8)"><use href="#oab" class="c"/><use href="#oca" class="d"/><use href="#odb" class="c"/><use href="#ofb" class="b"/><use href="#oha" class="c"/><use href="#oib" class="d"/><use href="#oka" class="e"/><use href="#ola" class="k5"/><use href="#ibb" class="g"/><use href="#idb" class="x"/><use href="#ifb" class="g"/><use href="#ihb" class="x"/><use href="#ijb" class="g"/><use href="#ilb" class="x"/><use href="#S"/><use href="#L"/></g>
<g transform="translate(2174.9)"><use href="#obb" class="b"/><use href="#odb" class="k2"/><use href="#ofb" class="k5"/><use href="#ohb" class="b"/><use href="#oja" class="k2"/><use href="#oka" class="k3"/><use href="#olb" class="c"/><use href="#ibb" class="g"/><use href="#idf" class="x"/><use href="#ijb" class="g"/><use href="#ilb" class="x"/><use href="#S"/><use href="#L"/></g>
<g transform="translate(2291)"><use href="#oea" class="e"/><use href="#ofa" class="k2"/><use href="#oga" class="k5"/><use href="#ohb" class="e"/><use href="#oja" class="b"/><use href="#oka" class="k2"/><use href="#ole" class="d"/><use href="#ica" class="g"/><use href="#idg" class="x"/><use href="#ika" class="g"/><use href="#ilc" class="x"/><use href="#S"/><use href="#L"/></g>
<g transform="translate(2407.2)"><use href="#dbb" class="g"/><use href="#ddb" class="x"/><use href="#dfa" class="y"/><use href="#dgc" class="x"/><use href="#djb" class="g"/><use href="#dlb" class="x"/><use href="#T"/><use href="#L"/></g>
<g transform="translate(2523.3)"><use href="#obj" class="k5"/><use href="#olb" class="k4"/><use href="#iac" class="g"/><use href="#idb" class="y"/><use href="#ifc" class="x"/><use href="#iia" class="g"/><use href="#ijb" class="y"/><use href="#ila" class="x"/><use href="#S"/><use href="#L"/></g>
<g transform="translate(2639.4)"><use href="#oda" class="k2"/><use href="#oea" class="k3"/><use href="#ofb" class="k5"/><use href="#ohc" class="k4"/><use href="#oka" class="k5"/><use href="#olb" class="a"/><use href="#ibb" class="g"/><use href="#idf" class="x"/><use href="#ijb" class="y"/><use href="#ilb" class="x"/><use href="#S"/><use href="#L"/></g>
<g transform="translate(2755.5)"><use href="#odc" class="b"/><use href="#oga" class="c"/><use href="#ojb" class="a"/><use href="#old" class="k1"/><use href="#ibb" class="g"/><use href="#ida" class="x"/><use href="#iea" class="g"/><use href="#ifa" class="y"/><use href="#igb" class="x"/><use href="#iib" class="g"/><use href="#ika" class="y"/><use href="#ilb" class="x"/><use href="#S"/><use href="#L"/></g>
<g transform="translate(2871.6)"><use href="#oac" class="k4"/><use href="#odb" class="a"/><use href="#ohc" class="k2"/><use href="#okb" class="k3"/><use href="#iaa" class="g"/><use href="#iba" class="y"/><use href="#ica" class="g"/><use href="#ida" class="x"/><use href="#iea" class="y"/><use href="#ifc" class="x"/><use href="#iic" class="y"/><use href="#ila" class="x"/><use href="#S"/><use href="#L"/></g>
<g transform="translate(2987.8)"><use href="#oac" class="k5"/><use href="#oda" class="c"/><use href="#oea" class="k2"/><use href="#ofa" class="k1"/><use href="#ogd" class="k3"/><use href="#okb" class="k4"/><use href="#iab" class="g"/><use href="#ica" class="y"/><use href="#ida" class="x"/><use href="#iea" class="y"/><use href="#ifc" class="x"/><use href="#iia" class="g"/><use href="#ijb" class="y"/><use href="#ila" class="x"/><use href="#S"/><use href="#L"/></g>
<g transform="translate(3103.9)"><use href="#obb" class="c"/><use href="#oda" class="a"/><use href="#oea" class="b"/><use href="#ofb" class="a"/><use href="#oha" class="b"/><use href="#oic" class="c"/><use href="#olb" class="b"/><use href="#ibb" class="g"/><use href="#idg" class="x"/><use href="#ika" class="y"/><use href="#ilb" class="x"/><use href="#S"/><use href="#L"/></g>
<g transform="translate(3220)"><use href="#oaa" class="a"/><use href="#obb" class="b"/><use href="#oda" class="k1"/><use href="#oea" class="k2"/><use href="#ogb" class="a"/><use href="#oic" class="b"/><use href="#ola" class="k1"/><use href="#ial" class="x"/><use href="#S"/><use href="#L"/></g>
<g transform="translate(3336.1)"><use href="#oac" class="a"/><use href="#oec" class="a"/><use href="#oja" class="a"/><use href="#oka" class="b"/><use href="#ica" class="y"/><use href="#idk" class="x"/><use href="#S"/><use href="#L"/></g>
<g transform="translate(3452.2)"><use href="#oba" class="k2"/><use href="#oca" class="k1"/><use href="#ode" class="k2"/><use href="#oja" class="k1"/><use href="#olb" class="k1"/><use href="#ica" class="y"/><use href="#idg" class="x"/><use href="#ika" class="g"/><use href="#ilc" class="x"/><use href="#S"/><use href="#L"/></g>
<g transform="translate(3568.4)"><use href="#oaa" class="k1"/><use href="#odc" class="k2"/><use href="#oga" class="b"/><use href="#oha" class="k2"/><use href="#oib" class="k1"/><use href="#oka" class="a"/><use href="#ola" class="k2"/><use href="#ial" class="x"/><use href="#S"/><use href="#L"/></g>
</g>
<g transform="translate(0,2161.5)">
<g transform="translate(317)"><use href="#oaa" class="k3"/><use href="#oba" class="k5"/><use href="#oca" class="k2"/><use href="#odb" class="k1"/><use href="#ofa" class="a"/><use href="#oga" class="b"/><use href="#oha" class="k3"/><use href="#oia" class="k2"/><use href="#oja" class="k4"/><use href="#oka" class="k3"/><use href="#ola" class="k5"/><use href="#iac" class="g"/><use href="#ida" class="x"/><use href="#iea" class="y"/><use href="#ifb" class="x"/><use href="#ihe" class="y"/><use href="#S"/><use href="#L"/></g>
<g transform="translate(433.1)"><use href="#oda" class="k4"/><use href="#oec" class="k2"/><use href="#ohh" class="k5"/><use href="#ibb" class="g"/><use href="#idb" class="y"/><use href="#ifb" class="x"/><use href="#ihf" class="y"/><use href="#S"/><use href="#L"/></g>
<g transform="translate(549.2)"><use href="#oaa" class="a"/><use href="#oba" class="k3"/><use href="#oca" class="a"/><use href="#oda" class="k1"/><use href="#ofd" class="k2"/><use href="#oja" class="k3"/><use href="#okb" class="k2"/><use href="#iaa" class="g"/><use href="#ibb" class="y"/><use href="#ida" class="x"/><use href="#iea" class="y"/><use href="#ifb" class="x"/><use href="#ihe" class="y"/><use href="#S"/><use href="#L"/></g>
<g transform="translate(665.4)"><use href="#oda" class="k3"/><use href="#oea" class="k2"/><use href="#ofb" class="k1"/><use href="#ohh" class="k5"/><use href="#iac" class="g"/><use href="#idd" class="x"/><use href="#ihe" class="y"/><use href="#S"/><use href="#L"/></g>
<g transform="translate(781.5)"><use href="#oaa" class="b"/><use href="#oba" class="a"/><use href="#oca" class="b"/><use href="#odb" class="k2"/><use href="#ofb" class="c"/><use href="#ohb" class="k2"/><use href="#ojb" class="a"/><use href="#iaa" class="g"/><use href="#iba" class="y"/><use href="#ica" class="g"/><use href="#ida" class="y"/><use href="#iea" class="g"/><use href="#iff" class="y"/><use href="#ila" class="x"/><use href="#S"/><use href="#L"/></g>
<g transform="translate(897.6)"><use href="#oaa" class="k1"/><use href="#oca" class="a"/><use href="#oea" class="a"/><use href="#ofb" class="e"/><use href="#oha" class="k1"/><use href="#ojb" class="d"/><use href="#ola" class="k2"/><use href="#iga" class="x"/><use href="#ihk" class="y"/><use href="#S"/><use href="#L"/></g>
<g transform="translate(1013.7)"><use href="#oaa" class="k1"/><use href="#oea" class="b"/><use href="#ofb" class="e"/><use href="#oha" class="k1"/><use href="#ojb" class="d"/><use href="#ola" class="k2"/><use href="#ida" class="x"/><use href="#ieb" class="y"/><use href="#iga" class="x"/><use href="#ihh" class="y"/><use href="#S"/><use href="#L"/></g>
<g transform="translate(1129.8)"><use href="#oaa" class="a"/><use href="#obb" class="k2"/><use href="#oda" class="k3"/><use href="#oea" class="k4"/><use href="#ofb" class="k5"/><use href="#ohc" class="k3"/><use href="#oka" class="k5"/><use href="#iaa" class="g"/><use href="#ibb" class="y"/><use href="#ida" class="x"/><use href="#iec" class="g"/><use href="#iha" class="x"/><use href="#iic" class="y"/><use href="#ila" class="x"/><use href="#S"/><use href="#L"/></g>
<g transform="translate(1246)"><use href="#oab" class="k3"/><use href="#ocg" class="k5"/><use href="#ojb" class="k3"/><use href="#ola" class="k4"/><use href="#iac" class="y"/><use href="#idb" class="g"/><use href="#ifa" class="y"/><use href="#igb" class="x"/><use href="#iia" class="g"/><use href="#ijb" class="y"/><use href="#ila" class="x"/><use href="#S"/><use href="#L"/></g>
<g transform="translate(1362.1)"><use href="#oba" class="k3"/><use href="#oca" class="k2"/><use href="#odb" class="k5"/><use href="#ofb" class="k4"/><use href="#ohb" class="k5"/><use href="#ojb" class="k3"/><use href="#olb" class="k5"/><use href="#iae" class="y"/><use href="#ifc" class="x"/><use href="#iia" class="g"/><use href="#ijb" class="y"/><use href="#ila" class="x"/><use href="#S"/><use href="#L"/></g>
<g transform="translate(1478.2)"><use href="#oba" class="c"/><use href="#oca" class="k2"/><use href="#odc" class="e"/><use href="#oga" class="c"/><use href="#ohb" class="e"/><use href="#oja" class="d"/><use href="#olb" class="e"/><use href="#iba" class="y"/><use href="#icb" class="x"/><use href="#iea" class="g"/><use href="#ifa" class="y"/><use href="#igb" class="x"/><use href="#iib" class="g"/><use href="#ika" class="y"/><use href="#ilb" class="x"/><use href="#S"/><use href="#L"/></g>
<g transform="translate(1594.3)"><use href="#oda" class="k3"/><use href="#oea" class="k4"/><use href="#ofj" class="k5"/><use href="#iba" class="g"/><use href="#ica" class="y"/><use href="#ida" class="x"/><use href="#iea" class="y"/><use href="#ifc" class="x"/><use href="#iic" class="y"/><use href="#ilb" class="x"/><use href="#S"/><use href="#L"/></g>
<g transform="translate(1710.4)"><use href="#oac" class="k5"/><use href="#oda" class="k3"/><use href="#oea" class="k4"/><use href="#off" class="k5"/><use href="#ola" class="k4"/><use href="#ika" class="y"/><use href="#ilk" class="x"/><use href="#S"/><use href="#L"/></g>
<g transform="translate(1826.6)"><use href="#oda" class="c"/><use href="#oea" class="d"/><use href="#ofj" class="e"/><use href="#iac" class="g"/><use href="#ida" class="x"/><use href="#ieb" class="y"/><use href="#igb" class="x"/><use href="#iia" class="g"/><use href="#ijb" class="y"/><use href="#ila" class="x"/><use href="#S"/><use href="#L"/></g>
<g transform="translate(1942.7)"><use href="#oab" class="k2"/><use href="#oca" class="k3"/><use href="#odb" class="e"/><use href="#oga" class="k3"/><use href="#ohd" class="c"/><use href="#ola" class="k1"/><use href="#ial" class="x"/><use href="#S"/><use href="#L"/></g>
<g transform="translate(2058.8)"><use href="#oaa" class="d"/><use href="#obb" class="e"/><use href="#oda" class="b"/><use href="#oea" class="c"/><use href="#ofb" class="a"/><use href="#ohd" class="e"/><use href="#ola" class="c"/><use href="#iac" class="g"/><use href="#idb" class="x"/><use href="#ifa" class="g"/><use href="#igb" class="x"/><use href="#iic" class="g"/><use href="#ila" class="x"/><use href="#S"/><use href="#L"/></g>
<g transform="translate(2174.9)"><use href="#oca" class="c"/><use href="#odf" class="b"/><use href="#ojb" class="c"/><use href="#olc" class="b"/><use href="#ibb" class="g"/><use href="#ide" class="x"/><use href="#iib" class="g"/><use href="#ika" class="y"/><use href="#ilb" class="x"/><use href="#S"/><use href="#L"/></g>
<g transform="translate(2291)"><use href="#oci" class="e"/><use href="#olc" class="d"/><use href="#ial" class="x"/><use href="#S"/><use href="#L"/></g>
<g transform="translate(2407.2)"><use href="#odb" class="d"/><use href="#ofb" class="e"/><use href="#ohd" class="d"/><use href="#old" class="c"/><use href="#ibb" class="g"/><use href="#ida" class="x"/><use href="#iea" class="g"/><use href="#ifa" class="y"/><use href="#igb" class="x"/><use href="#iia" class="g"/><use href="#ijb" class="y"/><use href="#ilb" class="x"/><use href="#S"/><use href="#L"/></g>
<g transform="translate(2523.3)"><use href="#dac" class="g"/><use href="#dda" class="x"/><use href="#dea" class="y"/><use href="#dfc" class="x"/><use href="#dia" class="g"/><use href="#djb" class="y"/><use href="#dla" class="x"/><use href="#T"/><use href="#L"/></g>
<g transform="translate(2639.4)"><use href="#oda" class="a"/><use href="#oea" class="k1"/><use href="#ohb" class="b"/><use href="#ojb" class="a"/><use href="#old" class="b"/><use href="#iac" class="g"/><use href="#ide" class="x"/><use href="#iia" class="g"/><use href="#ijb" class="y"/><use href="#ila" class="x"/><use href="#S"/><use href="#L"/></g>
<g transform="translate(2755.5)"><use href="#obb" class="c"/><use href="#odb" class="d"/><use href="#ofb" class="e"/><use href="#ohb" class="c"/><use href="#oja" class="d"/><use href="#oka" class="e"/><use href="#olb" class="b"/><use href="#iac" class="g"/><use href="#ida" class="x"/><use href="#ieb" class="y"/><use href="#igb" class="x"/><use href="#iia" class="g"/><use href="#ijb" class="y"/><use href="#ila" class="x"/><use href="#S"/><use href="#L"/></g>
<g transform="translate(2871.6)"><use href="#obb" class="a"/><use href="#odd" class="e"/><use href="#ohc" class="c"/><use href="#oka" class="e"/><use href="#ola" class="a"/><use href="#ibe" class="y"/><use href="#iga" class="x"/><use href="#iha" class="g"/><use href="#iic" class="y"/><use href="#ilb" class="g"/><use href="#S"/><use href="#L"/></g>
<g transform="translate(2987.8)"><use href="#oac" class="a"/><use href="#oda" class="c"/><use href="#oed" class="b"/><use href="#oib" class="c"/><use href="#okb" class="b"/><use href="#iaa" class="g"/><use href="#ibb" class="y"/><use href="#ida" class="x"/><use href="#iea" class="y"/><use href="#ifc" class="x"/><use href="#iic" class="y"/><use href="#ila" class="x"/><use href="#S"/><use href="#L"/></g>
<g transform="translate(3103.9)"><use href="#oba" class="d"/><use href="#oca" class="c"/><use href="#odb" class="b"/><use href="#ofa" class="a"/><use href="#oga" class="k1"/><use href="#ohf" class="c"/><use href="#iac" class="g"/><use href="#ida" class="x"/><use href="#iea" class="g"/><use href="#ifa" class="y"/><use href="#igb" class="x"/><use href="#iib" class="g"/><use href="#ika" class="y"/><use href="#ila" class="x"/><use href="#S"/><use href="#L"/></g>
<g transform="translate(3220)"><use href="#oab" class="c"/><use href="#oca" class="b"/><use href="#odc" class="k2"/><use href="#oga" class="k3"/><use href="#oha" class="k2"/><use href="#oka" class="a"/><use href="#ola" class="b"/><use href="#iaa" class="g"/><use href="#iba" class="y"/><use href="#icf" class="x"/><use href="#iia" class="y"/><use href="#ijc" class="x"/><use href="#S"/><use href="#L"/></g>
<g transform="translate(3336.1)"><use href="#oab" class="d"/><use href="#oca" class="c"/><use href="#oda" class="k2"/><use href="#oea" class="k3"/><use href="#ofa" class="k1"/><use href="#ohc" class="a"/><use href="#oka" class="b"/><use href="#ola" class="c"/><use href="#iaa" class="g"/><use href="#ibb" class="y"/><use href="#ida" class="x"/><use href="#iea" class="y"/><use href="#ifc" class="x"/><use href="#iia" class="y"/><use href="#ijc" class="x"/><use href="#S"/><use href="#L"/></g>
<g transform="translate(3452.2)"><use href="#oba" class="k1"/><use href="#oca" class="k3"/><use href="#odc" class="a"/><use href="#oga" class="k1"/><use href="#oia" class="a"/><use href="#olb" class="a"/><use href="#ibb" class="y"/><use href="#ida" class="x"/><use href="#ieb" class="y"/><use href="#igb" class="x"/><use href="#iie" class="g"/><use href="#S"/><use href="#L"/></g>
<g transform="translate(3568.4)"><use href="#oca" class="k3"/><use href="#oea" class="k1"/><use href="#ofa" class="a"/><use href="#ogc" class="k1"/><use href="#olc" class="k2"/><use href="#iab" class="y"/><use href="#icf" class="x"/><use href="#iia" class="g"/><use href="#ijc" class="x"/><use href="#S"/><use href="#L"/></g>
</g>
<g transform="translate(0,2285.5)">
<g transform="translate(317)"><use href="#oaa" class="k4"/><use href="#oba" class="k5"/><use href="#occ" class="k1"/><use href="#ofb" class="b"/><use href="#ohb" class="k3"/><use href="#ojb" class="k4"/><use href="#ola" class="k5"/><use href="#iac" class="g"/><use href="#ida" class="x"/><use href="#iea" class="y"/><use href="#ifb" class="x"/><use href="#ihe" class="y"/><use href="#S"/><use href="#L"/></g>
<g transform="translate(433.1)"><use href="#oda" class="k3"/><use href="#oea" class="k2"/><use href="#ofb" class="k3"/><use href="#ohh" class="k5"/><use href="#ida" class="y"/><use href="#iec" class="x"/><use href="#ihd" class="y"/><use href="#ild" class="g"/><use href="#S"/><use href="#L"/></g>
<g transform="translate(549.2)"><use href="#oaa" class="k1"/><use href="#oba" class="k5"/><use href="#oca" class="k1"/><use href="#oda" class="k3"/><use href="#oea" class="k2"/><use href="#ofg" class="k4"/><use href="#icb" class="x"/><use href="#ieb" class="y"/><use href="#igb" class="x"/><use href="#iib" class="y"/><use href="#ika" class="x"/><use href="#ilc" class="y"/><use href="#S"/><use href="#L"/></g>
<g transform="translate(665.4)"><use href="#oda" class="k3"/><use href="#oec" class="k2"/><use href="#ohh" class="k5"/><use href="#ide" class="x"/><use href="#iic" class="y"/><use href="#ild" class="g"/><use href="#S"/><use href="#L"/></g>
<g transform="translate(781.5)"><use href="#oaa" class="b"/><use href="#oca" class="c"/><use href="#odb" class="k2"/><use href="#ofb" class="c"/><use href="#ohb" class="k2"/><use href="#ojc" class="k1"/><use href="#iaa" class="g"/><use href="#iba" class="y"/><use href="#ica" class="g"/><use href="#ida" class="x"/><use href="#ieb" class="y"/><use href="#igb" class="x"/><use href="#iic" class="y"/><use href="#ila" class="x"/><use href="#S"/><use href="#L"/></g>
<g transform="translate(897.6)"><use href="#oaa" class="k1"/><use href="#odb" class="a"/><use href="#ofb" class="e"/><use href="#ojb" class="c"/><use href="#ola" class="k2"/><use href="#ial" class="y"/><use href="#S"/><use href="#L"/></g>
<g transform="translate(1013.7)"><use href="#obb" class="k1"/><use href="#oda" class="k2"/><use href="#oea" class="a"/><use href="#ofb" class="e"/><use href="#ohb" class="k2"/><use href="#ojb" class="c"/><use href="#olb" class="k2"/><use href="#iaf" class="y"/><use href="#igb" class="x"/><use href="#iic" class="y"/><use href="#ila" class="x"/><use href="#S"/><use href="#L"/></g>
<g transform="translate(1129.8)"><use href="#oaa" class="b"/><use href="#oba" class="a"/><use href="#oca" class="c"/><use href="#odd" class="k5"/><use href="#oia" class="k2"/><use href="#ojb" class="k3"/><use href="#ola" class="a"/><use href="#ibb" class="g"/><use href="#ida" class="x"/><use href="#iea" class="g"/><use href="#ifa" class="y"/><use href="#igb" class="x"/><use href="#iia" class="g"/><use href="#ijb" class="y"/><use href="#ilb" class="x"/><use href="#S"/><use href="#L"/></g>
<g transform="translate(1246)"><use href="#oba" class="k2"/><use href="#occ" class="k5"/><use href="#ofa" class="k4"/><use href="#oga" class="k5"/><use href="#oha" class="k4"/><use href="#oia" class="k5"/><use href="#oja" class="k2"/><use href="#okc" class="k3"/><use href="#iac" class="y"/><use href="#ida" class="x"/><use href="#iea" class="g"/><use href="#ifc" class="x"/><use href="#iic" class="y"/><use href="#ila" class="x"/><use href="#S"/><use href="#L"/></g>
<g transform="translate(1362.1)"><use href="#oaa" class="k3"/><use href="#obb" class="k2"/><use href="#odb" class="k5"/><use href="#ofc" class="k4"/><use href="#oia" class="k5"/><use href="#oja" class="k2"/><use href="#oka" class="k3"/><use href="#ola" class="k4"/><use href="#iac" class="y"/><use href="#ida" class="x"/><use href="#iea" class="y"/><use href="#ifc" class="x"/><use href="#iia" class="g"/><use href="#ijb" class="y"/><use href="#ila" class="x"/><use href="#S"/><use href="#L"/></g>
<g transform="translate(1478.2)"><use href="#obb" class="d"/><use href="#odc" class="e"/><use href="#oga" class="a"/><use href="#ohb" class="e"/><use href="#oja" class="d"/><use href="#olb" class="e"/><use href="#iba" class="y"/><use href="#ica" class="g"/><use href="#idf" class="x"/><use href="#ija" class="g"/><use href="#ika" class="y"/><use href="#ilb" class="x"/><use href="#S"/><use href="#L"/></g>
<g transform="translate(1594.3)"><use href="#oak" class="k5"/><use href="#ola" class="k3"/><use href="#ibb" class="y"/><use href="#idf" class="x"/><use href="#ijb" class="y"/><use href="#ilb" class="x"/><use href="#S"/><use href="#L"/></g>
<g transform="translate(1710.4)"><use href="#oak" class="k5"/><use href="#ola" class="k2"/><use href="#ibb" class="y"/><use href="#idg" class="x"/><use href="#ika" class="y"/><use href="#ilb" class="x"/><use href="#S"/><use href="#L"/></g>
<g transform="translate(1826.6)"><use href="#oal" class="e"/><use href="#iac" class="g"/><use href="#ida" class="x"/><use href="#iec" class="y"/><use href="#iha" class="x"/><use href="#iib" class="g"/><use href="#ika" class="y"/><use href="#ila" class="x"/><use href="#S"/><use href="#L"/></g>
<g transform="translate(1942.7)"><use href="#oab" class="k3"/><use href="#oca" class="k4"/><use href="#oda" class="c"/><use href="#oea" class="b"/><use href="#ofb" class="k4"/><use href="#oha" class="b"/><use href="#oia" class="a"/><use href="#oja" class="b"/><use href="#oka" class="a"/><use href="#ial" class="x"/><use href="#S"/><use href="#L"/></g>
<g transform="translate(2058.8)"><use href="#oaa" class="d"/><use href="#obb" class="e"/><use href="#oda" class="b"/><use href="#oeb" class="a"/><use href="#ohe" class="e"/><use href="#ibb" class="g"/><use href="#idf" class="x"/><use href="#ijb" class="g"/><use href="#ilb" class="x"/><use href="#S"/><use href="#L"/></g>
<g transform="translate(2174.9)"><use href="#oba" class="k1"/><use href="#oda" class="k2"/><use href="#oea" class="k1"/><use href="#ofb" class="k2"/><use href="#oha" class="k1"/><use href="#oja" class="k1"/><use href="#olb" class="a"/><use href="#ibb" class="g"/><use href="#idg" class="x"/><use href="#ika" class="y"/><use href="#ilb" class="x"/><use href="#S"/><use href="#L"/></g>
<g transform="translate(2291)"><use href="#oib" class="c"/><use href="#okj" class="b"/><use href="#ial" class="x"/><use href="#S"/><use href="#L"/></g>
<g transform="translate(2407.2)"><use href="#oaa" class="a"/><use href="#oba" class="b"/><use href="#oca" class="c"/><use href="#oda" class="e"/><use href="#oec" class="d"/><use href="#ohd" class="c"/><use href="#ola" class="b"/><use href="#ibb" class="g"/><use href="#idf" class="x"/><use href="#ijb" class="y"/><use href="#ilb" class="x"/><use href="#S"/><use href="#L"/></g>
<g transform="translate(2523.3)"><use href="#odb" class="a"/><use href="#ofb" class="b"/><use href="#ohb" class="k1"/><use href="#old" class="k2"/><use href="#iac" class="g"/><use href="#ida" class="x"/><use href="#iea" class="y"/><use href="#ifc" class="x"/><use href="#iia" class="g"/><use href="#ijb" class="y"/><use href="#ila" class="x"/><use href="#S"/><use href="#L"/></g>
<g transform="translate(2639.4)"><use href="#dbb" class="g"/><use href="#ddg" class="x"/><use href="#dka" class="y"/><use href="#dlb" class="x"/><use href="#T"/><use href="#L"/></g>
<g transform="translate(2755.5)"><use href="#oaa" class="a"/><use href="#oba" class="c"/><use href="#oca" class="b"/><use href="#odb" class="d"/><use href="#ofb" class="e"/><use href="#oha" class="c"/><use href="#oib" class="d"/><use href="#oka" class="e"/><use href="#ibb" class="g"/><use href="#ida" class="x"/><use href="#ieb" class="y"/><use href="#igb" class="x"/><use href="#iib" class="g"/><use href="#ika" class="y"/><use href="#ilb" class="x"/><use href="#S"/><use href="#L"/></g>
<g transform="translate(2871.6)"><use href="#oba" class="b"/><use href="#oca" class="a"/><use href="#oda" class="e"/><use href="#oea" class="d"/><use href="#ofb" class="e"/><use href="#oha" class="c"/><use href="#oia" class="d"/><use href="#ojb" class="e"/><use href="#iaa" class="g"/><use href="#ibb" class="y"/><use href="#ida" class="x"/><use href="#iea" class="y"/><use href="#ifc" class="x"/><use href="#iic" class="y"/><use href="#ila" class="x"/><use href="#S"/><use href="#L"/></g>
<g transform="translate(2987.8)"><use href="#oaa" class="a"/><use href="#oba" class="b"/><use href="#oca" class="a"/><use href="#odh" class="c"/><use href="#ola" class="b"/><use href="#iaa" class="g"/><use href="#ibb" class="y"/><use href="#ide" class="x"/><use href="#iia" class="y"/><use href="#ijc" class="x"/><use href="#S"/><use href="#L"/></g>
<g transform="translate(3103.9)"><use href="#oba" class="e"/><use href="#oca" class="d"/><use href="#oda" class="c"/><use href="#oea" class="d"/><use href="#ofa" class="b"/><use href="#oga" class="k1"/><use href="#oha" class="d"/><use href="#oia" class="e"/><use href="#oja" class="d"/><use href="#okc" class="c"/><use href="#ibb" class="g"/><use href="#ide" class="x"/><use href="#iib" class="g"/><use href="#ika" class="y"/><use href="#ilb" class="x"/><use href="#S"/><use href="#L"/></g>
<g transform="translate(3220)"><use href="#oab" class="d"/><use href="#oca" class="e"/><use href="#oeb" class="k2"/><use href="#oga" class="k3"/><use href="#ohb" class="a"/><use href="#oka" class="b"/><use href="#ola" class="c"/><use href="#ial" class="x"/><use href="#S"/><use href="#L"/></g>
<g transform="translate(3336.1)"><use href="#obb" class="e"/><use href="#odf" class="a"/><use href="#oka" class="b"/><use href="#olb" class="d"/><use href="#ial" class="x"/><use href="#S"/><use href="#L"/></g>
<g transform="translate(3452.2)"><use href="#oaa" class="a"/><use href="#obb" class="k1"/><use href="#odb" class="c"/><use href="#ofa" class="b"/><use href="#oga" class="k1"/><use href="#oia" class="a"/><use href="#oka" class="k1"/><use href="#ibb" class="y"/><use href="#ide" class="x"/><use href="#iie" class="g"/><use href="#S"/><use href="#L"/></g>
<g transform="translate(3568.4)"><use href="#obb" class="k3"/><use href="#oda" class="a"/><use href="#ofa" class="a"/><use href="#oib" class="k1"/><use href="#okc" class="k2"/><use href="#ial" class="x"/><use href="#S"/><use href="#L"/></g>
</g>
<g transform="translate(0,2409.4)">
<g transform="translate(317)"><use href="#oda" class="k2"/><use href="#oea" class="k3"/><use href="#ofb" class="a"/><use href="#ohh" class="k5"/><use href="#ial" class="y"/><use href="#S"/><use href="#L"/></g>
<g transform="translate(433.1)"><use href="#odd" class="k1"/><use href="#ohh" class="k5"/><use href="#idd" class="x"/><use href="#ihh" class="y"/><use href="#S"/><use href="#L"/></g>
<g transform="translate(549.2)"><use href="#oca" class="k4"/><use href="#odd" class="k2"/><use href="#oha" class="k4"/><use href="#oia" class="k3"/><use href="#oje" class="k5"/><use href="#iga" class="x"/><use href="#ihk" class="y"/><use href="#S"/><use href="#L"/></g>
<g transform="translate(665.4)"><use href="#ofb" class="b"/><use href="#ohh" class="k5"/><use href="#idd" class="x"/><use href="#ihh" class="y"/><use href="#S"/><use href="#L"/></g>
<g transform="translate(781.5)"><use href="#oaa" class="k2"/><use href="#obb" class="k4"/><use href="#odb" class="k5"/><use href="#ofa" class="k2"/><use href="#ogb" class="k3"/><use href="#oia" class="k5"/><use href="#ojb" class="k4"/><use href="#ola" class="k3"/><use href="#iaa" class="y"/><use href="#iba" class="g"/><use href="#icb" class="y"/><use href="#iea" class="g"/><use href="#ifa" class="y"/><use href="#iga" class="x"/><use href="#ihb" class="y"/><use href="#ija" class="g"/><use href="#ika" class="y"/><use href="#ila" class="g"/><use href="#S"/><use href="#L"/></g>
<g transform="translate(897.6)"><use href="#oba" class="k2"/><use href="#occ" class="k3"/><use href="#ofa" class="k2"/><use href="#oga" class="k1"/><use href="#ohb" class="k3"/><use href="#ojb" class="k1"/><use href="#olb" class="k3"/><use href="#ial" class="y"/><use href="#S"/><use href="#L"/></g>
<g transform="translate(1013.7)"><use href="#ofa" class="b"/><use href="#oga" class="c"/><use href="#ohb" class="k3"/><use href="#oja" class="a"/><use href="#olf" class="k3"/><use href="#ibe" class="y"/><use href="#igb" class="x"/><use href="#iib" class="y"/><use href="#ikc" class="x"/><use href="#S"/><use href="#L"/></g>
<g transform="translate(1129.8)"><use href="#oal" class="k5"/><use href="#ibb" class="y"/><use href="#ida" class="x"/><use href="#iec" class="g"/><use href="#iha" class="x"/><use href="#iic" class="g"/><use href="#ilb" class="x"/><use href="#S"/><use href="#L"/></g>
<g transform="translate(1246)"><use href="#oaj" class="k5"/><use href="#okb" class="k4"/><use href="#iac" class="y"/><use href="#ida" class="x"/><use href="#iea" class="g"/><use href="#ifc" class="x"/><use href="#iia" class="g"/><use href="#ijb" class="y"/><use href="#ila" class="x"/><use href="#S"/><use href="#L"/></g>
<g transform="translate(1362.1)"><use href="#oga" class="k3"/><use href="#ohk" class="k5"/><use href="#iac" class="y"/><use href="#ida" class="x"/><use href="#iea" class="y"/><use href="#ifc" class="x"/><use href="#iia" class="g"/><use href="#ijb" class="y"/><use href="#ila" class="x"/><use href="#S"/><use href="#L"/></g>
<g transform="translate(1478.2)"><use href="#oba" class="k1"/><use href="#oca" class="k3"/><use href="#odb" class="e"/><use href="#ofa" class="c"/><use href="#oga" class="b"/><use href="#ohb" class="e"/><use href="#oja" class="a"/><use href="#oka" class="k2"/><use href="#olb" class="e"/><use href="#iba" class="y"/><use href="#ica" class="g"/><use href="#idc" class="x"/><use href="#iga" class="g"/><use href="#ihb" class="x"/><use href="#ija" class="g"/><use href="#ika" class="y"/><use href="#ilb" class="x"/><use href="#S"/><use href="#L"/></g>
<g transform="translate(1594.3)"><use href="#odb" class="k1"/><use href="#ofa" class="k4"/><use href="#oga" class="k5"/><use href="#ohd" class="k3"/><use href="#old" class="k5"/><use href="#ibb" class="g"/><use href="#idf" class="x"/><use href="#ija" class="y"/><use href="#ika" class="g"/><use href="#ilb" class="x"/><use href="#S"/><use href="#L"/></g>
<g transform="translate(1710.4)"><use href="#oea" class="a"/><use href="#ofa" class="k4"/><use href="#oga" class="k5"/><use href="#ohc" class="k3"/><use href="#oka" class="k2"/><use href="#old" class="k5"/><use href="#ica" class="y"/><use href="#idk" class="x"/><use href="#S"/><use href="#L"/></g>
<g transform="translate(1826.6)"><use href="#obb" class="e"/><use href="#oda" class="k1"/><use href="#oea" class="k2"/><use href="#ofa" class="k1"/><use href="#oga" class="a"/><use href="#oha" class="b"/><use href="#oia" class="c"/><use href="#oja" class="a"/><use href="#okc" class="d"/><use href="#iac" class="g"/><use href="#ida" class="x"/><use href="#iea" class="g"/><use href="#ifb" class="y"/><use href="#iha" class="x"/><use href="#iib" class="g"/><use href="#ika" class="y"/><use href="#ila" class="x"/><use href="#S"/><use href="#L"/></g>
<g transform="translate(1942.7)"><use href="#obd" class="e"/><use href="#ofa" class="k3"/><use href="#oga" class="k5"/><use href="#ohb" class="e"/><use href="#oja" class="d"/><use href="#oka" class="c"/><use href="#olb" class="d"/><use href="#ika" class="y"/><use href="#ilk" class="x"/><use href="#S"/><use href="#L"/></g>
<g transform="translate(2058.8)"><use href="#oda" class="k3"/><use href="#oea" class="k2"/><use href="#ofb" class="k3"/><use href="#ohb" class="k1"/><use href="#ojb" class="k2"/><use href="#old" class="a"/><use href="#ibb" class="g"/><use href="#idb" class="x"/><use href="#ifa" class="g"/><use href="#iga" class="y"/><use href="#ihb" class="x"/><use href="#ijb" class="g"/><use href="#ilb" class="x"/><use href="#S"/><use href="#L"/></g>
<g transform="translate(2174.9)"><use href="#oba" class="d"/><use href="#oca" class="c"/><use href="#oda" class="k2"/><use href="#oea" class="k4"/><use href="#ofb" class="k5"/><use href="#ohb" class="c"/><use href="#oja" class="k3"/><use href="#oka" class="k5"/><use href="#olb" class="e"/><use href="#ibb" class="g"/><use href="#idf" class="x"/><use href="#ijb" class="g"/><use href="#ilb" class="x"/><use href="#S"/><use href="#L"/></g>
<g transform="translate(2291)"><use href="#oea" class="d"/><use href="#ofa" class="k4"/><use href="#oga" class="k5"/><use href="#ohb" class="e"/><use href="#oja" class="a"/><use href="#oka" class="k3"/><use href="#ole" class="e"/><use href="#ica" class="g"/><use href="#idg" class="x"/><use href="#ika" class="y"/><use href="#ilc" class="x"/><use href="#S"/><use href="#L"/></g>
<g transform="translate(2407.2)"><use href="#oaa" class="b"/><use href="#obc" class="a"/><use href="#oga" class="k2"/><use href="#ohb" class="b"/><use href="#ojc" class="a"/><use href="#iba" class="y"/><use href="#ica" class="g"/><use href="#idb" class="x"/><use href="#ifa" class="y"/><use href="#igc" class="x"/><use href="#ijb" class="g"/><use href="#ilb" class="x"/><use href="#S"/><use href="#L"/></g>
<g transform="translate(2523.3)"><use href="#oaa" class="k1"/><use href="#oba" class="k4"/><use href="#oce" class="k5"/><use href="#oha" class="k4"/><use href="#oic" class="k5"/><use href="#ola" class="k2"/><use href="#iac" class="g"/><use href="#idb" class="y"/><use href="#ifc" class="x"/><use href="#iia" class="g"/><use href="#ija" class="y"/><use href="#ika" class="g"/><use href="#ila" class="x"/><use href="#S"/><use href="#L"/></g>
<g transform="translate(2639.4)"><use href="#oaa" class="a"/><use href="#obb" class="k1"/><use href="#oda" class="k4"/><use href="#oec" class="k5"/><use href="#oha" class="k3"/><use href="#oia" class="k4"/><use href="#ojb" class="k5"/><use href="#ola" class="b"/><use href="#ibb" class="g"/><use href="#ide" class="x"/><use href="#iic" class="y"/><use href="#ilb" class="x"/><use href="#S"/><use href="#L"/></g>
<g transform="translate(2755.5)"><use href="#dae" class="g"/><use href="#dfb" class="y"/><use href="#dha" class="x"/><use href="#dic" class="y"/><use href="#dla" class="x"/><use href="#T"/><use href="#L"/></g>
<g transform="translate(2871.6)"><use href="#oaa" class="k3"/><use href="#obb" class="k4"/><use href="#ofa" class="k1"/><use href="#oga" class="k2"/><use href="#oha" class="k1"/><use href="#oib" class="k2"/><use href="#oka" class="k3"/><use href="#ola" class="k2"/><use href="#ibb" class="y"/><use href="#ida" class="g"/><use href="#ieb" class="y"/><use href="#iga" class="x"/><use href="#iha" class="g"/><use href="#iic" class="y"/><use href="#ilb" class="g"/><use href="#S"/><use href="#L"/></g>
<g transform="translate(2987.8)"><use href="#oaa" class="k4"/><use href="#obb" class="k5"/><use href="#oda" class="k4"/><use href="#oea" class="k3"/><use href="#ofb" class="k4"/><use href="#ohb" class="k3"/><use href="#ojb" class="k5"/><use href="#ola" class="k3"/><use href="#ibe" class="y"/><use href="#igb" class="x"/><use href="#iic" class="y"/><use href="#ilb" class="g"/><use href="#S"/><use href="#L"/></g>
<g transform="translate(3103.9)"><use href="#obb" class="b"/><use href="#oia" class="a"/><use href="#olb" class="a"/><use href="#iga" class="y"/><use href="#iha" class="x"/><use href="#iij" class="g"/><use href="#S"/><use href="#L"/></g>
<g transform="translate(3220)"><use href="#oab" class="a"/><use href="#oca" class="b"/><use href="#odb" class="k1"/><use href="#ohb" class="k1"/><use href="#ojb" class="a"/><use href="#ica" class="y"/><use href="#idk" class="x"/><use href="#S"/><use href="#L"/></g>
<g transform="translate(3336.1)"><use href="#oac" class="b"/><use href="#odb" class="k2"/><use href="#ofb" class="k1"/><use href="#oha" class="k2"/><use href="#oib" class="a"/><use href="#oka" class="b"/><use href="#ola" class="a"/><use href="#iaa" class="g"/><use href="#ibb" class="y"/><use href="#ide" class="x"/><use href="#iia" class="y"/><use href="#ijc" class="x"/><use href="#S"/><use href="#L"/></g>
<g transform="translate(3452.2)"><use href="#odd" class="k2"/><use href="#ohh" class="k1"/><use href="#idb" class="x"/><use href="#ifa" class="g"/><use href="#igb" class="x"/><use href="#iig" class="g"/><use href="#S"/><use href="#L"/></g>
<g transform="translate(3568.4)"><use href="#odb" class="k1"/><use href="#oga" class="a"/><use href="#ohb" class="k1"/><use href="#ola" class="k1"/><use href="#ial" class="x"/><use href="#S"/><use href="#L"/></g>
</g>
<g transform="translate(0,2533.4)">
<g transform="translate(317)"><use href="#oda" class="k1"/><use href="#oea" class="k2"/><use href="#ofa" class="a"/><use href="#oga" class="b"/><use href="#ohh" class="k5"/><use href="#ifa" class="g"/><use href="#igk" class="y"/><use href="#S"/><use href="#L"/></g>
<g transform="translate(433.1)"><use href="#oda" class="k1"/><use href="#ofb" class="a"/><use href="#ohh" class="k5"/><use href="#ifb" class="x"/><use href="#ihj" class="y"/><use href="#S"/><use href="#L"/></g>
<g transform="translate(549.2)"><use href="#oaa" class="k3"/><use href="#oba" class="k4"/><use href="#oca" class="k3"/><use href="#odd" class="k2"/><use href="#ohb" class="k3"/><use href="#ojc" class="k4"/><use href="#iga" class="x"/><use href="#ihk" class="y"/><use href="#S"/><use href="#L"/></g>
<g transform="translate(665.4)"><use href="#oda" class="a"/><use href="#oeb" class="b"/><use href="#oga" class="c"/><use href="#ohh" class="k5"/><use href="#ifb" class="x"/><use href="#ihj" class="y"/><use href="#S"/><use href="#L"/></g>
<g transform="translate(781.5)"><use href="#oaa" class="k2"/><use href="#obb" class="k3"/><use href="#odb" class="k4"/><use href="#ofa" class="k2"/><use href="#oga" class="k3"/><use href="#ohb" class="k4"/><use href="#ojc" class="k3"/><use href="#ifa" class="y"/><use href="#igk" class="g"/><use href="#S"/><use href="#L"/></g>
<g transform="translate(897.6)"><use href="#oae" class="k3"/><use href="#ofb" class="k2"/><use href="#ohb" class="k3"/><use href="#ola" class="k4"/><use href="#icd" class="y"/><use href="#iga" class="x"/><use href="#ihb" class="g"/><use href="#ijb" class="y"/><use href="#ilc" class="g"/><use href="#S"/><use href="#L"/></g>
<g transform="translate(1013.7)"><use href="#obb" class="k2"/><use href="#odb" class="k3"/><use href="#ofa" class="a"/><use href="#oga" class="b"/><use href="#ohb" class="k3"/><use href="#ojb" class="b"/><use href="#olb" class="k3"/><use href="#icd" class="y"/><use href="#iga" class="x"/><use href="#ihb" class="g"/><use href="#ijb" class="y"/><use href="#ilc" class="g"/><use href="#S"/><use href="#L"/></g>
<g transform="translate(1129.8)"><use href="#obj" class="k5"/><use href="#olb" class="k3"/><use href="#iab" class="g"/><use href="#ica" class="y"/><use href="#ida" class="x"/><use href="#ieb" class="g"/><use href="#igb" class="x"/><use href="#iic" class="g"/><use href="#ila" class="x"/><use href="#S"/><use href="#L"/></g>
<g transform="translate(1246)"><use href="#oak" class="k5"/><use href="#ola" class="k4"/><use href="#iab" class="g"/><use href="#ica" class="y"/><use href="#ida" class="x"/><use href="#iea" class="g"/><use href="#ifa" class="y"/><use href="#iga" class="x"/><use href="#ihb" class="g"/><use href="#ijb" class="y"/><use href="#ila" class="x"/><use href="#S"/><use href="#L"/></g>
<g transform="translate(1362.1)"><use href="#oal" class="k5"/><use href="#iab" class="g"/><use href="#ica" class="y"/><use href="#ida" class="x"/><use href="#iea" class="g"/><use href="#ifc" class="x"/><use href="#iia" class="g"/><use href="#ijb" class="y"/><use href="#ila" class="x"/><use href="#S"/><use href="#L"/></g>
<g transform="translate(1478.2)"><use href="#oca" class="b"/><use href="#odf" class="e"/><use href="#ojb" class="d"/><use href="#olc" class="e"/><use href="#ibb" class="g"/><use href="#idb" class="x"/><use href="#ifa" class="g"/><use href="#igb" class="x"/><use href="#iib" class="g"/><use href="#ika" class="y"/><use href="#ilb" class="x"/><use href="#S"/><use href="#L"/></g>
<g transform="translate(1594.3)"><use href="#oac" class="k5"/><use href="#odb" class="b"/><use href="#ofa" class="k4"/><use href="#oga" class="k5"/><use href="#ohb" class="k3"/><use href="#oja" class="k2"/><use href="#oka" class="k3"/><use href="#ola" class="k4"/><use href="#ibb" class="y"/><use href="#idf" class="x"/><use href="#ijb" class="y"/><use href="#ilb" class="x"/><use href="#S"/><use href="#L"/></g>
<g transform="translate(1710.4)"><use href="#oac" class="k5"/><use href="#odb" class="c"/><use href="#ofa" class="k4"/><use href="#oga" class="k5"/><use href="#ohd" class="k2"/><use href="#ola" class="k4"/><use href="#ial" class="x"/><use href="#S"/><use href="#L"/></g>
<g transform="translate(1826.6)"><use href="#oaa" class="b"/><use href="#obb" class="e"/><use href="#oda" class="k1"/><use href="#ofa" class="a"/><use href="#oga" class="b"/><use href="#ohc" class="c"/><use href="#oka" class="e"/><use href="#ola" class="c"/><use href="#iac" class="g"/><use href="#ida" class="x"/><use href="#iea" class="g"/><use href="#ifa" class="y"/><use href="#igb" class="x"/><use href="#iia" class="g"/><use href="#ijb" class="y"/><use href="#ila" class="x"/><use href="#S"/><use href="#L"/></g>
<g transform="translate(1942.7)"><use href="#ofa" class="a"/><use href="#oga" class="k3"/><use href="#ohj" class="e"/><use href="#ial" class="x"/><use href="#S"/><use href="#L"/></g>
<g transform="translate(2058.8)"><use href="#oca" class="a"/><use href="#odb" class="k2"/><use href="#ofb" class="k3"/><use href="#oha" class="k1"/><use href="#oja" class="k2"/><use href="#oka" class="k1"/><use href="#olc" class="b"/><use href="#ibb" class="g"/><use href="#ida" class="x"/><use href="#ieb" class="g"/><use href="#igb" class="x"/><use href="#iia" class="g"/><use href="#ijb" class="y"/><use href="#ilb" class="x"/><use href="#S"/><use href="#L"/></g>
<g transform="translate(2174.9)"><use href="#oea" class="b"/><use href="#ofb" class="k4"/><use href="#oha" class="d"/><use href="#oic" class="c"/><use href="#old" class="e"/><use href="#ibb" class="g"/><use href="#idg" class="x"/><use href="#ika" class="y"/><use href="#ilb" class="x"/><use href="#S"/><use href="#L"/></g>
<g transform="translate(2291)"><use href="#ofa" class="c"/><use href="#oga" class="k2"/><use href="#ohj" class="e"/><use href="#ial" class="x"/><use href="#S"/><use href="#L"/></g>
<g transform="translate(2407.2)"><use href="#obb" class="c"/><use href="#oea" class="a"/><use href="#ofd" class="b"/><use href="#oja" class="c"/><use href="#okc" class="b"/><use href="#ibb" class="g"/><use href="#idf" class="x"/><use href="#ijb" class="y"/><use href="#ilb" class="x"/><use href="#S"/><use href="#L"/></g>
<g transform="translate(2523.3)"><use href="#oaa" class="a"/><use href="#oda" class="k4"/><use href="#oec" class="k5"/><use href="#ohd" class="k3"/><use href="#ola" class="b"/><use href="#iac" class="g"/><use href="#idc" class="y"/><use href="#igb" class="x"/><use href="#iia" class="g"/><use href="#ijb" class="y"/><use href="#ila" class="x"/><use href="#S"/><use href="#L"/></g>
<g transform="translate(2639.4)"><use href="#oda" class="k3"/><use href="#oea" class="k5"/><use href="#ofa" class="k4"/><use href="#oga" class="k5"/><use href="#oha" class="k1"/><use href="#oia" class="k2"/><use href="#ojb" class="k3"/><use href="#old" class="c"/><use href="#ibb" class="g"/><use href="#idj" class="x"/><use href="#S"/><use href="#L"/></g>
<g transform="translate(2755.5)"><use href="#obb" class="b"/><use href="#oda" class="k2"/><use href="#oea" class="k1"/><use href="#ofb" class="a"/><use href="#oha" class="k1"/><use href="#ojb" class="b"/><use href="#iaa" class="g"/><use href="#ibb" class="y"/><use href="#ida" class="x"/><use href="#ieb" class="y"/><use href="#igb" class="x"/><use href="#iia" class="g"/><use href="#ijb" class="y"/><use href="#ila" class="x"/><use href="#S"/><use href="#L"/></g>
<g transform="translate(2871.6)"><use href="#dbb" class="y"/><use href="#dda" class="g"/><use href="#deb" class="y"/><use href="#dga" class="x"/><use href="#dha" class="g"/><use href="#dic" class="y"/><use href="#dlb" class="g"/><use href="#T"/><use href="#L"/></g>
<g transform="translate(2987.8)"><use href="#oaa" class="k1"/><use href="#obb" class="k2"/><use href="#odb" class="k3"/><use href="#ofc" class="k2"/><use href="#oia" class="k3"/><use href="#oja" class="k2"/><use href="#oka" class="k4"/><use href="#iab" class="g"/><use href="#ica" class="y"/><use href="#ida" class="g"/><use href="#ieh" class="y"/><use href="#S"/><use href="#L"/></g>
<g transform="translate(3103.9)"><use href="#oca" class="a"/><use href="#oeb" class="a"/><use href="#oha" class="a"/><use href="#oia" class="b"/><use href="#olc" class="b"/><use href="#iaf" class="g"/><use href="#iga" class="y"/><use href="#iha" class="x"/><use href="#iib" class="g"/><use href="#ikb" class="y"/><use href="#S"/><use href="#L"/></g>
<g transform="translate(3220)"><use href="#oec" class="k1"/><use href="#ojc" class="k1"/><use href="#ibb" class="y"/><use href="#idb" class="g"/><use href="#ifa" class="y"/><use href="#igc" class="g"/><use href="#ijb" class="y"/><use href="#ilb" class="g"/><use href="#S"/><use href="#L"/></g>
<g transform="translate(3336.1)"><use href="#obb" class="k1"/><use href="#odb" class="k2"/><use href="#ofb" class="k1"/><use href="#oha" class="k3"/><use href="#oia" class="k2"/><use href="#ojc" class="k1"/><use href="#ibb" class="y"/><use href="#idb" class="g"/><use href="#ifa" class="y"/><use href="#iga" class="x"/><use href="#ihb" class="g"/><use href="#ijb" class="y"/><use href="#ilb" class="g"/><use href="#S"/><use href="#L"/></g>
<g transform="translate(3452.2)"><use href="#oaa" class="b"/><use href="#oda" class="a"/><use href="#oib" class="a"/><use href="#ola" class="a"/><use href="#iac" class="g"/><use href="#idb" class="y"/><use href="#ifa" class="g"/><use href="#iga" class="x"/><use href="#ihb" class="y"/><use href="#ijb" class="g"/><use href="#ila" class="y"/><use href="#S"/><use href="#L"/></g>
<g transform="translate(3568.4)"><use href="#oba" class="k1"/><use href="#odb" class="k1"/><use href="#ohb" class="k1"/><use href="#iaa" class="y"/><use href="#iba" class="g"/><use href="#icb" class="y"/><use href="#iea" class="g"/><use href="#ifb" class="y"/><use href="#iha" class="x"/><use href="#iib" class="y"/><use href="#ikb" class="x"/><use href="#S"/><use href="#L"/></g>
</g>
<g transform="translate(0,2657.4)">
<g transform="translate(317)"><use href="#oea" class="a"/><use href="#ofa" class="c"/><use href="#oga" class="d"/><use href="#ohc" class="k4"/><use href="#oka" class="k3"/><use href="#old" class="k5"/><use href="#ifa" class="g"/><use href="#igk" class="y"/><use href="#S"/><use href="#L"/></g>
<g transform="translate(433.1)"><use href="#oea" class="b"/><use href="#ohh" class="k5"/><use href="#ida" class="x"/><use href="#iea" class="y"/><use href="#ifb" class="x"/><use href="#ihh" class="y"/><use href="#S"/><use href="#L"/></g>
<g transform="translate(549.2)"><use href="#oaa" class="k3"/><use href="#oba" class="k4"/><use href="#oca" class="k3"/><use href="#odb" class="k1"/><use href="#ofb" class="k2"/><use href="#ohb" class="k3"/><use href="#ojc" class="k4"/><use href="#iga" class="x"/><use href="#ihk" class="y"/><use href="#S"/><use href="#L"/></g>
<g transform="translate(665.4)"><use href="#oea" class="b"/><use href="#ofa" class="a"/><use href="#oga" class="b"/><use href="#ohh" class="k5"/><use href="#idd" class="x"/><use href="#ihh" class="y"/><use href="#S"/><use href="#L"/></g>
<g transform="translate(781.5)"><use href="#oaa" class="k2"/><use href="#obd" class="k3"/><use href="#ofa" class="a"/><use href="#oga" class="k1"/><use href="#oha" class="k3"/><use href="#oia" class="k4"/><use href="#ojc" class="k3"/><use href="#ida" class="y"/><use href="#iea" class="g"/><use href="#ifa" class="y"/><use href="#iga" class="x"/><use href="#ihc" class="g"/><use href="#ika" class="y"/><use href="#ild" class="g"/><use href="#S"/><use href="#L"/></g>
<g transform="translate(897.6)"><use href="#oba" class="k1"/><use href="#occ" class="k2"/><use href="#ofb" class="k1"/><use href="#ohb" class="k2"/><use href="#ojb" class="b"/><use href="#olb" class="k3"/><use href="#ibe" class="y"/><use href="#iga" class="x"/><use href="#ihb" class="g"/><use href="#ijb" class="y"/><use href="#ilb" class="g"/><use href="#S"/><use href="#L"/></g>
<g transform="translate(1013.7)"><use href="#oba" class="k1"/><use href="#ocb" class="k2"/><use href="#oea" class="k1"/><use href="#ofa" class="a"/><use href="#oga" class="b"/><use href="#ohb" class="k2"/><use href="#ojb" class="b"/><use href="#olb" class="k3"/><use href="#ifb" class="x"/><use href="#ihb" class="g"/><use href="#ijh" class="y"/><use href="#S"/><use href="#L"/></g>
<g transform="translate(1129.8)"><use href="#oaa" class="k3"/><use href="#obb" class="k5"/><use href="#oda" class="k4"/><use href="#oec" class="k5"/><use href="#oha" class="k3"/><use href="#oic" class="k5"/><use href="#ola" class="k1"/><use href="#iaa" class="y"/><use href="#iba" class="g"/><use href="#ica" class="y"/><use href="#ida" class="x"/><use href="#ieb" class="g"/><use href="#igb" class="x"/><use href="#iic" class="g"/><use href="#ila" class="x"/><use href="#S"/><use href="#L"/></g>
<g transform="translate(1246)"><use href="#oal" class="k5"/><use href="#iab" class="g"/><use href="#ica" class="y"/><use href="#idb" class="g"/><use href="#ifa" class="y"/><use href="#igb" class="x"/><use href="#iia" class="g"/><use href="#ijb" class="y"/><use href="#ila" class="x"/><use href="#S"/><use href="#L"/></g>
<g transform="translate(1362.1)"><use href="#oal" class="k5"/><use href="#iac" class="g"/><use href="#idc" class="y"/><use href="#igc" class="x"/><use href="#ijb" class="y"/><use href="#ila" class="x"/><use href="#S"/><use href="#L"/></g>
<g transform="translate(1478.2)"><use href="#oca" class="b"/><use href="#odg" class="e"/><use href="#oka" class="d"/><use href="#olc" class="e"/><use href="#iac" class="g"/><use href="#ida" class="x"/><use href="#ieb" class="y"/><use href="#igb" class="x"/><use href="#iic" class="g"/><use href="#ila" class="x"/><use href="#S"/><use href="#L"/></g>
<g transform="translate(1594.3)"><use href="#oac" class="k5"/><use href="#odb" class="k1"/><use href="#ofb" class="k5"/><use href="#oha" class="k3"/><use href="#oib" class="k4"/><use href="#oka" class="k5"/><use href="#ola" class="k4"/><use href="#iac" class="y"/><use href="#idf" class="x"/><use href="#ijb" class="y"/><use href="#ila" class="x"/><use href="#S"/><use href="#L"/></g>
<g transform="translate(1710.4)"><use href="#oac" class="k5"/><use href="#oda" class="b"/><use href="#ofb" class="k5"/><use href="#ohc" class="k3"/><use href="#okb" class="k4"/><use href="#ibb" class="y"/><use href="#idj" class="x"/><use href="#S"/><use href="#L"/></g>
<g transform="translate(1826.6)"><use href="#obb" class="e"/><use href="#odb" class="k3"/><use href="#ofa" class="a"/><use href="#ogc" class="b"/><use href="#oja" class="c"/><use href="#oka" class="e"/><use href="#olb" class="d"/><use href="#iac" class="g"/><use href="#ida" class="x"/><use href="#iea" class="g"/><use href="#ifa" class="y"/><use href="#igb" class="x"/><use href="#iia" class="g"/><use href="#ijb" class="y"/><use href="#ila" class="x"/><use href="#S"/><use href="#L"/></g>
<g transform="translate(1942.7)"><use href="#ofa" class="k4"/><use href="#oga" class="k5"/><use href="#ohb" class="e"/><use href="#ojh" class="d"/><use href="#ial" class="x"/><use href="#S"/><use href="#L"/></g>
<g transform="translate(2058.8)"><use href="#oaa" class="e"/><use href="#obb" class="b"/><use href="#odc" class="k3"/><use href="#oga" class="k4"/><use href="#ohb" class="k1"/><use href="#ojb" class="k2"/><use href="#ola" class="c"/><use href="#iac" class="g"/><use href="#ida" class="x"/><use href="#ieb" class="g"/><use href="#igb" class="x"/><use href="#iia" class="y"/><use href="#ijb" class="g"/><use href="#ila" class="x"/><use href="#S"/><use href="#L"/></g>
<g transform="translate(2174.9)"><use href="#oac" class="d"/><use href="#oda" class="k3"/><use href="#oea" class="k2"/><use href="#ofb" class="k3"/><use href="#ohd" class="b"/><use href="#ola" class="c"/><use href="#ibb" class="g"/><use href="#idf" class="x"/><use href="#ijb" class="y"/><use href="#ilb" class="x"/><use href="#S"/><use href="#L"/></g>
<g transform="translate(2291)"><use href="#oda" class="d"/><use href="#oea" class="c"/><use href="#ofa" class="b"/><use href="#oga" class="k1"/><use href="#ohb" class="e"/><use href="#ojb" class="d"/><use href="#old" class="e"/><use href="#ial" class="x"/><use href="#S"/><use href="#L"/></g>
<g transform="translate(2407.2)"><use href="#obb" class="c"/><use href="#odb" class="k1"/><use href="#ofb" class="b"/><use href="#oha" class="a"/><use href="#oia" class="b"/><use href="#oja" class="d"/><use href="#oka" class="e"/><use href="#olb" class="b"/><use href="#iaa" class="y"/><use href="#ibb" class="g"/><use href="#ide" class="x"/><use href="#iia" class="g"/><use href="#ijb" class="y"/><use href="#ila" class="x"/><use href="#S"/><use href="#L"/></g>
<g transform="translate(2523.3)"><use href="#oca" class="a"/><use href="#oda" class="k4"/><use href="#oee" class="k3"/><use href="#ojb" class="k2"/><use href="#ola" class="k1"/><use href="#iac" class="g"/><use href="#idb" class="y"/><use href="#ifc" class="x"/><use href="#iia" class="g"/><use href="#ijb" class="y"/><use href="#ila" class="x"/><use href="#S"/><use href="#L"/></g>
<g transform="translate(2639.4)"><use href="#oab" class="b"/><use href="#oca" class="c"/><use href="#oda" class="k3"/><use href="#oea" class="k4"/><use href="#ofb" class="k3"/><use href="#ohd" class="k2"/><use href="#ola" class="a"/><use href="#ibb" class="g"/><use href="#idj" class="x"/><use href="#S"/><use href="#L"/></g>
<g transform="translate(2755.5)"><use href="#obb" class="c"/><use href="#oda" class="k2"/><use href="#oea" class="b"/><use href="#ofb" class="c"/><use href="#oha" class="k1"/><use href="#oia" class="b"/><use href="#oja" class="d"/><use href="#oka" class="e"/><use href="#ola" class="k1"/><use href="#iac" class="g"/><use href="#ida" class="x"/><use href="#ieb" class="y"/><use href="#igb" class="x"/><use href="#iia" class="g"/><use href="#ijb" class="y"/><use href="#ila" class="x"/><use href="#S"/><use href="#L"/></g>
<g transform="translate(2871.6)"><use href="#oaa" class="a"/><use href="#obd" class="b"/><use href="#ofa" class="c"/><use href="#oga" class="d"/><use href="#oha" class="b"/><use href="#oib" class="c"/><use href="#oka" class="d"/><use href="#ibb" class="y"/><use href="#ida" class="g"/><use href="#ieb" class="y"/><use href="#iga" class="x"/><use href="#ihd" class="y"/><use href="#ilb" class="g"/><use href="#S"/><use href="#L"/></g>
<g transform="translate(2987.8)"><use href="#daa" class="g"/><use href="#dbb" class="y"/><use href="#dda" class="x"/><use href="#dea" class="y"/><use href="#dfc" class="x"/><use href="#dib" class="y"/><use href="#dkb" class="x"/><use href="#T"/><use href="#L"/></g>
<g transform="translate(3103.9)"><use href="#oab" class="c"/><use href="#oca" class="b"/><use href="#odc" class="a"/><use href="#oga" class="k1"/><use href="#oha" class="b"/><use href="#oia" class="c"/><use href="#oja" class="a"/><use href="#oka" class="k1"/><use href="#ola" class="b"/><use href="#iac" class="g"/><use href="#ida" class="x"/><use href="#iea" class="g"/><use href="#ifa" class="y"/><use href="#igb" class="x"/><use href="#iib" class="g"/><use href="#ika" class="y"/><use href="#ila" class="x"/><use href="#S"/><use href="#L"/></g>
<g transform="translate(3220)"><use href="#oaa" class="a"/><use href="#ocb" class="a"/><use href="#oea" class="k1"/><use href="#oga" class="k3"/><use href="#ohb" class="k1"/><use href="#oja" class="k2"/><use href="#oka" class="k3"/><use href="#iaa" class="g"/><use href="#ibb" class="y"/><use href="#ida" class="x"/><use href="#iea" class="g"/><use href="#ifc" class="x"/><use href="#iia" class="g"/><use href="#ija" class="y"/><use href="#ikb" class="x"/><use href="#S"/><use href="#L"/></g>
<g transform="translate(3336.1)"><use href="#oab" class="a"/><use href="#oca" class="b"/><use href="#oea" class="k1"/><use href="#oha" class="k2"/><use href="#oia" class="k3"/><use href="#ojc" class="k2"/><use href="#iaa" class="g"/><use href="#ibb" class="y"/><use href="#ida" class="x"/><use href="#iea" class="g"/><use href="#ifc" class="x"/><use href="#iia" class="g"/><use href="#ija" class="y"/><use href="#ikb" class="x"/><use href="#S"/><use href="#L"/></g>
<g transform="translate(3452.2)"><use href="#oaa" class="a"/><use href="#odb" class="a"/><use href="#ofb" class="k3"/><use href="#oha" class="b"/><use href="#oia" class="c"/><use href="#ola" class="k1"/><use href="#iac" class="g"/><use href="#ida" class="x"/><use href="#ieb" class="y"/><use href="#igb" class="x"/><use href="#iic" class="y"/><use href="#ila" class="x"/><use href="#S"/><use href="#L"/></g>
<g transform="translate(3568.4)"><use href="#oad" class="k1"/><use href="#oea" class="k3"/><use href="#ofb" class="k2"/><use href="#ohb" class="k1"/><use href="#ojc" class="k2"/><use href="#iaa" class="g"/><use href="#iba" class="y"/><use href="#icb" class="x"/><use href="#iea" class="y"/><use href="#ifc" class="x"/><use href="#iic" class="y"/><use href="#ila" class="x"/><use href="#S"/><use href="#L"/></g>
</g>
<g transform="translate(0,2781.3)">
<g transform="translate(317)"><use href="#odb" class="k2"/><use href="#ohh" class="k5"/><use href="#idc" class="y"/><use href="#iga" class="x"/><use href="#ihc" class="g"/><use href="#ika" class="y"/><use href="#ild" class="g"/><use href="#S"/><use href="#L"/></g>
<g transform="translate(433.1)"><use href="#oec" class="k1"/><use href="#ohh" class="k5"/><use href="#idc" class="y"/><use href="#iga" class="x"/><use href="#iha" class="g"/><use href="#iia" class="y"/><use href="#ijf" class="g"/><use href="#S"/><use href="#L"/></g>
<g transform="translate(549.2)"><use href="#oda" class="k3"/><use href="#oea" class="k4"/><use href="#ofj" class="k5"/><use href="#iea" class="g"/><use href="#ifk" class="y"/><use href="#S"/><use href="#L"/></g>
<g transform="translate(665.4)"><use href="#odb" class="b"/><use href="#ofb" class="c"/><use href="#oha" class="k4"/><use href="#oig" class="k5"/><use href="#idb" class="y"/><use href="#ifb" class="x"/><use href="#ihb" class="y"/><use href="#ijf" class="g"/><use href="#S"/><use href="#L"/></g>
<g transform="translate(781.5)"><use href="#ofa" class="k4"/><use href="#oga" class="k3"/><use href="#ohj" class="k5"/><use href="#iae" class="g"/><use href="#ifa" class="y"/><use href="#iga" class="x"/><use href="#ihc" class="g"/><use href="#ika" class="y"/><use href="#ila" class="x"/><use href="#S"/><use href="#L"/></g>
<g transform="translate(897.6)"><use href="#oec" class="k4"/><use href="#ohi" class="k5"/><use href="#icd" class="y"/><use href="#iga" class="x"/><use href="#ihb" class="g"/><use href="#ijb" class="y"/><use href="#ilc" class="g"/><use href="#S"/><use href="#L"/></g>
<g transform="translate(1013.7)"><use href="#odb" class="k3"/><use href="#ofb" class="k2"/><use href="#ohc" class="k3"/><use href="#oka" class="k2"/><use href="#old" class="k4"/><use href="#iab" class="g"/><use href="#ica" class="y"/><use href="#ida" class="x"/><use href="#ieb" class="y"/><use href="#igb" class="x"/><use href="#iia" class="g"/><use href="#ijb" class="y"/><use href="#ila" class="x"/><use href="#S"/><use href="#L"/></g>
<g transform="translate(1129.8)"><use href="#ofb" class="k4"/><use href="#ohj" class="k5"/><use href="#ibb" class="g"/><use href="#idb" class="x"/><use href="#ifa" class="y"/><use href="#igc" class="x"/><use href="#ijb" class="g"/><use href="#ilb" class="x"/><use href="#S"/><use href="#L"/></g>
<g transform="translate(1246)"><use href="#ofb" class="k4"/><use href="#ohj" class="k5"/><use href="#ibb" class="y"/><use href="#ida" class="x"/><use href="#ieb" class="y"/><use href="#igb" class="x"/><use href="#iia" class="g"/><use href="#ijb" class="y"/><use href="#ilb" class="x"/><use href="#S"/><use href="#L"/></g>
<g transform="translate(1362.1)"><use href="#ofa" class="k3"/><use href="#oga" class="k4"/><use href="#ohj" class="k5"/><use href="#ibb" class="g"/><use href="#idf" class="x"/><use href="#ijb" class="y"/><use href="#ilb" class="x"/><use href="#S"/><use href="#L"/></g>
<g transform="translate(1478.2)"><use href="#oba" class="a"/><use href="#oca" class="k2"/><use href="#odb" class="e"/><use href="#ofa" class="d"/><use href="#oga" class="c"/><use href="#ohb" class="e"/><use href="#ojb" class="d"/><use href="#olb" class="e"/><use href="#ika" class="g"/><use href="#ilk" class="x"/><use href="#S"/><use href="#L"/></g>
<g transform="translate(1594.3)"><use href="#oaa" class="k4"/><use href="#oba" class="k2"/><use href="#oca" class="k3"/><use href="#oda" class="c"/><use href="#oea" class="d"/><use href="#ofa" class="k2"/><use href="#oga" class="k5"/><use href="#ohb" class="a"/><use href="#oja" class="b"/><use href="#oka" class="a"/><use href="#ola" class="k3"/><use href="#ica" class="y"/><use href="#idk" class="x"/><use href="#S"/><use href="#L"/></g>
<g transform="translate(1710.4)"><use href="#oba" class="k1"/><use href="#oca" class="k2"/><use href="#oda" class="d"/><use href="#oea" class="e"/><use href="#ofa" class="a"/><use href="#oga" class="k4"/><use href="#ohb" class="b"/><use href="#oja" class="c"/><use href="#oka" class="b"/><use href="#olb" class="k3"/><use href="#ial" class="x"/><use href="#S"/><use href="#L"/></g>
<g transform="translate(1826.6)"><use href="#oab" class="b"/><use href="#oca" class="c"/><use href="#oda" class="k3"/><use href="#oeb" class="k4"/><use href="#oga" class="k5"/><use href="#ohb" class="k1"/><use href="#ojb" class="k3"/><use href="#ola" class="c"/><use href="#ibb" class="g"/><use href="#idb" class="x"/><use href="#ifa" class="g"/><use href="#igc" class="x"/><use href="#ijb" class="g"/><use href="#ilb" class="x"/><use href="#S"/><use href="#L"/></g>
<g transform="translate(1942.7)"><use href="#oga" class="k5"/><use href="#ohj" class="e"/><use href="#ica" class="g"/><use href="#idk" class="x"/><use href="#S"/><use href="#L"/></g>
<g transform="translate(2058.8)"><use href="#oda" class="k1"/><use href="#ofa" class="k1"/><use href="#oga" class="k3"/><use href="#ohd" class="k2"/><use href="#old" class="k3"/><use href="#ibb" class="g"/><use href="#idg" class="x"/><use href="#ika" class="g"/><use href="#ilb" class="x"/><use href="#S"/><use href="#L"/></g>
<g transform="translate(2174.9)"><use href="#oaa" class="e"/><use href="#obb" class="b"/><use href="#odd" class="k5"/><use href="#oha" class="k2"/><use href="#oia" class="k3"/><use href="#ojb" class="k5"/><use href="#ola" class="d"/><use href="#ica" class="g"/><use href="#idc" class="x"/><use href="#iga" class="y"/><use href="#ihc" class="x"/><use href="#ika" class="g"/><use href="#ilc" class="x"/><use href="#S"/><use href="#L"/></g>
<g transform="translate(2291)"><use href="#oda" class="b"/><use href="#oea" class="k3"/><use href="#ofb" class="k5"/><use href="#oha" class="d"/><use href="#oia" class="c"/><use href="#oja" class="k3"/><use href="#oka" class="k5"/><use href="#old" class="e"/><use href="#ial" class="x"/><use href="#S"/><use href="#L"/></g>
<g transform="translate(2407.2)"><use href="#oaa" class="a"/><use href="#oda" class="k4"/><use href="#oec" class="k5"/><use href="#ohb" class="k3"/><use href="#ojb" class="k5"/><use href="#ibb" class="g"/><use href="#idf" class="x"/><use href="#ijb" class="g"/><use href="#ilb" class="x"/><use href="#S"/><use href="#L"/></g>
<g transform="translate(2523.3)"><use href="#oak" class="k5"/><use href="#ola" class="k3"/><use href="#iad" class="g"/><use href="#iea" class="y"/><use href="#ifa" class="g"/><use href="#igb" class="x"/><use href="#iic" class="g"/><use href="#ila" class="x"/><use href="#S"/><use href="#L"/></g>
<g transform="translate(2639.4)"><use href="#oaa" class="k2"/><use href="#obj" class="k5"/><use href="#ola" class="k1"/><use href="#ibb" class="g"/><use href="#ide" class="x"/><use href="#iic" class="g"/><use href="#ilb" class="x"/><use href="#S"/><use href="#L"/></g>
<g transform="translate(2755.5)"><use href="#odd" class="k2"/><use href="#ohh" class="k3"/><use href="#iac" class="g"/><use href="#ida" class="x"/><use href="#iec" class="y"/><use href="#iha" class="x"/><use href="#iib" class="g"/><use href="#ika" class="y"/><use href="#ila" class="x"/><use href="#S"/><use href="#L"/></g>
<g transform="translate(2871.6)"><use href="#obb" class="k5"/><use href="#odb" class="k2"/><use href="#ofd" class="k3"/><use href="#oja" class="k4"/><use href="#oka" class="k5"/><use href="#olb" class="k4"/><use href="#ibf" class="y"/><use href="#ihb" class="g"/><use href="#ijb" class="y"/><use href="#ilb" class="g"/><use href="#S"/><use href="#L"/></g>
<g transform="translate(2987.8)"><use href="#oda" class="k3"/><use href="#oea" class="k2"/><use href="#ofb" class="k3"/><use href="#oha" class="k4"/><use href="#oig" class="k5"/><use href="#idc" class="y"/><use href="#iga" class="x"/><use href="#ihb" class="g"/><use href="#ijb" class="y"/><use href="#ild" class="g"/><use href="#S"/><use href="#L"/></g>
<g transform="translate(3103.9)"><use href="#dbb" class="g"/><use href="#ddg" class="x"/><use href="#dka" class="g"/><use href="#dlb" class="x"/><use href="#T"/><use href="#L"/></g>
<g transform="translate(3220)"><use href="#oab" class="a"/><use href="#oda" class="k1"/><use href="#ojb" class="a"/><use href="#ica" class="y"/><use href="#idk" class="x"/><use href="#S"/><use href="#L"/></g>
<g transform="translate(3336.1)"><use href="#oba" class="b"/><use href="#occ" class="k1"/><use href="#ofb" class="a"/><use href="#oia" class="a"/><use href="#ojb" class="k1"/><use href="#olb" class="a"/><use href="#iaa" class="g"/><use href="#ibb" class="y"/><use href="#ide" class="x"/><use href="#iia" class="g"/><use href="#ijc" class="x"/><use href="#S"/><use href="#L"/></g>
<g transform="translate(3452.2)"><use href="#oba" class="k1"/><use href="#oea" class="k2"/><use href="#oia" class="k1"/><use href="#ola" class="k1"/><use href="#ibb" class="g"/><use href="#idj" class="x"/><use href="#S"/><use href="#L"/></g>
<g transform="translate(3568.4)"><use href="#oda" class="k1"/><use href="#oga" class="a"/><use href="#oka" class="a"/><use href="#ola" class="k1"/><use href="#ial" class="x"/><use href="#S"/><use href="#L"/></g>
</g>
<g transform="translate(0,2905.3)">
<g transform="translate(317)"><use href="#oda" class="k1"/><use href="#oea" class="k2"/><use href="#ofb" class="a"/><use href="#ohh" class="k5"/><use href="#ida" class="y"/><use href="#iea" class="g"/><use href="#ifa" class="y"/><use href="#iga" class="x"/><use href="#ihc" class="g"/><use href="#ika" class="y"/><use href="#ild" class="g"/><use href="#S"/><use href="#L"/></g>
<g transform="translate(433.1)"><use href="#ofb" class="a"/><use href="#ohh" class="k5"/><use href="#idb" class="y"/><use href="#ifb" class="x"/><use href="#ihh" class="g"/><use href="#S"/><use href="#L"/></g>
<g transform="translate(549.2)"><use href="#oda" class="k4"/><use href="#oec" class="k3"/><use href="#ohh" class="k5"/><use href="#idf" class="g"/><use href="#ijf" class="y"/><use href="#S"/><use href="#L"/></g>
<g transform="translate(665.4)"><use href="#odb" class="b"/><use href="#ofa" class="c"/><use href="#oga" class="d"/><use href="#oha" class="k3"/><use href="#oig" class="k5"/><use href="#ida" class="y"/><use href="#iec" class="x"/><use href="#ihh" class="g"/><use href="#S"/><use href="#L"/></g>
<g transform="translate(781.5)"><use href="#oad" class="k5"/><use href="#oea" class="k4"/><use href="#ofb" class="k3"/><use href="#oha" class="k4"/><use href="#oib" class="k5"/><use href="#okb" class="k4"/><use href="#iae" class="g"/><use href="#ifc" class="x"/><use href="#iic" class="g"/><use href="#ila" class="x"/><use href="#S"/><use href="#L"/></g>
<g transform="translate(897.6)"><use href="#oal" class="k5"/><use href="#idb" class="y"/><use href="#ifb" class="x"/><use href="#ihc" class="g"/><use href="#ika" class="y"/><use href="#ild" class="g"/><use href="#S"/><use href="#L"/></g>
<g transform="translate(1013.7)"><use href="#oac" class="k5"/><use href="#odg" class="k3"/><use href="#oka" class="k2"/><use href="#ola" class="k4"/><use href="#iac" class="g"/><use href="#ida" class="x"/><use href="#iea" class="y"/><use href="#ifc" class="x"/><use href="#iib" class="g"/><use href="#ikb" class="x"/><use href="#S"/><use href="#L"/></g>
<g transform="translate(1129.8)"><use href="#oaa" class="k3"/><use href="#obb" class="k5"/><use href="#oda" class="b"/><use href="#oea" class="k2"/><use href="#ofb" class="k3"/><use href="#oha" class="k2"/><use href="#oia" class="k3"/><use href="#ojb" class="k5"/><use href="#ola" class="k1"/><use href="#ial" class="x"/><use href="#S"/><use href="#L"/></g>
<g transform="translate(1246)"><use href="#odc" class="k4"/><use href="#ogi" class="k5"/><use href="#ibb" class="g"/><use href="#idj" class="x"/><use href="#S"/><use href="#L"/></g>
<g transform="translate(1362.1)"><use href="#odd" class="k4"/><use href="#ohh" class="k5"/><use href="#ial" class="x"/><use href="#S"/><use href="#L"/></g>
<g transform="translate(1478.2)"><use href="#odb" class="d"/><use href="#ofj" class="e"/><use href="#ial" class="x"/><use href="#S"/><use href="#L"/></g>
<g transform="translate(1594.3)"><use href="#oab" class="k3"/><use href="#oca" class="k4"/><use href="#oda" class="d"/><use href="#oea" class="c"/><use href="#ofa" class="k2"/><use href="#oga" class="k4"/><use href="#ohd" class="b"/><use href="#ola" class="k2"/><use href="#ial" class="x"/><use href="#S"/><use href="#L"/></g>
<g transform="translate(1710.4)"><use href="#oba" class="k2"/><use href="#oca" class="k3"/><use href="#odb" class="e"/><use href="#ofa" class="b"/><use href="#oga" class="k3"/><use href="#oha" class="b"/><use href="#oic" class="c"/><use href="#olb" class="k3"/><use href="#ial" class="x"/><use href="#S"/><use href="#L"/></g>
<g transform="translate(1826.6)"><use href="#oca" class="c"/><use href="#oda" class="k2"/><use href="#oea" class="k3"/><use href="#ofc" class="k2"/><use href="#oia" class="k1"/><use href="#ojb" class="k2"/><use href="#olc" class="b"/><use href="#ica" class="g"/><use href="#idk" class="x"/><use href="#S"/><use href="#L"/></g>
<g transform="translate(1942.7)"><use href="#ofa" class="c"/><use href="#oga" class="k1"/><use href="#ohj" class="e"/><use href="#ial" class="x"/><use href="#S"/><use href="#L"/></g>
<g transform="translate(2058.8)"><use href="#oba" class="k3"/><use href="#ocb" class="k2"/><use href="#oec" class="k1"/><use href="#ohf" class="k2"/><use href="#ial" class="x"/><use href="#S"/><use href="#L"/></g>
<g transform="translate(2174.9)"><use href="#oaa" class="d"/><use href="#obb" class="c"/><use href="#odd" class="k5"/><use href="#ohb" class="k3"/><use href="#ojb" class="k5"/><use href="#ola" class="e"/><use href="#ial" class="x"/><use href="#S"/><use href="#L"/></g>
<g transform="translate(2291)"><use href="#oda" class="b"/><use href="#oea" class="k3"/><use href="#ofa" class="k1"/><use href="#oga" class="k5"/><use href="#oha" class="d"/><use href="#oia" class="c"/><use href="#oja" class="a"/><use href="#oka" class="k3"/><use href="#old" class="e"/><use href="#ial" class="x"/><use href="#S"/><use href="#L"/></g>
<g transform="translate(2407.2)"><use href="#oab" class="b"/><use href="#oca" class="k1"/><use href="#odb" class="k5"/><use href="#ofb" class="k4"/><use href="#ohc" class="k3"/><use href="#oka" class="k4"/><use href="#ola" class="a"/><use href="#ial" class="x"/><use href="#S"/><use href="#L"/></g>
<g transform="translate(2523.3)"><use href="#oaa" class="k4"/><use href="#obj" class="k5"/><use href="#ola" class="k3"/><use href="#iac" class="g"/><use href="#ida" class="x"/><use href="#iea" class="g"/><use href="#ifc" class="x"/><use href="#iib" class="g"/><use href="#ikb" class="x"/><use href="#S"/><use href="#L"/></g>
<g transform="translate(2639.4)"><use href="#oaa" class="k1"/><use href="#oba" class="k2"/><use href="#oca" class="k3"/><use href="#odh" class="k5"/><use href="#ial" class="x"/><use href="#S"/><use href="#L"/></g>
<g transform="translate(2755.5)"><use href="#odg" class="k4"/><use href="#oke" class="k3"/><use href="#ibb" class="g"/><use href="#ide" class="x"/><use href="#iia" class="g"/><use href="#ija" class="y"/><use href="#ikc" class="x"/><use href="#S"/><use href="#L"/></g>
<g transform="translate(2871.6)"><use href="#odf" class="k3"/><use href="#oja" class="k4"/><use href="#oka" class="k5"/><use href="#old" class="k4"/><use href="#ibc" class="y"/><use href="#iea" class="g"/><use href="#ifa" class="y"/><use href="#iga" class="x"/><use href="#ihd" class="y"/><use href="#ilb" class="g"/><use href="#S"/><use href="#L"/></g>
<g transform="translate(2987.8)"><use href="#oac" class="k5"/><use href="#odb" class="k3"/><use href="#ofe" class="k4"/><use href="#oka" class="k5"/><use href="#ola" class="k4"/><use href="#iaa" class="g"/><use href="#ibd" class="y"/><use href="#ifc" class="x"/><use href="#iia" class="g"/><use href="#ija" class="y"/><use href="#ikb" class="x"/><use href="#S"/><use href="#L"/></g>
<g transform="translate(3103.9)"><use href="#oaa" class="k1"/><use href="#odb" class="k1"/><use href="#oha" class="k2"/><use href="#oia" class="k1"/><use href="#oka" class="k1"/><use href="#ola" class="k2"/><use href="#ibb" class="g"/><use href="#idj" class="x"/><use href="#S"/><use href="#L"/></g>
<g transform="translate(3220)"><use href="#dac" class="g"/><use href="#dde" class="x"/><use href="#dia" class="g"/><use href="#djc" class="x"/><use href="#T"/><use href="#L"/></g>
<g transform="translate(3336.1)"><use href="#oaa" class="b"/><use href="#oba" class="a"/><use href="#ohc" class="k2"/><use href="#oka" class="k1"/><use href="#iaa" class="g"/><use href="#ibb" class="y"/><use href="#idd" class="x"/><use href="#ihb" class="y"/><use href="#ijc" class="x"/><use href="#S"/><use href="#L"/></g>
<g transform="translate(3452.2)"><use href="#oaa" class="b"/><use href="#oba" class="k1"/><use href="#odb" class="b"/><use href="#ofa" class="a"/><use href="#oha" class="a"/><use href="#oka" class="k1"/><use href="#ial" class="x"/><use href="#S"/><use href="#L"/></g>
<g transform="translate(3568.4)"><use href="#oca" class="a"/><use href="#oda" class="b"/><use href="#oea" class="a"/><use href="#ohb" class="a"/><use href="#ial" class="x"/><use href="#S"/><use href="#L"/></g>
</g>
<g transform="translate(0,3029.3)">
<g transform="translate(317)"><use href="#oea" class="k1"/><use href="#ofa" class="a"/><use href="#oga" class="b"/><use href="#ohd" class="k3"/><use href="#old" class="k5"/><use href="#iac" class="y"/><use href="#ida" class="g"/><use href="#ieb" class="y"/><use href="#iga" class="x"/><use href="#iha" class="g"/><use href="#iic" class="y"/><use href="#ila" class="g"/><use href="#S"/><use href="#L"/></g>
<g transform="translate(433.1)"><use href="#ofb" class="a"/><use href="#ohd" class="k4"/><use href="#old" class="k5"/><use href="#iae" class="y"/><use href="#ifb" class="x"/><use href="#ihd" class="y"/><use href="#ila" class="g"/><use href="#S"/><use href="#L"/></g>
<g transform="translate(549.2)"><use href="#oaa" class="k3"/><use href="#oba" class="k4"/><use href="#occ" class="k2"/><use href="#ofb" class="k3"/><use href="#oha" class="k4"/><use href="#oia" class="k3"/><use href="#ojc" class="k4"/><use href="#ifa" class="g"/><use href="#iga" class="x"/><use href="#iha" class="g"/><use href="#iia" class="y"/><use href="#ija" class="g"/><use href="#ikg" class="y"/><use href="#S"/><use href="#L"/></g>
<g transform="translate(665.4)"><use href="#oda" class="c"/><use href="#oeb" class="b"/><use href="#oga" class="c"/><use href="#ohd" class="k3"/><use href="#old" class="k5"/><use href="#iaa" class="g"/><use href="#ibd" class="y"/><use href="#ifb" class="x"/><use href="#ihe" class="y"/><use href="#S"/><use href="#L"/></g>
<g transform="translate(781.5)"><use href="#odd" class="k3"/><use href="#oha" class="k4"/><use href="#oia" class="k5"/><use href="#ojb" class="k4"/><use href="#old" class="k5"/><use href="#iaa" class="g"/><use href="#ibe" class="y"/><use href="#iga" class="x"/><use href="#ihd" class="g"/><use href="#ila" class="y"/><use href="#S"/><use href="#L"/></g>
<g transform="translate(897.6)"><use href="#obd" class="k4"/><use href="#ofb" class="k5"/><use href="#oha" class="k4"/><use href="#oic" class="k3"/><use href="#olb" class="k5"/><use href="#idc" class="y"/><use href="#iga" class="x"/><use href="#ihb" class="g"/><use href="#ijb" class="y"/><use href="#ild" class="g"/><use href="#S"/><use href="#L"/></g>
<g transform="translate(1013.7)"><use href="#ode" class="k3"/><use href="#oia" class="k2"/><use href="#ojb" class="k1"/><use href="#old" class="k4"/><use href="#idc" class="y"/><use href="#iga" class="x"/><use href="#ihb" class="g"/><use href="#ijb" class="y"/><use href="#ild" class="g"/><use href="#S"/><use href="#L"/></g>
<g transform="translate(1129.8)"><use href="#oaa" class="k4"/><use href="#obb" class="k5"/><use href="#oda" class="b"/><use href="#oea" class="k1"/><use href="#ofb" class="k5"/><use href="#oha" class="k2"/><use href="#oic" class="k5"/><use href="#ola" class="k1"/><use href="#ibb" class="g"/><use href="#ide" class="x"/><use href="#iia" class="y"/><use href="#ijb" class="g"/><use href="#ilb" class="x"/><use href="#S"/><use href="#L"/></g>
<g transform="translate(1246)"><use href="#oda" class="k4"/><use href="#oek" class="k5"/><use href="#iac" class="g"/><use href="#ida" class="x"/><use href="#ieb" class="y"/><use href="#igb" class="x"/><use href="#iib" class="g"/><use href="#ika" class="y"/><use href="#ila" class="x"/><use href="#S"/><use href="#L"/></g>
<g transform="translate(1362.1)"><use href="#odb" class="k4"/><use href="#ofj" class="k5"/><use href="#ibb" class="g"/><use href="#ide" class="x"/><use href="#iia" class="g"/><use href="#ija" class="y"/><use href="#ikc" class="x"/><use href="#S"/><use href="#L"/></g>
<g transform="translate(1478.2)"><use href="#oda" class="b"/><use href="#oea" class="c"/><use href="#ofa" class="d"/><use href="#oga" class="e"/><use href="#ohc" class="d"/><use href="#oke" class="e"/><use href="#ica" class="g"/><use href="#idk" class="x"/><use href="#S"/><use href="#L"/></g>
<g transform="translate(1594.3)"><use href="#oaa" class="k2"/><use href="#oba" class="k3"/><use href="#oca" class="k5"/><use href="#oea" class="k1"/><use href="#ofb" class="k5"/><use href="#ohb" class="c"/><use href="#okb" class="k1"/><use href="#ica" class="y"/><use href="#idk" class="x"/><use href="#S"/><use href="#L"/></g>
<g transform="translate(1710.4)"><use href="#oaa" class="k2"/><use href="#oba" class="k3"/><use href="#oca" class="k4"/><use href="#oda" class="d"/><use href="#oea" class="c"/><use href="#ofb" class="k5"/><use href="#ohb" class="c"/><use href="#oja" class="b"/><use href="#oka" class="a"/><use href="#ola" class="k1"/><use href="#ial" class="x"/><use href="#S"/><use href="#L"/></g>
<g transform="translate(1826.6)"><use href="#oac" class="a"/><use href="#oda" class="k2"/><use href="#oea" class="k3"/><use href="#ofb" class="k1"/><use href="#oha" class="k2"/><use href="#oib" class="k3"/><use href="#oka" class="k4"/><use href="#ola" class="k1"/><use href="#iaa" class="g"/><use href="#ibb" class="y"/><use href="#ide" class="x"/><use href="#iib" class="g"/><use href="#ika" class="y"/><use href="#ila" class="x"/><use href="#S"/><use href="#L"/></g>
<g transform="translate(1942.7)"><use href="#oeb" class="c"/><use href="#oga" class="k5"/><use href="#ohi" class="e"/><use href="#ial" class="x"/><use href="#S"/><use href="#L"/></g>
<g transform="translate(2058.8)"><use href="#obb" class="k3"/><use href="#ode" class="k2"/><use href="#oic" class="k3"/><use href="#olb" class="k2"/><use href="#ibb" class="g"/><use href="#idj" class="x"/><use href="#S"/><use href="#L"/></g>
<g transform="translate(2174.9)"><use href="#oca" class="e"/><use href="#odd" class="k5"/><use href="#ohb" class="k3"/><use href="#ojb" class="k4"/><use href="#olc" class="d"/><use href="#ica" class="g"/><use href="#idk" class="x"/><use href="#S"/><use href="#L"/></g>
<g transform="translate(2291)"><use href="#oda" class="k1"/><use href="#oeb" class="k3"/><use href="#oga" class="k5"/><use href="#oha" class="d"/><use href="#oia" class="c"/><use href="#oja" class="a"/><use href="#oka" class="k1"/><use href="#old" class="e"/><use href="#ial" class="x"/><use href="#S"/><use href="#L"/></g>
<g transform="translate(2407.2)"><use href="#oac" class="b"/><use href="#oda" class="k5"/><use href="#oea" class="k4"/><use href="#ofa" class="k3"/><use href="#oga" class="k2"/><use href="#oha" class="k3"/><use href="#oib" class="k2"/><use href="#ola" class="k2"/><use href="#ica" class="g"/><use href="#idk" class="x"/><use href="#S"/><use href="#L"/></g>
<g transform="translate(2523.3)"><use href="#oab" class="k3"/><use href="#oca" class="k2"/><use href="#odh" class="k5"/><use href="#ola" class="k4"/><use href="#iac" class="y"/><use href="#ida" class="x"/><use href="#iea" class="y"/><use href="#ifc" class="x"/><use href="#iia" class="g"/><use href="#ija" class="y"/><use href="#ikb" class="x"/><use href="#S"/><use href="#L"/></g>
<g transform="translate(2639.4)"><use href="#oba" class="k3"/><use href="#oca" class="k1"/><use href="#odh" class="k5"/><use href="#olb" class="k2"/><use href="#ial" class="x"/><use href="#S"/><use href="#L"/></g>
<g transform="translate(2755.5)"><use href="#oab" class="k3"/><use href="#oca" class="k1"/><use href="#odc" class="k4"/><use href="#oga" class="k3"/><use href="#oha" class="k4"/><use href="#oib" class="k3"/><use href="#oka" class="k2"/><use href="#ola" class="k4"/><use href="#iaa" class="y"/><use href="#ibb" class="g"/><use href="#idb" class="y"/><use href="#ifc" class="x"/><use href="#iic" class="y"/><use href="#ila" class="x"/><use href="#S"/><use href="#L"/></g>
<g transform="translate(2871.6)"><use href="#oak" class="k3"/><use href="#ola" class="k4"/><use href="#ibe" class="y"/><use href="#iga" class="x"/><use href="#iha" class="g"/><use href="#iic" class="y"/><use href="#ilb" class="g"/><use href="#S"/><use href="#L"/></g>
<g transform="translate(2987.8)"><use href="#oba" class="k5"/><use href="#oca" class="k4"/><use href="#odf" class="k3"/><use href="#ojd" class="k4"/><use href="#iaa" class="g"/><use href="#ibd" class="y"/><use href="#ifc" class="x"/><use href="#iic" class="y"/><use href="#ila" class="x"/><use href="#S"/><use href="#L"/></g>
<g transform="translate(3103.9)"><use href="#odc" class="k1"/><use href="#ogb" class="k2"/><use href="#oic" class="k1"/><use href="#ola" class="k2"/><use href="#iaa" class="y"/><use href="#ibb" class="g"/><use href="#ide" class="x"/><use href="#iia" class="g"/><use href="#ijc" class="x"/><use href="#S"/><use href="#L"/></g>
<g transform="translate(3220)"><use href="#oba" class="k1"/><use href="#oec" class="k1"/><use href="#oha" class="a"/><use href="#oja" class="a"/><use href="#olb" class="a"/><use href="#iaa" class="g"/><use href="#ibb" class="y"/><use href="#ide" class="x"/><use href="#iia" class="g"/><use href="#ijc" class="x"/><use href="#S"/><use href="#L"/></g>
<g transform="translate(3336.1)"><use href="#daa" class="g"/><use href="#dbb" class="y"/><use href="#dde" class="x"/><use href="#dia" class="y"/><use href="#djc" class="x"/><use href="#T"/><use href="#L"/></g>
<g transform="translate(3452.2)"><use href="#oba" class="k1"/><use href="#oca" class="b"/><use href="#odc" class="a"/><use href="#oga" class="k1"/><use href="#oha" class="a"/><use href="#oia" class="c"/><use href="#oja" class="a"/><use href="#oka" class="k1"/><use href="#olb" class="b"/><use href="#iac" class="y"/><use href="#ide" class="x"/><use href="#iia" class="y"/><use href="#ijc" class="x"/><use href="#S"/><use href="#L"/></g>
<g transform="translate(3568.4)"><use href="#oba" class="k1"/><use href="#oda" class="k1"/><use href="#ofb" class="k2"/><use href="#ojb" class="k1"/><use href="#iac" class="y"/><use href="#ide" class="x"/><use href="#iia" class="y"/><use href="#ijc" class="x"/><use href="#S"/><use href="#L"/></g>
</g>
<g transform="translate(0,3153.2)">
<g transform="translate(317)"><use href="#oda" class="b"/><use href="#oea" class="a"/><use href="#ofa" class="b"/><use href="#oga" class="c"/><use href="#ohb" class="k3"/><use href="#ojf" class="k5"/><use href="#idc" class="y"/><use href="#iga" class="x"/><use href="#ihh" class="g"/><use href="#S"/><use href="#L"/></g>
<g transform="translate(433.1)"><use href="#oeb" class="a"/><use href="#ohb" class="k3"/><use href="#ojf" class="k5"/><use href="#idb" class="y"/><use href="#ifb" class="x"/><use href="#ihh" class="g"/><use href="#S"/><use href="#L"/></g>
<g transform="translate(549.2)"><use href="#odd" class="k3"/><use href="#ohb" class="k4"/><use href="#ojf" class="k5"/><use href="#iae" class="y"/><use href="#ifa" class="g"/><use href="#iga" class="x"/><use href="#ihe" class="g"/><use href="#S"/><use href="#L"/></g>
<g transform="translate(665.4)"><use href="#odc" class="c"/><use href="#oga" class="d"/><use href="#oha" class="k2"/><use href="#oic" class="k3"/><use href="#old" class="k5"/><use href="#idb" class="y"/><use href="#ifb" class="x"/><use href="#ihb" class="y"/><use href="#ijf" class="g"/><use href="#S"/><use href="#L"/></g>
<g transform="translate(781.5)"><use href="#oda" class="k2"/><use href="#oeb" class="k1"/><use href="#ohc" class="k3"/><use href="#oka" class="k4"/><use href="#old" class="k5"/><use href="#ifa" class="y"/><use href="#iga" class="x"/><use href="#ihj" class="g"/><use href="#S"/><use href="#L"/></g>
<g transform="translate(897.6)"><use href="#oac" class="k4"/><use href="#odf" class="k3"/><use href="#ojb" class="k2"/><use href="#ola" class="k3"/><use href="#icd" class="y"/><use href="#iga" class="x"/><use href="#ihb" class="g"/><use href="#ijb" class="y"/><use href="#ilc" class="g"/><use href="#S"/><use href="#L"/></g>
<g transform="translate(1013.7)"><use href="#oda" class="k2"/><use href="#oga" class="a"/><use href="#ohb" class="k1"/><use href="#ojb" class="a"/><use href="#old" class="k3"/><use href="#ibe" class="y"/><use href="#iga" class="x"/><use href="#ihc" class="g"/><use href="#ika" class="y"/><use href="#ilb" class="g"/><use href="#S"/><use href="#L"/></g>
<g transform="translate(1129.8)"><use href="#oda" class="b"/><use href="#oeb" class="a"/><use href="#oga" class="b"/><use href="#ohd" class="k3"/><use href="#old" class="k5"/><use href="#ibb" class="g"/><use href="#idf" class="x"/><use href="#ijb" class="y"/><use href="#ilb" class="x"/><use href="#S"/><use href="#L"/></g>
<g transform="translate(1246)"><use href="#obb" class="k4"/><use href="#oea" class="k1"/><use href="#ofa" class="k2"/><use href="#ogc" class="k3"/><use href="#ojb" class="k2"/><use href="#olb" class="k5"/><use href="#iac" class="g"/><use href="#ide" class="x"/><use href="#iib" class="y"/><use href="#ikb" class="x"/><use href="#S"/><use href="#L"/></g>
<g transform="translate(1362.1)"><use href="#oba" class="k4"/><use href="#oca" class="k3"/><use href="#oeb" class="a"/><use href="#oga" class="k2"/><use href="#ohb" class="k3"/><use href="#oka" class="k1"/><use href="#olb" class="k5"/><use href="#iba" class="g"/><use href="#icg" class="x"/><use href="#ija" class="y"/><use href="#ikc" class="x"/><use href="#S"/><use href="#L"/></g>
<g transform="translate(1478.2)"><use href="#obb" class="c"/><use href="#odc" class="d"/><use href="#ogc" class="c"/><use href="#oja" class="b"/><use href="#oka" class="k1"/><use href="#olb" class="d"/><use href="#ial" class="x"/><use href="#S"/><use href="#L"/></g>
<g transform="translate(1594.3)"><use href="#obc" class="c"/><use href="#oea" class="d"/><use href="#oga" class="k3"/><use href="#oha" class="d"/><use href="#oia" class="c"/><use href="#oja" class="d"/><use href="#oka" class="c"/><use href="#olb" class="a"/><use href="#ial" class="x"/><use href="#S"/><use href="#L"/></g>
<g transform="translate(1710.4)"><use href="#obb" class="c"/><use href="#odb" class="e"/><use href="#ofa" class="d"/><use href="#oha" class="e"/><use href="#oia" class="d"/><use href="#ojb" class="e"/><use href="#olb" class="b"/><use href="#ial" class="x"/><use href="#S"/><use href="#L"/></g>
<g transform="translate(1826.6)"><use href="#oaa" class="k3"/><use href="#oba" class="k4"/><use href="#oca" class="k3"/><use href="#oda" class="k1"/><use href="#ofa" class="k1"/><use href="#oga" class="k2"/><use href="#oha" class="k3"/><use href="#oia" class="k5"/><use href="#oja" class="k4"/><use href="#oka" class="k5"/><use href="#ola" class="k2"/><use href="#iba" class="g"/><use href="#ica" class="y"/><use href="#idb" class="x"/><use href="#ifa" class="y"/><use href="#igc" class="x"/><use href="#ijb" class="g"/><use href="#ilb" class="x"/><use href="#S"/><use href="#L"/></g>
<g transform="translate(1942.7)"><use href="#oeb" class="b"/><use href="#oga" class="k5"/><use href="#oha" class="e"/><use href="#oib" class="d"/><use href="#oka" class="a"/><use href="#ole" class="e"/><use href="#ial" class="x"/><use href="#S"/><use href="#L"/></g>
<g transform="translate(2058.8)"><use href="#oda" class="e"/><use href="#oea" class="k1"/><use href="#ofa" class="a"/><use href="#oga" class="k4"/><use href="#ohb" class="a"/><use href="#oja" class="b"/><use href="#oka" class="k3"/><use href="#old" class="k2"/><use href="#ibb" class="g"/><use href="#idg" class="x"/><use href="#ika" class="g"/><use href="#ilb" class="x"/><use href="#S"/><use href="#L"/></g>
<g transform="translate(2174.9)"><use href="#obj" class="k5"/><use href="#olb" class="k3"/><use href="#ibb" class="y"/><use href="#ida" class="x"/><use href="#iea" class="g"/><use href="#ifb" class="y"/><use href="#iha" class="x"/><use href="#iia" class="g"/><use href="#ija" class="y"/><use href="#ika" class="g"/><use href="#ilb" class="x"/><use href="#S"/><use href="#L"/></g>
<g transform="translate(2291)"><use href="#oba" class="k2"/><use href="#oca" class="k3"/><use href="#odd" class="k5"/><use href="#oha" class="k2"/><use href="#oic" class="k5"/><use href="#olb" class="d"/><use href="#ial" class="x"/><use href="#S"/><use href="#L"/></g>
<g transform="translate(2407.2)"><use href="#oal" class="k5"/><use href="#ibb" class="g"/><use href="#idb" class="x"/><use href="#ifa" class="g"/><use href="#igb" class="x"/><use href="#iic" class="g"/><use href="#ilb" class="x"/><use href="#S"/><use href="#L"/></g>
<g transform="translate(2523.3)"><use href="#oal" class="k5"/><use href="#idc" class="y"/><use href="#iga" class="x"/><use href="#ihh" class="g"/><use href="#S"/><use href="#L"/></g>
<g transform="translate(2639.4)"><use href="#oal" class="k5"/><use href="#iac" class="g"/><use href="#ida" class="x"/><use href="#iea" class="g"/><use href="#ifc" class="x"/><use href="#iic" class="g"/><use href="#ila" class="x"/><use href="#S"/><use href="#L"/></g>
<g transform="translate(2755.5)"><use href="#oac" class="k4"/><use href="#odb" class="k2"/><use href="#oga" class="k1"/><use href="#ohb" class="k2"/><use href="#ojc" class="k3"/><use href="#iac" class="g"/><use href="#ida" class="y"/><use href="#ieb" class="g"/><use href="#iga" class="y"/><use href="#iha" class="x"/><use href="#iia" class="g"/><use href="#ija" class="y"/><use href="#ika" class="g"/><use href="#ila" class="x"/><use href="#S"/><use href="#L"/></g>
<g transform="translate(2871.6)"><use href="#oab" class="k4"/><use href="#oca" class="k5"/><use href="#odb" class="k1"/><use href="#ohd" class="k2"/><use href="#ola" class="k3"/><use href="#iac" class="g"/><use href="#idc" class="y"/><use href="#iga" class="x"/><use href="#iha" class="y"/><use href="#iic" class="g"/><use href="#ila" class="y"/><use href="#S"/><use href="#L"/></g>
<g transform="translate(2987.8)"><use href="#oac" class="k5"/><use href="#oda" class="k1"/><use href="#ofa" class="a"/><use href="#oga" class="b"/><use href="#oha" class="a"/><use href="#ola" class="k4"/><use href="#iab" class="g"/><use href="#icd" class="y"/><use href="#iga" class="x"/><use href="#ihe" class="y"/><use href="#S"/><use href="#L"/></g>
<g transform="translate(3103.9)"><use href="#oaa" class="k1"/><use href="#oca" class="k2"/><use href="#oec" class="a"/><use href="#ojb" class="a"/><use href="#iba" class="g"/><use href="#ica" class="y"/><use href="#idj" class="x"/><use href="#S"/><use href="#L"/></g>
<g transform="translate(3220)"><use href="#oba" class="b"/><use href="#oed" class="a"/><use href="#oja" class="a"/><use href="#oka" class="b"/><use href="#olb" class="a"/><use href="#ibb" class="g"/><use href="#idj" class="x"/><use href="#S"/><use href="#L"/></g>
<g transform="translate(3336.1)"><use href="#oaa" class="k1"/><use href="#oca" class="k2"/><use href="#ofb" class="b"/><use href="#oia" class="k1"/><use href="#oja" class="a"/><use href="#oka" class="b"/><use href="#iac" class="y"/><use href="#ide" class="x"/><use href="#iib" class="y"/><use href="#ikb" class="x"/><use href="#S"/><use href="#L"/></g>
<g transform="translate(3452.2)"><use href="#dal" class="x"/><use href="#T"/><use href="#L"/></g>
<g transform="translate(3568.4)"><use href="#oda" class="k2"/><use href="#oea" class="k1"/><use href="#oha" class="k1"/><use href="#ola" class="k1"/><use href="#ial" class="x"/><use href="#S"/><use href="#L"/></g>
</g>
<g transform="translate(0,3277.2)">
<g transform="translate(317)"><use href="#oda" class="b"/><use href="#oea" class="a"/><use href="#ofa" class="b"/><use href="#oga" class="c"/><use href="#ohd" class="k3"/><use href="#old" class="k5"/><use href="#idc" class="y"/><use href="#iga" class="x"/><use href="#ihc" class="g"/><use href="#ika" class="y"/><use href="#ild" class="g"/><use href="#S"/><use href="#L"/></g>
<g transform="translate(433.1)"><use href="#oea" class="a"/><use href="#ofb" class="b"/><use href="#ohd" class="k3"/><use href="#old" class="k5"/><use href="#iba" class="y"/><use href="#ica" class="g"/><use href="#idb" class="y"/><use href="#ifb" class="x"/><use href="#iha" class="g"/><use href="#iia" class="y"/><use href="#ijd" class="g"/><use href="#S"/><use href="#L"/></g>
<g transform="translate(549.2)"><use href="#odd" class="k3"/><use href="#ohd" class="k4"/><use href="#old" class="k5"/><use href="#iac" class="y"/><use href="#ida" class="g"/><use href="#ieb" class="y"/><use href="#iga" class="x"/><use href="#ihe" class="g"/><use href="#S"/><use href="#L"/></g>
<g transform="translate(665.4)"><use href="#odd" class="d"/><use href="#ohd" class="k2"/><use href="#old" class="k5"/><use href="#icc" class="y"/><use href="#ifb" class="x"/><use href="#ihb" class="g"/><use href="#ijb" class="y"/><use href="#ilc" class="g"/><use href="#S"/><use href="#L"/></g>
<g transform="translate(781.5)"><use href="#oac" class="k5"/><use href="#odd" class="k1"/><use href="#ohb" class="k3"/><use href="#ojc" class="k4"/><use href="#iac" class="g"/><use href="#ida" class="x"/><use href="#iea" class="g"/><use href="#ifc" class="x"/><use href="#iia" class="g"/><use href="#ijc" class="x"/><use href="#S"/><use href="#L"/></g>
<g transform="translate(897.6)"><use href="#oaa" class="k5"/><use href="#obb" class="k4"/><use href="#odh" class="k3"/><use href="#ola" class="k4"/><use href="#ifb" class="x"/><use href="#ihb" class="g"/><use href="#ija" class="y"/><use href="#ika" class="x"/><use href="#ilf" class="g"/><use href="#S"/><use href="#L"/></g>
<g transform="translate(1013.7)"><use href="#oda" class="k2"/><use href="#oeb" class="k1"/><use href="#ogc" class="k2"/><use href="#oja" class="a"/><use href="#old" class="k3"/><use href="#iac" class="g"/><use href="#ida" class="x"/><use href="#iea" class="g"/><use href="#ifc" class="x"/><use href="#iia" class="g"/><use href="#ijc" class="x"/><use href="#S"/><use href="#L"/></g>
<g transform="translate(1129.8)"><use href="#oaa" class="k3"/><use href="#obb" class="k5"/><use href="#odb" class="c"/><use href="#ofb" class="b"/><use href="#oha" class="c"/><use href="#oic" class="k2"/><use href="#ola" class="k1"/><use href="#ial" class="x"/><use href="#S"/><use href="#L"/></g>
<g transform="translate(1246)"><use href="#odb" class="a"/><use href="#ofb" class="k2"/><use href="#ohc" class="k3"/><use href="#oka" class="k2"/><use href="#old" class="k5"/><use href="#iba" class="y"/><use href="#ica" class="g"/><use href="#idj" class="x"/><use href="#S"/><use href="#L"/></g>
<g transform="translate(1362.1)"><use href="#oea" class="a"/><use href="#oga" class="k2"/><use href="#ohb" class="k3"/><use href="#oja" class="k2"/><use href="#oka" class="k1"/><use href="#old" class="k5"/><use href="#ial" class="x"/><use href="#S"/><use href="#L"/></g>
<g transform="translate(1478.2)"><use href="#obb" class="c"/><use href="#odb" class="d"/><use href="#ofb" class="e"/><use href="#ohb" class="b"/><use href="#oja" class="c"/><use href="#oka" class="e"/><use href="#olb" class="d"/><use href="#ial" class="x"/><use href="#S"/><use href="#L"/></g>
<g transform="translate(1594.3)"><use href="#oaa" class="a"/><use href="#obb" class="b"/><use href="#oda" class="c"/><use href="#oea" class="d"/><use href="#ofa" class="b"/><use href="#oga" class="k2"/><use href="#oha" class="d"/><use href="#oib" class="e"/><use href="#oka" class="d"/><use href="#ola" class="b"/><use href="#ial" class="x"/><use href="#S"/><use href="#L"/></g>
<g transform="translate(1710.4)"><use href="#obb" class="c"/><use href="#odb" class="e"/><use href="#ofa" class="c"/><use href="#oge" class="e"/><use href="#olb" class="b"/><use href="#ial" class="x"/><use href="#S"/><use href="#L"/></g>
<g transform="translate(1826.6)"><use href="#oea" class="b"/><use href="#ofa" class="a"/><use href="#ohc" class="k3"/><use href="#oka" class="k4"/><use href="#old" class="k3"/><use href="#ial" class="x"/><use href="#S"/><use href="#L"/></g>
<g transform="translate(1942.7)"><use href="#oea" class="c"/><use href="#ofa" class="e"/><use href="#oga" class="b"/><use href="#ohi" class="e"/><use href="#ial" class="x"/><use href="#S"/><use href="#L"/></g>
<g transform="translate(2058.8)"><use href="#obb" class="k2"/><use href="#odc" class="e"/><use href="#oga" class="c"/><use href="#oic" class="a"/><use href="#olb" class="k1"/><use href="#ial" class="x"/><use href="#S"/><use href="#L"/></g>
<g transform="translate(2174.9)"><use href="#oba" class="k4"/><use href="#oci" class="k5"/><use href="#olb" class="k3"/><use href="#ial" class="x"/><use href="#S"/><use href="#L"/></g>
<g transform="translate(2291)"><use href="#oba" class="c"/><use href="#oca" class="b"/><use href="#odd" class="k5"/><use href="#oha" class="k2"/><use href="#oic" class="k5"/><use href="#olb" class="d"/><use href="#ial" class="x"/><use href="#S"/><use href="#L"/></g>
<g transform="translate(2407.2)"><use href="#obj" class="k5"/><use href="#olb" class="k4"/><use href="#ial" class="x"/><use href="#S"/><use href="#L"/></g>
<g transform="translate(2523.3)"><use href="#oak" class="k5"/><use href="#ola" class="k3"/><use href="#iae" class="g"/><use href="#ifa" class="y"/><use href="#iga" class="x"/><use href="#iha" class="g"/><use href="#iic" class="y"/><use href="#ila" class="x"/><use href="#S"/><use href="#L"/></g>
<g transform="translate(2639.4)"><use href="#oal" class="k5"/><use href="#ibb" class="g"/><use href="#idj" class="x"/><use href="#S"/><use href="#L"/></g>
<g transform="translate(2755.5)"><use href="#oac" class="k5"/><use href="#odb" class="k4"/><use href="#ofa" class="k3"/><use href="#oga" class="k2"/><use href="#oha" class="k4"/><use href="#oia" class="k5"/><use href="#ojb" class="k3"/><use href="#ola" class="k4"/><use href="#iaa" class="g"/><use href="#ibb" class="y"/><use href="#ide" class="x"/><use href="#iia" class="g"/><use href="#ija" class="y"/><use href="#ikb" class="x"/><use href="#S"/><use href="#L"/></g>
<g transform="translate(2871.6)"><use href="#oca" class="k5"/><use href="#odb" class="k3"/><use href="#ofb" class="k1"/><use href="#ohd" class="k3"/><use href="#olc" class="k4"/><use href="#iaa" class="g"/><use href="#iba" class="y"/><use href="#icb" class="g"/><use href="#ieb" class="y"/><use href="#iga" class="x"/><use href="#ihb" class="g"/><use href="#ijc" class="y"/><use href="#S"/><use href="#L"/></g>
<g transform="translate(2987.8)"><use href="#obb" class="k5"/><use href="#odb" class="k3"/><use href="#oga" class="b"/><use href="#ohd" class="k2"/><use href="#olb" class="k4"/><use href="#ibd" class="y"/><use href="#ifc" class="x"/><use href="#iic" class="y"/><use href="#ilb" class="g"/><use href="#S"/><use href="#L"/></g>
<g transform="translate(3103.9)"><use href="#oba" class="k2"/><use href="#oca" class="k3"/><use href="#odb" class="k1"/><use href="#ofb" class="b"/><use href="#oha" class="k2"/><use href="#oia" class="k1"/><use href="#oja" class="a"/><use href="#olb" class="k3"/><use href="#ica" class="y"/><use href="#idk" class="x"/><use href="#S"/><use href="#L"/></g>
<g transform="translate(3220)"><use href="#oea" class="a"/><use href="#oia" class="a"/><use href="#olc" class="a"/><use href="#iab" class="g"/><use href="#ica" class="y"/><use href="#idi" class="x"/><use href="#S"/><use href="#L"/></g>
<g transform="translate(3336.1)"><use href="#oba" class="k2"/><use href="#oca" class="k3"/><use href="#odb" class="k1"/><use href="#ofa" class="a"/><use href="#ohb" class="k3"/><use href="#oja" class="a"/><use href="#oka" class="k1"/><use href="#olb" class="k3"/><use href="#iac" class="y"/><use href="#idd" class="x"/><use href="#iha" class="y"/><use href="#iia" class="g"/><use href="#ijb" class="x"/><use href="#ila" class="g"/><use href="#S"/><use href="#L"/></g>
<g transform="translate(3452.2)"><use href="#oaa" class="a"/><use href="#oeb" class="a"/><use href="#ohb" class="a"/><use href="#ial" class="x"/><use href="#S"/><use href="#L"/></g>
<g transform="translate(3568.4)"><use href="#dal" class="x"/><use href="#T"/><use href="#L"/></g>
</g>
<g font-size="70" text-anchor="middle"><text transform="translate(250,54) rotate(-90)">Sc</text><text transform="translate(250,178) rotate(-90)">Y</text><text transform="translate(250,301.9) rotate(-90)">Ti</text><text transform="translate(250,425.9) rotate(-90)">Zr</text><text transform="translate(250,549.9) rotate(-90)">Hf</text><text transform="translate(250,673.9) rotate(-90)">V</text><text transform="translate(250,797.8) rotate(-90)">Nb</text><text transform="translate(250,921.8) rotate(-90)">Ta</text><text transform="translate(250,1045.8) rotate(-90)">Cr</text><text transform="translate(250,1169.7) rotate(-90)">Mo</text><text transform="translate(250,1293.7) rotate(-90)">W</text><text transform="translate(250,1417.7) rotate(-90)">Mn</text><text transform="translate(250,1541.6) rotate(-90)">Re</text><text transform="translate(250,1665.6) rotate(-90)">Fe</text><text transform="translate(250,1789.6) rotate(-90)">Ru</text><text transform="translate(250,1913.5) rotate(-90)">Os</text><text transform="translate(250,2037.5) rotate(-90)">Co</text><text transform="translate(250,2161.5) rotate(-90)">Rh</text><text transform="translate(250,2285.5) rotate(-90)">Ir</text><text transform="translate(250,2409.4) rotate(-90)">Ni</text><text transform="translate(250,2533.4) rotate(-90)">Pd</text><text transform="translate(250,2657.4) rotate(-90)">Pt</text><text transform="translate(250,2781.3) rotate(-90)">Cu</text><text transform="translate(250,2905.3) rotate(-90)">Ag</text><text transform="translate(250,3029.3) rotate(-90)">Au</text><text transform="translate(250,3153.2) rotate(-90)">Zn</text><text transform="translate(250,3277.2) rotate(-90)">Cd</text></g>
<g font-size="70" text-anchor="middle"><text x="317" y="3378">Sc</text><text x="433.1" y="3378">Y</text><text x="549.2" y="3378">La</text><text x="665.4" y="3378">Lu</text><text x="781.5" y="3378">Ti</text><text x="897.6" y="3378">Zr</text><text x="1013.7" y="3378">Hf</text><text x="1129.8" y="3378">V</text><text x="1246" y="3378">Nb</text><text x="1362.1" y="3378">Ta</text><text x="1478.2" y="3378">Cr</text><text x="1594.3" y="3378">Mo</text><text x="1710.4" y="3378">W</text><text x="1826.6" y="3378">Mn</text><text x="1942.7" y="3378">Re</text><text x="2058.8" y="3378">Fe</text><text x="2174.9" y="3378">Ru</text><text x="2291" y="3378">Os</text><text x="2407.2" y="3378">Co</text><text x="2523.3" y="3378">Rh</text><text x="2639.4" y="3378">Ir</text><text x="2755.5" y="3378">Ni</text><text x="2871.6" y="3378">Pd</text><text x="2987.8" y="3378">Pt</text><text x="3103.9" y="3378">Cu</text><text x="3220" y="3378">Ag</text><text x="3336.1" y="3378">Au</text><text x="3452.2" y="3378">Zn</text><text x="3568.4" y="3378">Cd</text></g>
<text transform="translate(122,1607) rotate(-90)" font-size="121" font-weight="700" text-anchor="middle">Y元素</text>
<text x="1870" y="3557" font-size="121" font-weight="700" text-anchor="middle">X元素</text>
<g fill="none" stroke="#2a4fa2" stroke-width="3.8"><rect x="1073.6" y="1610.5" width="113.2" height="110.5"/><path d="M1186.8 1610.5L3764 1277.5M1186.8 1721L3764 2063.5" stroke-width="3.8"/><rect x="3764" y="1277.5" width="825.5" height="786" stroke-width="3.6" fill="#fff"/></g>
<text x="3778" y="935" font-size="83.3" font-weight="700">円の内側：結晶安定性</text>
<rect x="3664.5" y="1008" width="52" height="36" fill="#c1c1c1"/><rect x="3664.5" y="1097" width="52" height="36" fill="#f2e144"/><rect x="3664.5" y="1186" width="52" height="36" fill="#24873b"/>
<g font-size="72" font-weight="350"><text x="3786" y="1048.5">熱力学的に不安定</text><text x="3786" y="1145">熱力学的には安定だがフォノン不安定</text><text x="3786" y="1235">熱力学的・フォノンともに安定</text></g>
<g transform="translate(4174.6,1659.2)" font-size="52.6"><path d="M0.0 -366.8A366.8 366.8 0 0 1 183.4 -317.7L103.8 -179.9A207.7 207.7 0 0 0 0.0 -207.7Z" fill="#ec7173"/><path d="M0 0L0.0 -207.7A207.7 207.7 0 0 1 103.8 -179.9Z" class="x"/><path d="M183.4 -317.7A366.8 366.8 0 0 1 317.7 -183.4L179.9 -103.9A207.7 207.7 0 0 0 103.8 -179.9Z" fill="#fad6d6"/><path d="M0 0L103.8 -179.9A207.7 207.7 0 0 1 179.9 -103.9Z" class="g"/><path d="M317.7 -183.4A366.8 366.8 0 0 1 366.8 -0.0L207.7 -0.0A207.7 207.7 0 0 0 179.9 -103.9Z" fill="#f4a5a5"/><path d="M0 0L179.9 -103.9A207.7 207.7 0 0 1 207.7 -0.0Z" class="g"/><path d="M366.8 -0.0A366.8 366.8 0 0 1 317.7 183.4L179.9 103.8A207.7 207.7 0 0 0 207.7 -0.0Z" fill="#4756a6"/><path d="M0 0L207.7 -0.0A207.7 207.7 0 0 1 179.9 103.8Z" class="x"/><path d="M317.7 183.4A366.8 366.8 0 0 1 183.4 317.7L103.8 179.9A207.7 207.7 0 0 0 179.9 103.8Z" fill="#4151a3"/><path d="M0 0L179.9 103.8A207.7 207.7 0 0 1 103.8 179.9Z" class="g"/><path d="M183.4 317.7A366.8 366.8 0 0 1 0.0 366.8L0.0 207.7A207.7 207.7 0 0 0 103.8 179.9Z" fill="#4e5ba9"/><path d="M0 0L103.8 179.9A207.7 207.7 0 0 1 0.0 207.7Z" class="y"/><path d="M0.0 366.8A366.8 366.8 0 0 1 -183.4 317.7L-103.9 179.9A207.7 207.7 0 0 0 0.0 207.7Z" fill="#8f8fc9"/><path d="M0 0L0.0 207.7A207.7 207.7 0 0 1 -103.9 179.9Z" class="y"/><path d="M-183.4 317.7A366.8 366.8 0 0 1 -317.7 183.4L-179.9 103.9A207.7 207.7 0 0 0 -103.9 179.9Z" fill="#8488c3"/><path d="M0 0L-103.9 179.9A207.7 207.7 0 0 1 -179.9 103.9Z" class="x"/><path d="M-317.7 183.4A366.8 366.8 0 0 1 -366.8 0.0L-207.7 0.0A207.7 207.7 0 0 0 -179.9 103.9Z" fill="#c0c0e1"/><path d="M0 0L-179.9 103.9A207.7 207.7 0 0 1 -207.7 0.0Z" class="x"/><path d="M-366.8 0.0A366.8 366.8 0 0 1 -317.7 -183.4L-179.9 -103.9A207.7 207.7 0 0 0 -207.7 0.0Z" fill="#9b9cd0"/><path d="M0 0L-207.7 0.0A207.7 207.7 0 0 1 -179.9 -103.9Z" class="g"/><path d="M-317.7 -183.4A366.8 366.8 0 0 1 -183.4 -317.7L-103.9 -179.9A207.7 207.7 0 0 0 -179.9 -103.9Z" fill="#f2f2f9"/><path d="M0 0L-179.9 -103.9A207.7 207.7 0 0 1 -103.9 -179.9Z" class="y"/><path d="M-183.4 -317.7A366.8 366.8 0 0 1 -0.0 -366.8L-0.0 -207.7A207.7 207.7 0 0 0 -103.9 -179.9Z" fill="#e6e6f4"/><path d="M0 0L-103.9 -179.9A207.7 207.7 0 0 1 -0.0 -207.7Z" class="x"/><path d="M0.0 -366.8L-0.0 366.8M183.4 -317.7L-183.4 317.7M317.7 -183.4L-317.7 183.4M366.8 -0.0L-366.8 0.0M317.7 183.4L-317.7 -183.4M183.4 317.7L-183.4 -317.7" stroke="#fff" stroke-width="1" stroke-opacity=".8" fill="none"/><circle r="207.7" stroke="#fff" stroke-width="1" stroke-opacity=".8" fill="none"/><text x="77.1" y="-271.0">In</text><text x="210.7" y="-193.9">Ga</text><text x="287.8" y="-60.3">Al</text><text x="287.8" y="93.9">Bi</text><text x="210.7" y="227.5">Sb</text><text x="77.1" y="304.6">As</text><text x="-77.1" y="304.6" text-anchor="end">P</text><text x="-210.7" y="227.5" text-anchor="end">Pb</text><text x="-287.8" y="93.9" text-anchor="end">Sn</text><text x="-287.8" y="-60.3" text-anchor="end">Ge</text><text x="-210.7" y="-193.9" text-anchor="end">Si</text><text x="-77.1" y="-271.0" text-anchor="end">Tl</text></g>
<text x="4362" y="2023.5" font-size="61" letter-spacing="1.5">V<tspan font-size="45" dy="13">2</tspan><tspan dy="-13">FeZ</tspan></text>
<text x="4175.5" y="2149.5" font-size="83" font-weight="700" text-anchor="middle">円の外側</text>
<text x="3703" y="2238" font-size="72.2"><tspan font-weight="700" fill="#5a65ab">青色</tspan>：regular構造がより安定</text>
<text x="3699" y="2326" font-size="72.2"><tspan font-weight="700" fill="#d9605f">赤色</tspan>：inverse構造がより安定</text>
<defs><linearGradient id="cb"><stop offset="0" stop-color="#4051a3"/><stop offset=".5" stop-color="#fff"/><stop offset="1" stop-color="#e94a4b"/></linearGradient></defs>
<rect x="3835.6" y="2392" width="735" height="36.5" fill="url(#cb)" stroke="#333" stroke-width="1"/>
<path d="M3835.6 2428.5v12.5M4019.3 2428.5v12.5M4203.1 2428.5v12.5M4386.9 2428.5v12.5M4570.6 2428.5v12.5" stroke="#222" stroke-width="1.6" fill="none"/>
<g font-size="46" text-anchor="middle"><text x="3835.6" y="2482.5">−0.10</text><text x="4019.3" y="2482.5">−0.05</text><text x="4203.1" y="2482.5">0.00</text><text x="4386.9" y="2482.5">0.05</text><text x="4570.6" y="2482.5">0.10</text></g>
<g class="m" font-size="64"><text x="3940" y="2550.5" font-style="italic">E</text><text x="3983" y="2558.7" font-size="47.5">reg</text><text x="4066" y="2557" font-size="66">−</text><text x="4127.5" y="2550.5" font-style="italic">E</text><text x="4169.5" y="2558.7" font-size="47.5">inv</text></g><text x="4264" y="2549" font-size="46.7">(eV/atom)</text>
</svg></body></html>
